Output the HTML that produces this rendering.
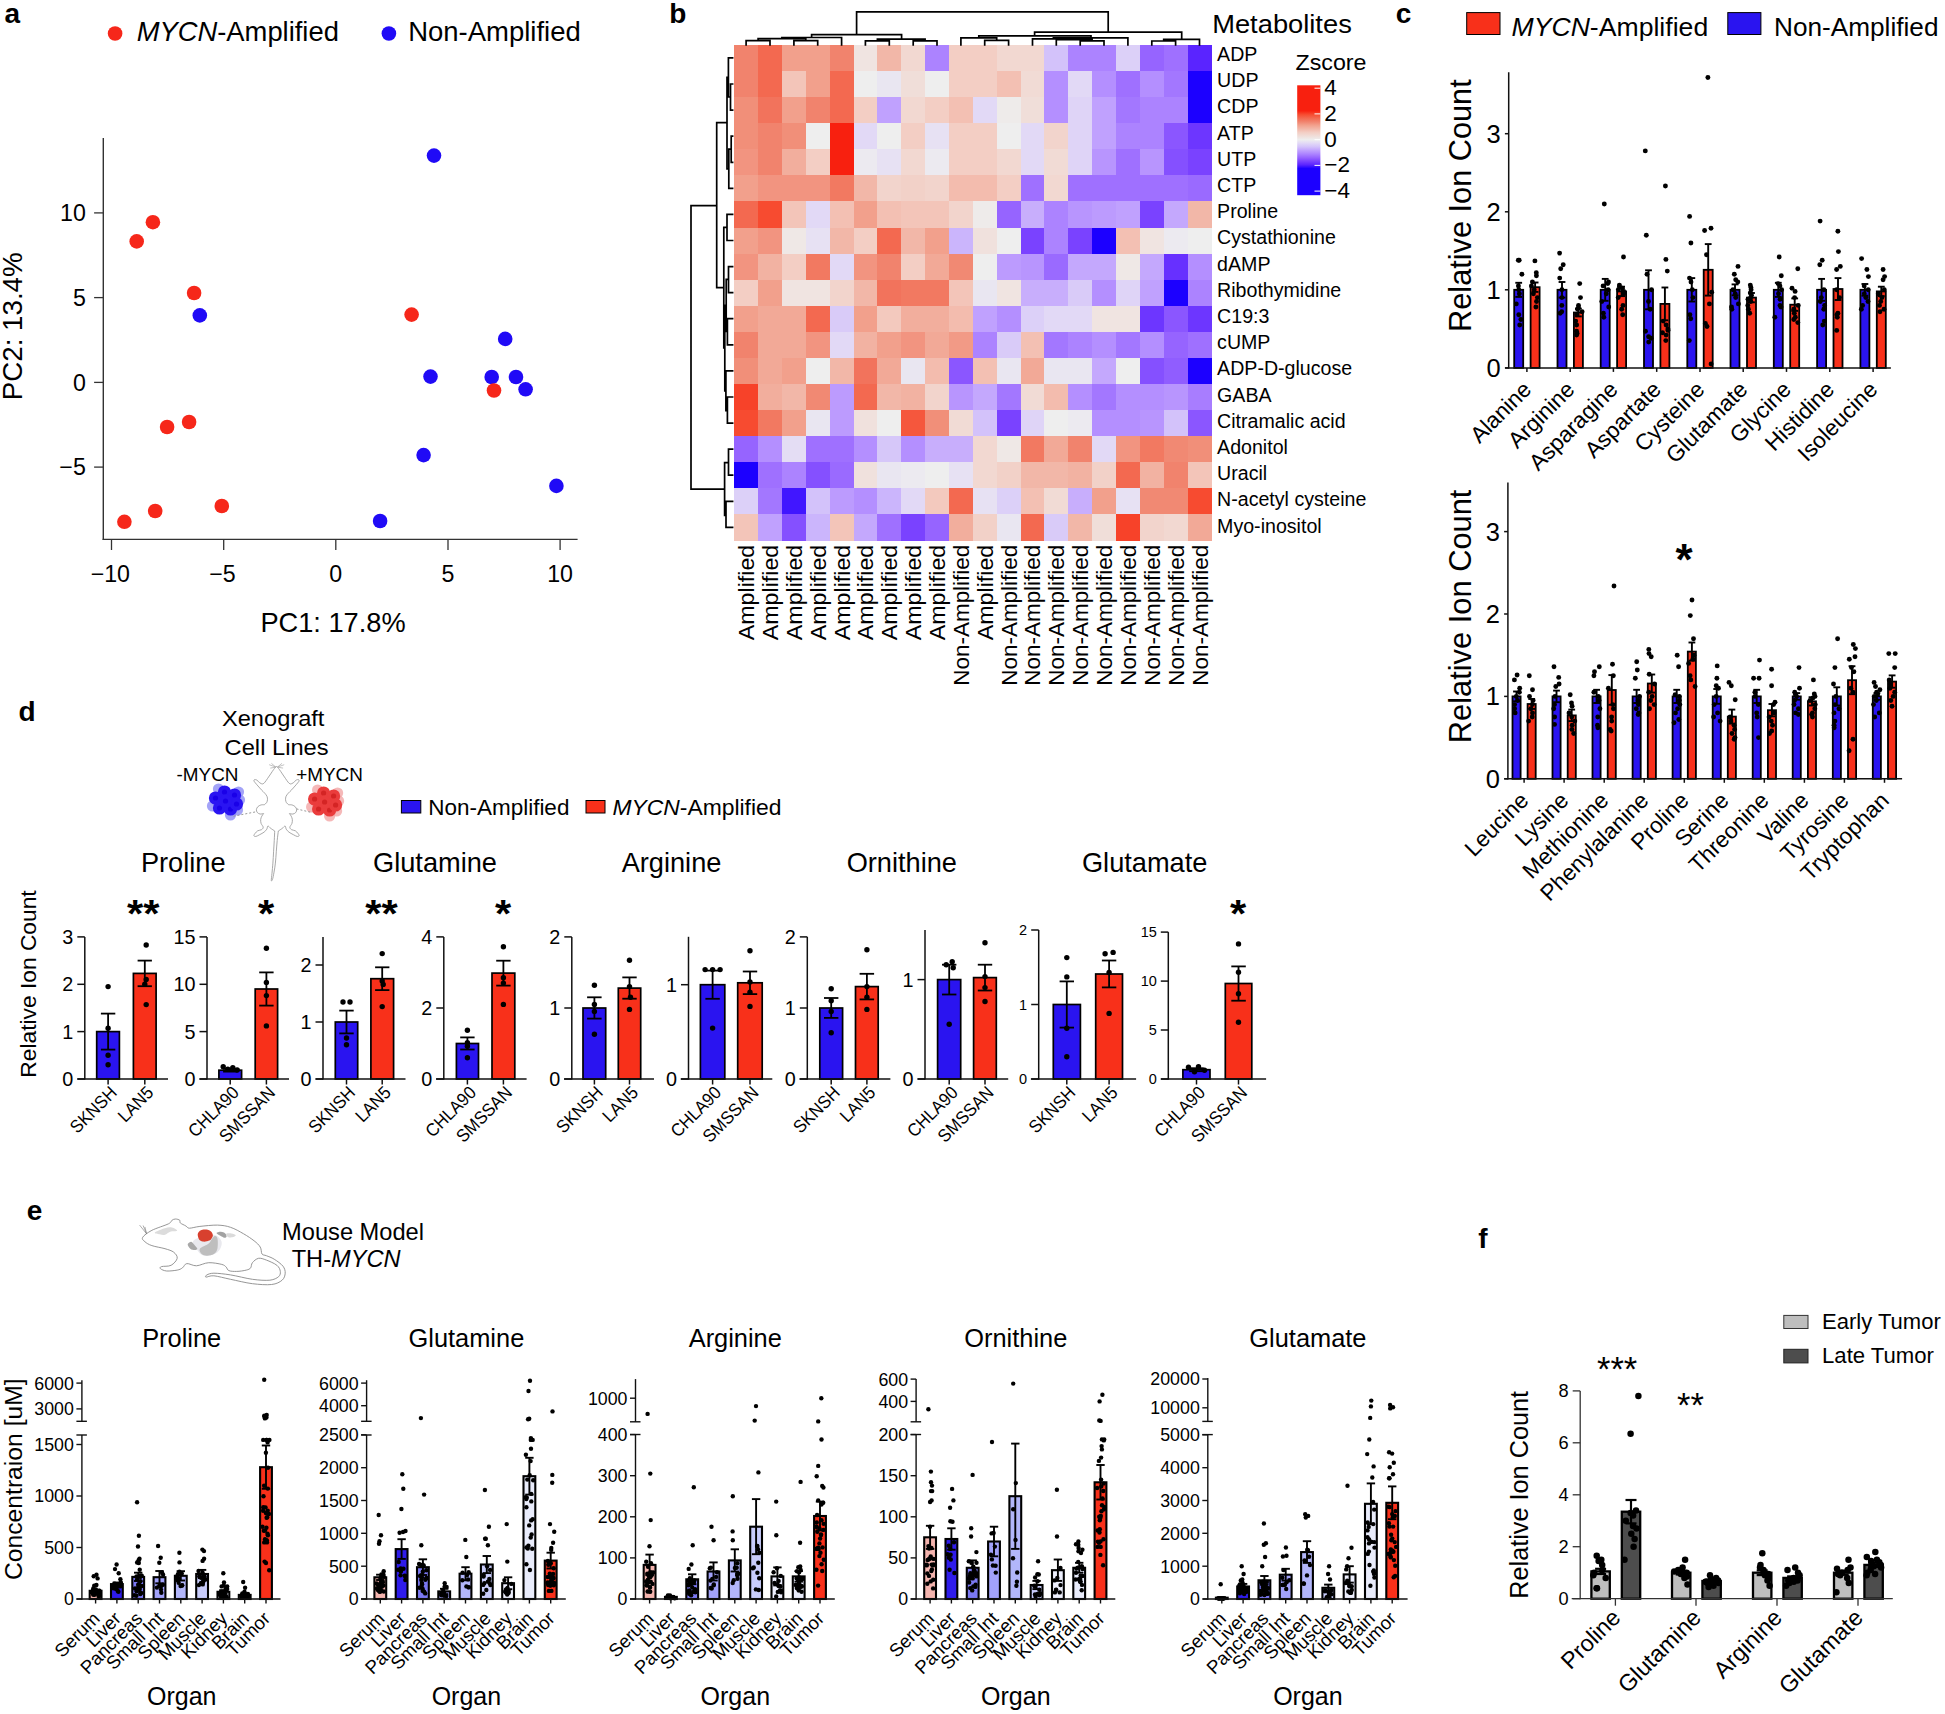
<!DOCTYPE html>
<html><head><meta charset="utf-8"><title>Figure</title>
<style>
html,body{margin:0;padding:0;background:#fff;}
svg{display:block;font-family:"Liberation Sans",Arial,Helvetica,sans-serif;}
</style></head><body>
<svg width="1945" height="1714" viewBox="0 0 1945 1714">
<rect width="1945" height="1714" fill="#fff"/>
<text x="4.5" y="22.8" font-size="28" font-weight="bold">a</text>
<circle cx="115.1" cy="33.5" r="7.3" fill="#F6271A"/>
<text x="136.7" y="41.2" font-size="27.4" textLength="202.2" lengthAdjust="spacingAndGlyphs"><tspan font-style="italic">MYCN</tspan>-Amplified</text>
<circle cx="388.9" cy="33.5" r="7.3" fill="#200AF6"/>
<text x="408.2" y="41.2" font-size="27.4" textLength="172.5" lengthAdjust="spacingAndGlyphs">Non-Amplified</text>
<line x1="103.3" y1="137.9" x2="103.3" y2="540.1" stroke="#333" stroke-width="1.4"/>
<line x1="102.6" y1="539.4" x2="577.6" y2="539.4" stroke="#333" stroke-width="1.4"/>
<line x1="111.5" y1="539.0" x2="111.5" y2="550.0" stroke="#333" stroke-width="1.3"/>
<text x="110.3" y="582.2" font-size="23.2" text-anchor="middle">−10</text>
<line x1="223.7" y1="539.0" x2="223.7" y2="550.0" stroke="#333" stroke-width="1.3"/>
<text x="222.5" y="582.2" font-size="23.2" text-anchor="middle">−5</text>
<line x1="335.8" y1="539.0" x2="335.8" y2="550.0" stroke="#333" stroke-width="1.3"/>
<text x="335.8" y="582.2" font-size="23.2" text-anchor="middle">0</text>
<line x1="448.0" y1="539.0" x2="448.0" y2="550.0" stroke="#333" stroke-width="1.3"/>
<text x="448.0" y="582.2" font-size="23.2" text-anchor="middle">5</text>
<line x1="560.1" y1="539.0" x2="560.1" y2="550.0" stroke="#333" stroke-width="1.3"/>
<text x="560.1" y="582.2" font-size="23.2" text-anchor="middle">10</text>
<line x1="94.1" y1="212.9" x2="103.2" y2="212.9" stroke="#333" stroke-width="1.3"/>
<text x="85.8" y="221.2" font-size="23.2" text-anchor="end">10</text>
<line x1="94.1" y1="297.6" x2="103.2" y2="297.6" stroke="#333" stroke-width="1.3"/>
<text x="85.8" y="305.9" font-size="23.2" text-anchor="end">5</text>
<line x1="94.1" y1="382.4" x2="103.2" y2="382.4" stroke="#333" stroke-width="1.3"/>
<text x="85.8" y="390.7" font-size="23.2" text-anchor="end">0</text>
<line x1="94.1" y1="467.1" x2="103.2" y2="467.1" stroke="#333" stroke-width="1.3"/>
<text x="85.8" y="475.4" font-size="23.2" text-anchor="end">−5</text>
<text x="333.0" y="631.5" font-size="27.2" text-anchor="middle" textLength="145.2" lengthAdjust="spacingAndGlyphs">PC1: 17.8%</text>
<text x="22.3" y="326.3" font-size="27.2" text-anchor="middle" transform="rotate(-90 22.3 326.3)" textLength="148.0" lengthAdjust="spacingAndGlyphs">PC2: 13.4%</text>
<circle cx="434.0" cy="155.6" r="7.3" fill="#200AF6"/>
<circle cx="199.8" cy="315.4" r="7.3" fill="#200AF6"/>
<circle cx="505.2" cy="338.9" r="7.3" fill="#200AF6"/>
<circle cx="430.5" cy="376.6" r="7.3" fill="#200AF6"/>
<circle cx="491.7" cy="377.0" r="7.3" fill="#200AF6"/>
<circle cx="516.0" cy="377.0" r="7.3" fill="#200AF6"/>
<circle cx="525.6" cy="389.3" r="7.3" fill="#200AF6"/>
<circle cx="423.6" cy="455.1" r="7.3" fill="#200AF6"/>
<circle cx="556.4" cy="485.9" r="7.3" fill="#200AF6"/>
<circle cx="380.1" cy="521.0" r="7.3" fill="#200AF6"/>
<circle cx="136.7" cy="241.4" r="7.3" fill="#F6271A"/>
<circle cx="152.9" cy="222.2" r="7.3" fill="#F6271A"/>
<circle cx="194.1" cy="293.0" r="7.3" fill="#F6271A"/>
<circle cx="167.1" cy="427.0" r="7.3" fill="#F6271A"/>
<circle cx="189.1" cy="422.0" r="7.3" fill="#F6271A"/>
<circle cx="124.4" cy="521.8" r="7.3" fill="#F6271A"/>
<circle cx="155.2" cy="511.0" r="7.3" fill="#F6271A"/>
<circle cx="221.8" cy="506.0" r="7.3" fill="#F6271A"/>
<circle cx="411.6" cy="314.6" r="7.3" fill="#F6271A"/>
<circle cx="494.0" cy="390.5" r="7.3" fill="#F6271A"/>
<text x="669.3" y="22.8" font-size="28" font-weight="bold">b</text>
<g shape-rendering="crispEdges">
<rect x="734.2" y="44.9" width="24.4" height="26.6" fill="#f1836d"/>
<rect x="758.1" y="44.9" width="24.4" height="26.6" fill="#f36950"/>
<rect x="781.9" y="44.9" width="24.4" height="26.6" fill="#f2a08c"/>
<rect x="805.8" y="44.9" width="24.4" height="26.6" fill="#f2a08c"/>
<rect x="829.6" y="44.9" width="24.4" height="26.6" fill="#f1836d"/>
<rect x="853.5" y="44.9" width="24.4" height="26.6" fill="#f0e4e1"/>
<rect x="877.4" y="44.9" width="24.4" height="26.6" fill="#f2b7a8"/>
<rect x="901.2" y="44.9" width="24.4" height="26.6" fill="#f2d8d1"/>
<rect x="925.1" y="44.9" width="24.4" height="26.6" fill="#ac83ff"/>
<rect x="948.9" y="44.9" width="24.4" height="26.6" fill="#f3cec4"/>
<rect x="972.8" y="44.9" width="24.4" height="26.6" fill="#f3cec4"/>
<rect x="996.7" y="44.9" width="24.4" height="26.6" fill="#f2d8d1"/>
<rect x="1020.5" y="44.9" width="24.4" height="26.6" fill="#f2d8d1"/>
<rect x="1044.4" y="44.9" width="24.4" height="26.6" fill="#d3c2fa"/>
<rect x="1068.2" y="44.9" width="24.4" height="26.6" fill="#ac83ff"/>
<rect x="1092.1" y="44.9" width="24.4" height="26.6" fill="#ac83ff"/>
<rect x="1116.0" y="44.9" width="24.4" height="26.6" fill="#dcd0f8"/>
<rect x="1139.8" y="44.9" width="24.4" height="26.6" fill="#9664ff"/>
<rect x="1163.7" y="44.9" width="24.4" height="26.6" fill="#9f70ff"/>
<rect x="1187.5" y="44.9" width="24.4" height="26.6" fill="#5a24ff"/>
<rect x="734.2" y="71.0" width="24.4" height="26.6" fill="#f1836d"/>
<rect x="758.1" y="71.0" width="24.4" height="26.6" fill="#f36950"/>
<rect x="781.9" y="71.0" width="24.4" height="26.6" fill="#f3c5b9"/>
<rect x="805.8" y="71.0" width="24.4" height="26.6" fill="#f2a08c"/>
<rect x="829.6" y="71.0" width="24.4" height="26.6" fill="#f36950"/>
<rect x="853.5" y="71.0" width="24.4" height="26.6" fill="#eeeeee"/>
<rect x="877.4" y="71.0" width="24.4" height="26.6" fill="#e9e6f1"/>
<rect x="901.2" y="71.0" width="24.4" height="26.6" fill="#f0ded9"/>
<rect x="925.1" y="71.0" width="24.4" height="26.6" fill="#eeeeee"/>
<rect x="948.9" y="71.0" width="24.4" height="26.6" fill="#f3cec4"/>
<rect x="972.8" y="71.0" width="24.4" height="26.6" fill="#f3cec4"/>
<rect x="996.7" y="71.0" width="24.4" height="26.6" fill="#f3c0b3"/>
<rect x="1020.5" y="71.0" width="24.4" height="26.6" fill="#f1dbd5"/>
<rect x="1044.4" y="71.0" width="24.4" height="26.6" fill="#b48fff"/>
<rect x="1068.2" y="71.0" width="24.4" height="26.6" fill="#e2d9f6"/>
<rect x="1092.1" y="71.0" width="24.4" height="26.6" fill="#b48fff"/>
<rect x="1116.0" y="71.0" width="24.4" height="26.6" fill="#9f70ff"/>
<rect x="1139.8" y="71.0" width="24.4" height="26.6" fill="#b48fff"/>
<rect x="1163.7" y="71.0" width="24.4" height="26.6" fill="#a377ff"/>
<rect x="1187.5" y="71.0" width="24.4" height="26.6" fill="#1c00ff"/>
<rect x="734.2" y="97.1" width="24.4" height="26.6" fill="#f18f79"/>
<rect x="758.1" y="97.1" width="24.4" height="26.6" fill="#f2735c"/>
<rect x="781.9" y="97.1" width="24.4" height="26.6" fill="#f2a08c"/>
<rect x="805.8" y="97.1" width="24.4" height="26.6" fill="#f1836d"/>
<rect x="829.6" y="97.1" width="24.4" height="26.6" fill="#f36950"/>
<rect x="853.5" y="97.1" width="24.4" height="26.6" fill="#f3cec4"/>
<rect x="877.4" y="97.1" width="24.4" height="26.6" fill="#c0a1fe"/>
<rect x="901.2" y="97.1" width="24.4" height="26.6" fill="#f2d8d1"/>
<rect x="925.1" y="97.1" width="24.4" height="26.6" fill="#f3cec4"/>
<rect x="948.9" y="97.1" width="24.4" height="26.6" fill="#f3c0b3"/>
<rect x="972.8" y="97.1" width="24.4" height="26.6" fill="#e2d9f6"/>
<rect x="996.7" y="97.1" width="24.4" height="26.6" fill="#eeebea"/>
<rect x="1020.5" y="97.1" width="24.4" height="26.6" fill="#f0ded9"/>
<rect x="1044.4" y="97.1" width="24.4" height="26.6" fill="#b48fff"/>
<rect x="1068.2" y="97.1" width="24.4" height="26.6" fill="#dfd4f7"/>
<rect x="1092.1" y="97.1" width="24.4" height="26.6" fill="#c0a1fe"/>
<rect x="1116.0" y="97.1" width="24.4" height="26.6" fill="#a377ff"/>
<rect x="1139.8" y="97.1" width="24.4" height="26.6" fill="#ac83ff"/>
<rect x="1163.7" y="97.1" width="24.4" height="26.6" fill="#ac83ff"/>
<rect x="1187.5" y="97.1" width="24.4" height="26.6" fill="#1c00ff"/>
<rect x="734.2" y="123.1" width="24.4" height="26.6" fill="#f18f79"/>
<rect x="758.1" y="123.1" width="24.4" height="26.6" fill="#f1836d"/>
<rect x="781.9" y="123.1" width="24.4" height="26.6" fill="#f18f79"/>
<rect x="805.8" y="123.1" width="24.4" height="26.6" fill="#eeeeee"/>
<rect x="829.6" y="123.1" width="24.4" height="26.6" fill="#f8200f"/>
<rect x="853.5" y="123.1" width="24.4" height="26.6" fill="#e2d9f6"/>
<rect x="877.4" y="123.1" width="24.4" height="26.6" fill="#eeeeee"/>
<rect x="901.2" y="123.1" width="24.4" height="26.6" fill="#f3cec4"/>
<rect x="925.1" y="123.1" width="24.4" height="26.6" fill="#e7e1f3"/>
<rect x="948.9" y="123.1" width="24.4" height="26.6" fill="#f3cec4"/>
<rect x="972.8" y="123.1" width="24.4" height="26.6" fill="#f3cec4"/>
<rect x="996.7" y="123.1" width="24.4" height="26.6" fill="#eeeeee"/>
<rect x="1020.5" y="123.1" width="24.4" height="26.6" fill="#e2d9f6"/>
<rect x="1044.4" y="123.1" width="24.4" height="26.6" fill="#f2d4cc"/>
<rect x="1068.2" y="123.1" width="24.4" height="26.6" fill="#dfd4f7"/>
<rect x="1092.1" y="123.1" width="24.4" height="26.6" fill="#c0a1fe"/>
<rect x="1116.0" y="123.1" width="24.4" height="26.6" fill="#ac83ff"/>
<rect x="1139.8" y="123.1" width="24.4" height="26.6" fill="#ac83ff"/>
<rect x="1163.7" y="123.1" width="24.4" height="26.6" fill="#8b56ff"/>
<rect x="1187.5" y="123.1" width="24.4" height="26.6" fill="#6d36ff"/>
<rect x="734.2" y="149.2" width="24.4" height="26.6" fill="#f29480"/>
<rect x="758.1" y="149.2" width="24.4" height="26.6" fill="#f1836d"/>
<rect x="781.9" y="149.2" width="24.4" height="26.6" fill="#f2ae9d"/>
<rect x="805.8" y="149.2" width="24.4" height="26.6" fill="#f3cec4"/>
<rect x="829.6" y="149.2" width="24.4" height="26.6" fill="#f8200f"/>
<rect x="853.5" y="149.2" width="24.4" height="26.6" fill="#eceaf0"/>
<rect x="877.4" y="149.2" width="24.4" height="26.6" fill="#e7e1f3"/>
<rect x="901.2" y="149.2" width="24.4" height="26.6" fill="#f2d8d1"/>
<rect x="925.1" y="149.2" width="24.4" height="26.6" fill="#eceaf0"/>
<rect x="948.9" y="149.2" width="24.4" height="26.6" fill="#f3cec4"/>
<rect x="972.8" y="149.2" width="24.4" height="26.6" fill="#f3cec4"/>
<rect x="996.7" y="149.2" width="24.4" height="26.6" fill="#f2d8d1"/>
<rect x="1020.5" y="149.2" width="24.4" height="26.6" fill="#e2d9f6"/>
<rect x="1044.4" y="149.2" width="24.4" height="26.6" fill="#f1dbd5"/>
<rect x="1068.2" y="149.2" width="24.4" height="26.6" fill="#dfd4f7"/>
<rect x="1092.1" y="149.2" width="24.4" height="26.6" fill="#b895fe"/>
<rect x="1116.0" y="149.2" width="24.4" height="26.6" fill="#9f70ff"/>
<rect x="1139.8" y="149.2" width="24.4" height="26.6" fill="#b895fe"/>
<rect x="1163.7" y="149.2" width="24.4" height="26.6" fill="#8550ff"/>
<rect x="1187.5" y="149.2" width="24.4" height="26.6" fill="#7a42ff"/>
<rect x="734.2" y="175.3" width="24.4" height="26.6" fill="#f2a08c"/>
<rect x="758.1" y="175.3" width="24.4" height="26.6" fill="#f29480"/>
<rect x="781.9" y="175.3" width="24.4" height="26.6" fill="#f29480"/>
<rect x="805.8" y="175.3" width="24.4" height="26.6" fill="#f29480"/>
<rect x="829.6" y="175.3" width="24.4" height="26.6" fill="#f27961"/>
<rect x="853.5" y="175.3" width="24.4" height="26.6" fill="#f2b7a8"/>
<rect x="877.4" y="175.3" width="24.4" height="26.6" fill="#f2d4cc"/>
<rect x="901.2" y="175.3" width="24.4" height="26.6" fill="#f2d1c8"/>
<rect x="925.1" y="175.3" width="24.4" height="26.6" fill="#f2d4cc"/>
<rect x="948.9" y="175.3" width="24.4" height="26.6" fill="#f3bcae"/>
<rect x="972.8" y="175.3" width="24.4" height="26.6" fill="#f3bcae"/>
<rect x="996.7" y="175.3" width="24.4" height="26.6" fill="#f3cec4"/>
<rect x="1020.5" y="175.3" width="24.4" height="26.6" fill="#9f70ff"/>
<rect x="1044.4" y="175.3" width="24.4" height="26.6" fill="#f2d8d1"/>
<rect x="1068.2" y="175.3" width="24.4" height="26.6" fill="#9f70ff"/>
<rect x="1092.1" y="175.3" width="24.4" height="26.6" fill="#9f70ff"/>
<rect x="1116.0" y="175.3" width="24.4" height="26.6" fill="#9f70ff"/>
<rect x="1139.8" y="175.3" width="24.4" height="26.6" fill="#9f70ff"/>
<rect x="1163.7" y="175.3" width="24.4" height="26.6" fill="#9f70ff"/>
<rect x="1187.5" y="175.3" width="24.4" height="26.6" fill="#9a6aff"/>
<rect x="734.2" y="201.4" width="24.4" height="26.6" fill="#f36950"/>
<rect x="758.1" y="201.4" width="24.4" height="26.6" fill="#f74b30"/>
<rect x="781.9" y="201.4" width="24.4" height="26.6" fill="#f3c5b9"/>
<rect x="805.8" y="201.4" width="24.4" height="26.6" fill="#e2d9f6"/>
<rect x="829.6" y="201.4" width="24.4" height="26.6" fill="#f3c0b3"/>
<rect x="853.5" y="201.4" width="24.4" height="26.6" fill="#f2a08c"/>
<rect x="877.4" y="201.4" width="24.4" height="26.6" fill="#f3c0b3"/>
<rect x="901.2" y="201.4" width="24.4" height="26.6" fill="#f3c5b9"/>
<rect x="925.1" y="201.4" width="24.4" height="26.6" fill="#f3c5b9"/>
<rect x="948.9" y="201.4" width="24.4" height="26.6" fill="#f2d4cc"/>
<rect x="972.8" y="201.4" width="24.4" height="26.6" fill="#eeebea"/>
<rect x="996.7" y="201.4" width="24.4" height="26.6" fill="#9664ff"/>
<rect x="1020.5" y="201.4" width="24.4" height="26.6" fill="#c8aefc"/>
<rect x="1044.4" y="201.4" width="24.4" height="26.6" fill="#ac83ff"/>
<rect x="1068.2" y="201.4" width="24.4" height="26.6" fill="#b895fe"/>
<rect x="1092.1" y="201.4" width="24.4" height="26.6" fill="#bc9bfe"/>
<rect x="1116.0" y="201.4" width="24.4" height="26.6" fill="#c0a1fe"/>
<rect x="1139.8" y="201.4" width="24.4" height="26.6" fill="#7a42ff"/>
<rect x="1163.7" y="201.4" width="24.4" height="26.6" fill="#c4a8fd"/>
<rect x="1187.5" y="201.4" width="24.4" height="26.6" fill="#f2b7a8"/>
<rect x="734.2" y="227.5" width="24.4" height="26.6" fill="#f2a08c"/>
<rect x="758.1" y="227.5" width="24.4" height="26.6" fill="#f29480"/>
<rect x="781.9" y="227.5" width="24.4" height="26.6" fill="#efe8e6"/>
<rect x="805.8" y="227.5" width="24.4" height="26.6" fill="#e7e1f3"/>
<rect x="829.6" y="227.5" width="24.4" height="26.6" fill="#f2b7a8"/>
<rect x="853.5" y="227.5" width="24.4" height="26.6" fill="#f3cec4"/>
<rect x="877.4" y="227.5" width="24.4" height="26.6" fill="#f36950"/>
<rect x="901.2" y="227.5" width="24.4" height="26.6" fill="#f2b7a8"/>
<rect x="925.1" y="227.5" width="24.4" height="26.6" fill="#f2a08c"/>
<rect x="948.9" y="227.5" width="24.4" height="26.6" fill="#cbb5fc"/>
<rect x="972.8" y="227.5" width="24.4" height="26.6" fill="#f0e1dd"/>
<rect x="996.7" y="227.5" width="24.4" height="26.6" fill="#eeeeee"/>
<rect x="1020.5" y="227.5" width="24.4" height="26.6" fill="#7a42ff"/>
<rect x="1044.4" y="227.5" width="24.4" height="26.6" fill="#ac83ff"/>
<rect x="1068.2" y="227.5" width="24.4" height="26.6" fill="#7a42ff"/>
<rect x="1092.1" y="227.5" width="24.4" height="26.6" fill="#1c00ff"/>
<rect x="1116.0" y="227.5" width="24.4" height="26.6" fill="#f3c0b3"/>
<rect x="1139.8" y="227.5" width="24.4" height="26.6" fill="#f0e4e1"/>
<rect x="1163.7" y="227.5" width="24.4" height="26.6" fill="#eceaf0"/>
<rect x="1187.5" y="227.5" width="24.4" height="26.6" fill="#eeeeee"/>
<rect x="734.2" y="253.5" width="24.4" height="26.6" fill="#f29480"/>
<rect x="758.1" y="253.5" width="24.4" height="26.6" fill="#f2b2a2"/>
<rect x="781.9" y="253.5" width="24.4" height="26.6" fill="#f3cec4"/>
<rect x="805.8" y="253.5" width="24.4" height="26.6" fill="#f27961"/>
<rect x="829.6" y="253.5" width="24.4" height="26.6" fill="#e2d9f6"/>
<rect x="853.5" y="253.5" width="24.4" height="26.6" fill="#f29480"/>
<rect x="877.4" y="253.5" width="24.4" height="26.6" fill="#f1836d"/>
<rect x="901.2" y="253.5" width="24.4" height="26.6" fill="#f3cec4"/>
<rect x="925.1" y="253.5" width="24.4" height="26.6" fill="#f2a997"/>
<rect x="948.9" y="253.5" width="24.4" height="26.6" fill="#f18973"/>
<rect x="972.8" y="253.5" width="24.4" height="26.6" fill="#eeeeee"/>
<rect x="996.7" y="253.5" width="24.4" height="26.6" fill="#bc9bfe"/>
<rect x="1020.5" y="253.5" width="24.4" height="26.6" fill="#b895fe"/>
<rect x="1044.4" y="253.5" width="24.4" height="26.6" fill="#9a6aff"/>
<rect x="1068.2" y="253.5" width="24.4" height="26.6" fill="#c4a8fd"/>
<rect x="1092.1" y="253.5" width="24.4" height="26.6" fill="#c4a8fd"/>
<rect x="1116.0" y="253.5" width="24.4" height="26.6" fill="#efe8e6"/>
<rect x="1139.8" y="253.5" width="24.4" height="26.6" fill="#c4a8fd"/>
<rect x="1163.7" y="253.5" width="24.4" height="26.6" fill="#6730ff"/>
<rect x="1187.5" y="253.5" width="24.4" height="26.6" fill="#b48fff"/>
<rect x="734.2" y="279.6" width="24.4" height="26.6" fill="#f3cec4"/>
<rect x="758.1" y="279.6" width="24.4" height="26.6" fill="#f2a08c"/>
<rect x="781.9" y="279.6" width="24.4" height="26.6" fill="#f0e4e1"/>
<rect x="805.8" y="279.6" width="24.4" height="26.6" fill="#f0e4e1"/>
<rect x="829.6" y="279.6" width="24.4" height="26.6" fill="#f2d4cc"/>
<rect x="853.5" y="279.6" width="24.4" height="26.6" fill="#f2b7a8"/>
<rect x="877.4" y="279.6" width="24.4" height="26.6" fill="#f2735c"/>
<rect x="901.2" y="279.6" width="24.4" height="26.6" fill="#f27961"/>
<rect x="925.1" y="279.6" width="24.4" height="26.6" fill="#f27961"/>
<rect x="948.9" y="279.6" width="24.4" height="26.6" fill="#f3c5b9"/>
<rect x="972.8" y="279.6" width="24.4" height="26.6" fill="#e9e6f1"/>
<rect x="996.7" y="279.6" width="24.4" height="26.6" fill="#f0e4e1"/>
<rect x="1020.5" y="279.6" width="24.4" height="26.6" fill="#c8aefc"/>
<rect x="1044.4" y="279.6" width="24.4" height="26.6" fill="#c8aefc"/>
<rect x="1068.2" y="279.6" width="24.4" height="26.6" fill="#d9cbf8"/>
<rect x="1092.1" y="279.6" width="24.4" height="26.6" fill="#b48fff"/>
<rect x="1116.0" y="279.6" width="24.4" height="26.6" fill="#dfd4f7"/>
<rect x="1139.8" y="279.6" width="24.4" height="26.6" fill="#c0a1fe"/>
<rect x="1163.7" y="279.6" width="24.4" height="26.6" fill="#1c00ff"/>
<rect x="1187.5" y="279.6" width="24.4" height="26.6" fill="#ac83ff"/>
<rect x="734.2" y="305.7" width="24.4" height="26.6" fill="#f2a08c"/>
<rect x="758.1" y="305.7" width="24.4" height="26.6" fill="#f2a997"/>
<rect x="781.9" y="305.7" width="24.4" height="26.6" fill="#f2a997"/>
<rect x="805.8" y="305.7" width="24.4" height="26.6" fill="#f36950"/>
<rect x="829.6" y="305.7" width="24.4" height="26.6" fill="#d9cbf8"/>
<rect x="853.5" y="305.7" width="24.4" height="26.6" fill="#f2a08c"/>
<rect x="877.4" y="305.7" width="24.4" height="26.6" fill="#f3c9be"/>
<rect x="901.2" y="305.7" width="24.4" height="26.6" fill="#f2ae9d"/>
<rect x="925.1" y="305.7" width="24.4" height="26.6" fill="#f2ae9d"/>
<rect x="948.9" y="305.7" width="24.4" height="26.6" fill="#f3bcae"/>
<rect x="972.8" y="305.7" width="24.4" height="26.6" fill="#c0a1fe"/>
<rect x="996.7" y="305.7" width="24.4" height="26.6" fill="#b48fff"/>
<rect x="1020.5" y="305.7" width="24.4" height="26.6" fill="#dcd0f8"/>
<rect x="1044.4" y="305.7" width="24.4" height="26.6" fill="#e2d9f6"/>
<rect x="1068.2" y="305.7" width="24.4" height="26.6" fill="#e2d9f6"/>
<rect x="1092.1" y="305.7" width="24.4" height="26.6" fill="#f0e4e1"/>
<rect x="1116.0" y="305.7" width="24.4" height="26.6" fill="#f0e4e1"/>
<rect x="1139.8" y="305.7" width="24.4" height="26.6" fill="#6d36ff"/>
<rect x="1163.7" y="305.7" width="24.4" height="26.6" fill="#8b56ff"/>
<rect x="1187.5" y="305.7" width="24.4" height="26.6" fill="#6d36ff"/>
<rect x="734.2" y="331.8" width="24.4" height="26.6" fill="#f1836d"/>
<rect x="758.1" y="331.8" width="24.4" height="26.6" fill="#f2a997"/>
<rect x="781.9" y="331.8" width="24.4" height="26.6" fill="#f2a997"/>
<rect x="805.8" y="331.8" width="24.4" height="26.6" fill="#f29480"/>
<rect x="829.6" y="331.8" width="24.4" height="26.6" fill="#e2d9f6"/>
<rect x="853.5" y="331.8" width="24.4" height="26.6" fill="#f2b2a2"/>
<rect x="877.4" y="331.8" width="24.4" height="26.6" fill="#f2a08c"/>
<rect x="901.2" y="331.8" width="24.4" height="26.6" fill="#f29480"/>
<rect x="925.1" y="331.8" width="24.4" height="26.6" fill="#f2a997"/>
<rect x="948.9" y="331.8" width="24.4" height="26.6" fill="#f29a86"/>
<rect x="972.8" y="331.8" width="24.4" height="26.6" fill="#ac83ff"/>
<rect x="996.7" y="331.8" width="24.4" height="26.6" fill="#d9cbf8"/>
<rect x="1020.5" y="331.8" width="24.4" height="26.6" fill="#f3c0b3"/>
<rect x="1044.4" y="331.8" width="24.4" height="26.6" fill="#a377ff"/>
<rect x="1068.2" y="331.8" width="24.4" height="26.6" fill="#ac83ff"/>
<rect x="1092.1" y="331.8" width="24.4" height="26.6" fill="#b48fff"/>
<rect x="1116.0" y="331.8" width="24.4" height="26.6" fill="#a377ff"/>
<rect x="1139.8" y="331.8" width="24.4" height="26.6" fill="#b48fff"/>
<rect x="1163.7" y="331.8" width="24.4" height="26.6" fill="#9664ff"/>
<rect x="1187.5" y="331.8" width="24.4" height="26.6" fill="#9f70ff"/>
<rect x="734.2" y="357.9" width="24.4" height="26.6" fill="#f18f79"/>
<rect x="758.1" y="357.9" width="24.4" height="26.6" fill="#f2a997"/>
<rect x="781.9" y="357.9" width="24.4" height="26.6" fill="#f2a08c"/>
<rect x="805.8" y="357.9" width="24.4" height="26.6" fill="#eeeeee"/>
<rect x="829.6" y="357.9" width="24.4" height="26.6" fill="#f2b7a8"/>
<rect x="853.5" y="357.9" width="24.4" height="26.6" fill="#f2735c"/>
<rect x="877.4" y="357.9" width="24.4" height="26.6" fill="#f2a997"/>
<rect x="901.2" y="357.9" width="24.4" height="26.6" fill="#e9e6f1"/>
<rect x="925.1" y="357.9" width="24.4" height="26.6" fill="#f3bcae"/>
<rect x="948.9" y="357.9" width="24.4" height="26.6" fill="#8b56ff"/>
<rect x="972.8" y="357.9" width="24.4" height="26.6" fill="#f3c0b3"/>
<rect x="996.7" y="357.9" width="24.4" height="26.6" fill="#e9e6f1"/>
<rect x="1020.5" y="357.9" width="24.4" height="26.6" fill="#f2a997"/>
<rect x="1044.4" y="357.9" width="24.4" height="26.6" fill="#e9e6f1"/>
<rect x="1068.2" y="357.9" width="24.4" height="26.6" fill="#e9e6f1"/>
<rect x="1092.1" y="357.9" width="24.4" height="26.6" fill="#c4a8fd"/>
<rect x="1116.0" y="357.9" width="24.4" height="26.6" fill="#eeeeee"/>
<rect x="1139.8" y="357.9" width="24.4" height="26.6" fill="#8550ff"/>
<rect x="1163.7" y="357.9" width="24.4" height="26.6" fill="#905dff"/>
<rect x="1187.5" y="357.9" width="24.4" height="26.6" fill="#1c00ff"/>
<rect x="734.2" y="383.9" width="24.4" height="26.6" fill="#f74229"/>
<rect x="758.1" y="383.9" width="24.4" height="26.6" fill="#f2ae9d"/>
<rect x="781.9" y="383.9" width="24.4" height="26.6" fill="#f2b7a8"/>
<rect x="805.8" y="383.9" width="24.4" height="26.6" fill="#f18973"/>
<rect x="829.6" y="383.9" width="24.4" height="26.6" fill="#bc9bfe"/>
<rect x="853.5" y="383.9" width="24.4" height="26.6" fill="#f36950"/>
<rect x="877.4" y="383.9" width="24.4" height="26.6" fill="#f2b7a8"/>
<rect x="901.2" y="383.9" width="24.4" height="26.6" fill="#f2b2a2"/>
<rect x="925.1" y="383.9" width="24.4" height="26.6" fill="#f2d4cc"/>
<rect x="948.9" y="383.9" width="24.4" height="26.6" fill="#b895fe"/>
<rect x="972.8" y="383.9" width="24.4" height="26.6" fill="#c4a8fd"/>
<rect x="996.7" y="383.9" width="24.4" height="26.6" fill="#a377ff"/>
<rect x="1020.5" y="383.9" width="24.4" height="26.6" fill="#f1dbd5"/>
<rect x="1044.4" y="383.9" width="24.4" height="26.6" fill="#f3bcae"/>
<rect x="1068.2" y="383.9" width="24.4" height="26.6" fill="#b48fff"/>
<rect x="1092.1" y="383.9" width="24.4" height="26.6" fill="#a377ff"/>
<rect x="1116.0" y="383.9" width="24.4" height="26.6" fill="#b48fff"/>
<rect x="1139.8" y="383.9" width="24.4" height="26.6" fill="#b48fff"/>
<rect x="1163.7" y="383.9" width="24.4" height="26.6" fill="#b895fe"/>
<rect x="1187.5" y="383.9" width="24.4" height="26.6" fill="#a87dff"/>
<rect x="734.2" y="410.0" width="24.4" height="26.6" fill="#f74b30"/>
<rect x="758.1" y="410.0" width="24.4" height="26.6" fill="#f27961"/>
<rect x="781.9" y="410.0" width="24.4" height="26.6" fill="#f2a08c"/>
<rect x="805.8" y="410.0" width="24.4" height="26.6" fill="#e9e6f1"/>
<rect x="829.6" y="410.0" width="24.4" height="26.6" fill="#bc9bfe"/>
<rect x="853.5" y="410.0" width="24.4" height="26.6" fill="#f0e1dd"/>
<rect x="877.4" y="410.0" width="24.4" height="26.6" fill="#eeeeee"/>
<rect x="901.2" y="410.0" width="24.4" height="26.6" fill="#f5573d"/>
<rect x="925.1" y="410.0" width="24.4" height="26.6" fill="#f18f79"/>
<rect x="948.9" y="410.0" width="24.4" height="26.6" fill="#f1dbd5"/>
<rect x="972.8" y="410.0" width="24.4" height="26.6" fill="#d3c2fa"/>
<rect x="996.7" y="410.0" width="24.4" height="26.6" fill="#7a42ff"/>
<rect x="1020.5" y="410.0" width="24.4" height="26.6" fill="#dfd4f7"/>
<rect x="1044.4" y="410.0" width="24.4" height="26.6" fill="#eeeeee"/>
<rect x="1068.2" y="410.0" width="24.4" height="26.6" fill="#eceaf0"/>
<rect x="1092.1" y="410.0" width="24.4" height="26.6" fill="#b48fff"/>
<rect x="1116.0" y="410.0" width="24.4" height="26.6" fill="#b48fff"/>
<rect x="1139.8" y="410.0" width="24.4" height="26.6" fill="#b895fe"/>
<rect x="1163.7" y="410.0" width="24.4" height="26.6" fill="#d3c2fa"/>
<rect x="1187.5" y="410.0" width="24.4" height="26.6" fill="#8b56ff"/>
<rect x="734.2" y="436.1" width="24.4" height="26.6" fill="#9664ff"/>
<rect x="758.1" y="436.1" width="24.4" height="26.6" fill="#b48fff"/>
<rect x="781.9" y="436.1" width="24.4" height="26.6" fill="#e4ddf4"/>
<rect x="805.8" y="436.1" width="24.4" height="26.6" fill="#9f70ff"/>
<rect x="829.6" y="436.1" width="24.4" height="26.6" fill="#9f70ff"/>
<rect x="853.5" y="436.1" width="24.4" height="26.6" fill="#b48fff"/>
<rect x="877.4" y="436.1" width="24.4" height="26.6" fill="#d6c7f9"/>
<rect x="901.2" y="436.1" width="24.4" height="26.6" fill="#b48fff"/>
<rect x="925.1" y="436.1" width="24.4" height="26.6" fill="#c8aefc"/>
<rect x="948.9" y="436.1" width="24.4" height="26.6" fill="#c8aefc"/>
<rect x="972.8" y="436.1" width="24.4" height="26.6" fill="#f2d8d1"/>
<rect x="996.7" y="436.1" width="24.4" height="26.6" fill="#efe8e6"/>
<rect x="1020.5" y="436.1" width="24.4" height="26.6" fill="#f27961"/>
<rect x="1044.4" y="436.1" width="24.4" height="26.6" fill="#f2a997"/>
<rect x="1068.2" y="436.1" width="24.4" height="26.6" fill="#f1836d"/>
<rect x="1092.1" y="436.1" width="24.4" height="26.6" fill="#e2d9f6"/>
<rect x="1116.0" y="436.1" width="24.4" height="26.6" fill="#f29480"/>
<rect x="1139.8" y="436.1" width="24.4" height="26.6" fill="#f27961"/>
<rect x="1163.7" y="436.1" width="24.4" height="26.6" fill="#f18973"/>
<rect x="1187.5" y="436.1" width="24.4" height="26.6" fill="#f18f79"/>
<rect x="734.2" y="462.2" width="24.4" height="26.6" fill="#1c00ff"/>
<rect x="758.1" y="462.2" width="24.4" height="26.6" fill="#9f70ff"/>
<rect x="781.9" y="462.2" width="24.4" height="26.6" fill="#ac83ff"/>
<rect x="805.8" y="462.2" width="24.4" height="26.6" fill="#8550ff"/>
<rect x="829.6" y="462.2" width="24.4" height="26.6" fill="#9a6aff"/>
<rect x="853.5" y="462.2" width="24.4" height="26.6" fill="#f0e1dd"/>
<rect x="877.4" y="462.2" width="24.4" height="26.6" fill="#e9e6f1"/>
<rect x="901.2" y="462.2" width="24.4" height="26.6" fill="#eceaf0"/>
<rect x="925.1" y="462.2" width="24.4" height="26.6" fill="#eeeeee"/>
<rect x="948.9" y="462.2" width="24.4" height="26.6" fill="#e7e1f3"/>
<rect x="972.8" y="462.2" width="24.4" height="26.6" fill="#f2d8d1"/>
<rect x="996.7" y="462.2" width="24.4" height="26.6" fill="#f2d1c8"/>
<rect x="1020.5" y="462.2" width="24.4" height="26.6" fill="#f2b7a8"/>
<rect x="1044.4" y="462.2" width="24.4" height="26.6" fill="#f2b7a8"/>
<rect x="1068.2" y="462.2" width="24.4" height="26.6" fill="#f2b2a2"/>
<rect x="1092.1" y="462.2" width="24.4" height="26.6" fill="#f2d1c8"/>
<rect x="1116.0" y="462.2" width="24.4" height="26.6" fill="#f36950"/>
<rect x="1139.8" y="462.2" width="24.4" height="26.6" fill="#f2b2a2"/>
<rect x="1163.7" y="462.2" width="24.4" height="26.6" fill="#f1836d"/>
<rect x="1187.5" y="462.2" width="24.4" height="26.6" fill="#f3c5b9"/>
<rect x="734.2" y="488.3" width="24.4" height="26.6" fill="#dcd0f8"/>
<rect x="758.1" y="488.3" width="24.4" height="26.6" fill="#a377ff"/>
<rect x="781.9" y="488.3" width="24.4" height="26.6" fill="#4116ff"/>
<rect x="805.8" y="488.3" width="24.4" height="26.6" fill="#d3c2fa"/>
<rect x="829.6" y="488.3" width="24.4" height="26.6" fill="#bc9bfe"/>
<rect x="853.5" y="488.3" width="24.4" height="26.6" fill="#b48fff"/>
<rect x="877.4" y="488.3" width="24.4" height="26.6" fill="#cbb5fc"/>
<rect x="901.2" y="488.3" width="24.4" height="26.6" fill="#e2d9f6"/>
<rect x="925.1" y="488.3" width="24.4" height="26.6" fill="#f3c9be"/>
<rect x="948.9" y="488.3" width="24.4" height="26.6" fill="#f36950"/>
<rect x="972.8" y="488.3" width="24.4" height="26.6" fill="#e7e1f3"/>
<rect x="996.7" y="488.3" width="24.4" height="26.6" fill="#dcd0f8"/>
<rect x="1020.5" y="488.3" width="24.4" height="26.6" fill="#f3c0b3"/>
<rect x="1044.4" y="488.3" width="24.4" height="26.6" fill="#f1dbd5"/>
<rect x="1068.2" y="488.3" width="24.4" height="26.6" fill="#c8aefc"/>
<rect x="1092.1" y="488.3" width="24.4" height="26.6" fill="#f2a08c"/>
<rect x="1116.0" y="488.3" width="24.4" height="26.6" fill="#e7e1f3"/>
<rect x="1139.8" y="488.3" width="24.4" height="26.6" fill="#f18973"/>
<rect x="1163.7" y="488.3" width="24.4" height="26.6" fill="#f18973"/>
<rect x="1187.5" y="488.3" width="24.4" height="26.6" fill="#f74b30"/>
<rect x="734.2" y="514.3" width="24.4" height="26.6" fill="#f3c5b9"/>
<rect x="758.1" y="514.3" width="24.4" height="26.6" fill="#c0a1fe"/>
<rect x="781.9" y="514.3" width="24.4" height="26.6" fill="#8550ff"/>
<rect x="805.8" y="514.3" width="24.4" height="26.6" fill="#cbb5fc"/>
<rect x="829.6" y="514.3" width="24.4" height="26.6" fill="#f3c5b9"/>
<rect x="853.5" y="514.3" width="24.4" height="26.6" fill="#c4a8fd"/>
<rect x="877.4" y="514.3" width="24.4" height="26.6" fill="#9f70ff"/>
<rect x="901.2" y="514.3" width="24.4" height="26.6" fill="#7a42ff"/>
<rect x="925.1" y="514.3" width="24.4" height="26.6" fill="#9664ff"/>
<rect x="948.9" y="514.3" width="24.4" height="26.6" fill="#f2ae9d"/>
<rect x="972.8" y="514.3" width="24.4" height="26.6" fill="#f2d1c8"/>
<rect x="996.7" y="514.3" width="24.4" height="26.6" fill="#e9e6f1"/>
<rect x="1020.5" y="514.3" width="24.4" height="26.6" fill="#f36950"/>
<rect x="1044.4" y="514.3" width="24.4" height="26.6" fill="#d9cbf8"/>
<rect x="1068.2" y="514.3" width="24.4" height="26.6" fill="#f2b7a8"/>
<rect x="1092.1" y="514.3" width="24.4" height="26.6" fill="#f0ded9"/>
<rect x="1116.0" y="514.3" width="24.4" height="26.6" fill="#f74229"/>
<rect x="1139.8" y="514.3" width="24.4" height="26.6" fill="#f2d4cc"/>
<rect x="1163.7" y="514.3" width="24.4" height="26.6" fill="#f2d8d1"/>
<rect x="1187.5" y="514.3" width="24.4" height="26.6" fill="#f2a997"/>
</g>
<text x="1217.1" y="61.0" font-size="19.6">ADP</text>
<text x="1217.1" y="87.2" font-size="19.6">UDP</text>
<text x="1217.1" y="113.4" font-size="19.6">CDP</text>
<text x="1217.1" y="139.6" font-size="19.6">ATP</text>
<text x="1217.1" y="165.8" font-size="19.6">UTP</text>
<text x="1217.1" y="192.0" font-size="19.6">CTP</text>
<text x="1217.1" y="218.2" font-size="19.6">Proline</text>
<text x="1217.1" y="244.4" font-size="19.6">Cystathionine</text>
<text x="1217.1" y="270.6" font-size="19.6">dAMP</text>
<text x="1217.1" y="296.8" font-size="19.6">Ribothymidine</text>
<text x="1217.1" y="323.0" font-size="19.6">C19:3</text>
<text x="1217.1" y="349.2" font-size="19.6">cUMP</text>
<text x="1217.1" y="375.4" font-size="19.6">ADP-D-glucose</text>
<text x="1217.1" y="401.6" font-size="19.6">GABA</text>
<text x="1217.1" y="427.8" font-size="19.6">Citramalic acid</text>
<text x="1217.1" y="454.0" font-size="19.6">Adonitol</text>
<text x="1217.1" y="480.2" font-size="19.6">Uracil</text>
<text x="1217.1" y="506.4" font-size="19.6">N-acetyl cysteine</text>
<text x="1217.1" y="532.6" font-size="19.6">Myo-inositol</text>
<text x="754.2" y="544.7" font-size="22.6" text-anchor="end" transform="rotate(-90 754.2 544.7)" textLength="95.5" lengthAdjust="spacingAndGlyphs">Amplified</text>
<text x="778.1" y="544.7" font-size="22.6" text-anchor="end" transform="rotate(-90 778.1 544.7)" textLength="95.5" lengthAdjust="spacingAndGlyphs">Amplified</text>
<text x="802.0" y="544.7" font-size="22.6" text-anchor="end" transform="rotate(-90 802.0 544.7)" textLength="95.5" lengthAdjust="spacingAndGlyphs">Amplified</text>
<text x="825.8" y="544.7" font-size="22.6" text-anchor="end" transform="rotate(-90 825.8 544.7)" textLength="95.5" lengthAdjust="spacingAndGlyphs">Amplified</text>
<text x="849.7" y="544.7" font-size="22.6" text-anchor="end" transform="rotate(-90 849.7 544.7)" textLength="95.5" lengthAdjust="spacingAndGlyphs">Amplified</text>
<text x="873.5" y="544.7" font-size="22.6" text-anchor="end" transform="rotate(-90 873.5 544.7)" textLength="95.5" lengthAdjust="spacingAndGlyphs">Amplified</text>
<text x="897.4" y="544.7" font-size="22.6" text-anchor="end" transform="rotate(-90 897.4 544.7)" textLength="95.5" lengthAdjust="spacingAndGlyphs">Amplified</text>
<text x="921.3" y="544.7" font-size="22.6" text-anchor="end" transform="rotate(-90 921.3 544.7)" textLength="95.5" lengthAdjust="spacingAndGlyphs">Amplified</text>
<text x="945.1" y="544.7" font-size="22.6" text-anchor="end" transform="rotate(-90 945.1 544.7)" textLength="95.5" lengthAdjust="spacingAndGlyphs">Amplified</text>
<text x="969.0" y="544.7" font-size="22.6" text-anchor="end" transform="rotate(-90 969.0 544.7)" textLength="141.0" lengthAdjust="spacingAndGlyphs">Non-Amplified</text>
<text x="992.8" y="544.7" font-size="22.6" text-anchor="end" transform="rotate(-90 992.8 544.7)" textLength="95.5" lengthAdjust="spacingAndGlyphs">Amplified</text>
<text x="1016.7" y="544.7" font-size="22.6" text-anchor="end" transform="rotate(-90 1016.7 544.7)" textLength="141.0" lengthAdjust="spacingAndGlyphs">Non-Amplified</text>
<text x="1040.5" y="544.7" font-size="22.6" text-anchor="end" transform="rotate(-90 1040.5 544.7)" textLength="141.0" lengthAdjust="spacingAndGlyphs">Non-Amplified</text>
<text x="1064.4" y="544.7" font-size="22.6" text-anchor="end" transform="rotate(-90 1064.4 544.7)" textLength="141.0" lengthAdjust="spacingAndGlyphs">Non-Amplified</text>
<text x="1088.3" y="544.7" font-size="22.6" text-anchor="end" transform="rotate(-90 1088.3 544.7)" textLength="141.0" lengthAdjust="spacingAndGlyphs">Non-Amplified</text>
<text x="1112.1" y="544.7" font-size="22.6" text-anchor="end" transform="rotate(-90 1112.1 544.7)" textLength="141.0" lengthAdjust="spacingAndGlyphs">Non-Amplified</text>
<text x="1136.0" y="544.7" font-size="22.6" text-anchor="end" transform="rotate(-90 1136.0 544.7)" textLength="141.0" lengthAdjust="spacingAndGlyphs">Non-Amplified</text>
<text x="1159.8" y="544.7" font-size="22.6" text-anchor="end" transform="rotate(-90 1159.8 544.7)" textLength="141.0" lengthAdjust="spacingAndGlyphs">Non-Amplified</text>
<text x="1183.7" y="544.7" font-size="22.6" text-anchor="end" transform="rotate(-90 1183.7 544.7)" textLength="141.0" lengthAdjust="spacingAndGlyphs">Non-Amplified</text>
<text x="1207.6" y="544.7" font-size="22.6" text-anchor="end" transform="rotate(-90 1207.6 544.7)" textLength="141.0" lengthAdjust="spacingAndGlyphs">Non-Amplified</text>
<text x="1212.2" y="32.7" font-size="26.5" textLength="139.6" lengthAdjust="spacingAndGlyphs">Metabolites</text>
<text x="1295.5" y="70.2" font-size="22.5" textLength="71.0" lengthAdjust="spacingAndGlyphs">Zscore</text>
<defs><linearGradient id="zg" x1="0" y1="0" x2="0" y2="1">
<stop offset="0.000" stop-color="#f8200f"/>
<stop offset="0.232" stop-color="#f8200f"/>
<stop offset="0.265" stop-color="#f74b30"/>
<stop offset="0.298" stop-color="#f36950"/>
<stop offset="0.331" stop-color="#f1836d"/>
<stop offset="0.363" stop-color="#f2a08c"/>
<stop offset="0.396" stop-color="#f2b7a8"/>
<stop offset="0.429" stop-color="#f3cec4"/>
<stop offset="0.462" stop-color="#f0ded9"/>
<stop offset="0.495" stop-color="#eeeeee"/>
<stop offset="0.527" stop-color="#e2d9f6"/>
<stop offset="0.560" stop-color="#d3c2fa"/>
<stop offset="0.593" stop-color="#c0a1fe"/>
<stop offset="0.626" stop-color="#ac83ff"/>
<stop offset="0.658" stop-color="#9664ff"/>
<stop offset="0.691" stop-color="#7a42ff"/>
<stop offset="0.724" stop-color="#5a24ff"/>
<stop offset="0.757" stop-color="#1c00ff"/>
<stop offset="1.000" stop-color="#1c00ff"/>
</linearGradient></defs>
<rect x="1297.2" y="85.3" width="23.2" height="109.9" fill="url(#zg)"/>
<line x1="1314.5" y1="88.2" x2="1320.4" y2="88.2" stroke="#fff" stroke-width="1"/>
<text x="1324.3" y="95.2" font-size="22.5">4</text>
<line x1="1314.5" y1="113.9" x2="1320.4" y2="113.9" stroke="#fff" stroke-width="1"/>
<text x="1324.3" y="120.9" font-size="22.5">2</text>
<line x1="1314.5" y1="139.7" x2="1320.4" y2="139.7" stroke="#fff" stroke-width="1"/>
<text x="1324.3" y="146.7" font-size="22.5">0</text>
<line x1="1314.5" y1="165.4" x2="1320.4" y2="165.4" stroke="#fff" stroke-width="1"/>
<text x="1324.3" y="172.4" font-size="22.5">−2</text>
<line x1="1314.5" y1="191.1" x2="1320.4" y2="191.1" stroke="#fff" stroke-width="1"/>
<text x="1324.3" y="198.1" font-size="22.5">−4</text>
<path d="M856.6 11.8H1108.2M856.6 11.8V34.6M1108.2 11.8V32.1M811.6 34.6H901.6M811.6 34.6V37.5M901.6 34.6V39.1M781.9 37.5H841.6M841.6 37.5V44.9M781.9 37.5V38.6M758.1 38.6H805.8M758.1 38.6V40.7M805.8 38.6V40.7M746.1 40.7H770.0M746.1 40.7V44.9M770.0 40.7V44.9M793.9 40.7H817.7M793.9 40.7V44.9M817.7 40.7V44.9M877.4 39.1H925.1M877.4 39.1V40.9M925.1 39.1V40.9M865.4 40.9H889.3M865.4 40.9V44.9M889.3 40.9V44.9M913.2 40.9H937.0M913.2 40.9V44.9M937.0 40.9V44.9M1034.6 32.1H1181.7M1034.6 32.1V35.9M1181.7 32.1V39.4M1163.7 39.4H1199.5M1199.5 39.4V44.9M1163.7 39.4V41.0M1151.8 41.0H1175.6M1151.8 41.0V44.9M1175.6 41.0V44.9M978.8 35.9H1091.0M978.8 35.9V37.9M1091.0 35.9V37.9M960.9 37.9H996.7M960.9 37.9V44.9M996.7 37.9V40.4M984.7 40.4H1008.6M984.7 40.4V44.9M1008.6 40.4V44.9M1053.4 37.9H1127.9M1127.9 37.9V44.9M1053.4 37.9V38.8M1032.5 38.8H1074.2M1032.5 38.8V44.9M1074.2 38.8V39.7M1056.3 39.7H1092.1M1056.3 39.7V44.9M1092.1 39.7V40.8M1080.2 40.8H1104.0M1080.2 40.8V44.9M1104.0 40.8V44.9M691.0 205.6V489.1M691.0 205.6H716.7M691.0 489.1H724.6M716.7 122.6V287.6M716.7 122.6H727.0M727.0 77.4V168.8M727.0 77.4H728.4M728.4 57.9V97.0M728.4 57.9H732.6M728.4 97.0H730.5M730.5 84.0V110.1M730.5 84.0H732.6M730.5 110.1H732.6M727.0 168.8H728.8M728.8 149.1V188.3M728.8 188.3H732.6M728.8 149.1H731.2M731.2 136.2V162.3M731.2 136.2H732.6M731.2 162.3H732.6M716.7 287.6H723.8M723.8 227.3V347.9M723.8 227.3H727.0M727.0 214.4V240.5M727.0 214.4H732.6M727.0 240.5H732.6M723.8 347.9H724.8M724.8 305.4V391.0M724.8 305.4H726.2M726.2 279.4V331.4M726.2 279.4H728.5M728.5 266.6V292.7M728.5 266.6H732.6M728.5 292.7H732.6M726.2 331.4H727.4M727.4 318.7V344.8M727.4 318.7H732.6M727.4 344.8H732.6M724.8 391.0H725.9M725.9 370.9V410.6M725.9 370.9H732.6M725.9 410.6H727.4M727.4 397.0V423.1M727.4 397.0H732.6M727.4 423.1H732.6M724.6 462.7V515.4M724.6 462.7H728.5M728.5 449.1V475.2M728.5 449.1H732.6M728.5 475.2H732.6M724.6 515.4H726.0M726.0 501.3V527.4M726.0 501.3H732.6M726.0 527.4H732.6" fill="none" stroke="#000" stroke-width="1.7" stroke-linecap="square"/>
<text x="1395.8" y="22.9" font-size="28" font-weight="bold">c</text>
<rect x="1466.7" y="12.6" width="33.3" height="21.9" fill="#F8301A" stroke="#000" stroke-width="1"/>
<text x="1511.5" y="35.9" font-size="26.5" textLength="196.7" lengthAdjust="spacingAndGlyphs"><tspan font-style="italic">MYCN</tspan>-Amplified</text>
<rect x="1727.8" y="12.6" width="33.1" height="21.9" fill="#2A14F0" stroke="#000" stroke-width="1"/>
<text x="1774.0" y="35.9" font-size="26.5" textLength="164.5" lengthAdjust="spacingAndGlyphs">Non-Amplified</text>
<rect x="1514.2" y="289.8" width="9.0" height="78.1" fill="#2A14F0" stroke="#000" stroke-width="1.8"/>
<line x1="1518.7" y1="282.8" x2="1518.7" y2="296.9" stroke="#000" stroke-width="1.9"/>
<line x1="1515.3" y1="282.8" x2="1522.1" y2="282.8" stroke="#000" stroke-width="1.9"/>
<line x1="1515.3" y1="296.9" x2="1522.1" y2="296.9" stroke="#000" stroke-width="1.9"/>
<circle cx="1518.3" cy="260.2" r="2.45" fill="#000"/>
<circle cx="1519.2" cy="260.2" r="2.45" fill="#000"/>
<circle cx="1521.9" cy="274.2" r="2.45" fill="#000"/>
<circle cx="1518.4" cy="285.9" r="2.45" fill="#000"/>
<circle cx="1518.8" cy="289.8" r="2.45" fill="#000"/>
<circle cx="1519.4" cy="293.7" r="2.45" fill="#000"/>
<circle cx="1516.3" cy="303.9" r="2.45" fill="#000"/>
<circle cx="1518.8" cy="314.8" r="2.45" fill="#000"/>
<circle cx="1519.7" cy="325.0" r="2.45" fill="#000"/>
<circle cx="1520.9" cy="319.5" r="2.45" fill="#000"/>
<rect x="1530.6" y="287.2" width="9.0" height="80.7" fill="#F8301A" stroke="#000" stroke-width="1.8"/>
<line x1="1535.1" y1="282.5" x2="1535.1" y2="291.9" stroke="#000" stroke-width="1.9"/>
<line x1="1531.7" y1="282.5" x2="1538.5" y2="282.5" stroke="#000" stroke-width="1.9"/>
<line x1="1531.7" y1="291.9" x2="1538.5" y2="291.9" stroke="#000" stroke-width="1.9"/>
<circle cx="1534.9" cy="260.9" r="2.45" fill="#000"/>
<circle cx="1536.3" cy="272.7" r="2.45" fill="#000"/>
<circle cx="1536.4" cy="275.8" r="2.45" fill="#000"/>
<circle cx="1532.4" cy="282.0" r="2.45" fill="#000"/>
<circle cx="1531.4" cy="285.9" r="2.45" fill="#000"/>
<circle cx="1534.2" cy="289.8" r="2.45" fill="#000"/>
<circle cx="1533.4" cy="293.7" r="2.45" fill="#000"/>
<circle cx="1537.4" cy="297.6" r="2.45" fill="#000"/>
<circle cx="1536.5" cy="301.5" r="2.45" fill="#000"/>
<circle cx="1535.9" cy="307.0" r="2.45" fill="#000"/>
<rect x="1557.5" y="289.8" width="9.0" height="78.1" fill="#2A14F0" stroke="#000" stroke-width="1.8"/>
<line x1="1562.0" y1="282.0" x2="1562.0" y2="297.6" stroke="#000" stroke-width="1.9"/>
<line x1="1558.6" y1="282.0" x2="1565.4" y2="282.0" stroke="#000" stroke-width="1.9"/>
<line x1="1558.6" y1="297.6" x2="1565.4" y2="297.6" stroke="#000" stroke-width="1.9"/>
<circle cx="1559.6" cy="253.1" r="2.45" fill="#000"/>
<circle cx="1563.2" cy="264.8" r="2.45" fill="#000"/>
<circle cx="1560.7" cy="268.8" r="2.45" fill="#000"/>
<circle cx="1559.7" cy="278.1" r="2.45" fill="#000"/>
<circle cx="1561.9" cy="289.8" r="2.45" fill="#000"/>
<circle cx="1561.9" cy="297.6" r="2.45" fill="#000"/>
<circle cx="1561.8" cy="305.4" r="2.45" fill="#000"/>
<circle cx="1561.7" cy="311.7" r="2.45" fill="#000"/>
<circle cx="1560.2" cy="313.3" r="2.45" fill="#000"/>
<rect x="1573.9" y="312.5" width="9.0" height="55.4" fill="#F8301A" stroke="#000" stroke-width="1.8"/>
<line x1="1578.4" y1="308.6" x2="1578.4" y2="316.4" stroke="#000" stroke-width="1.9"/>
<line x1="1575.0" y1="308.6" x2="1581.8" y2="308.6" stroke="#000" stroke-width="1.9"/>
<line x1="1575.0" y1="316.4" x2="1581.8" y2="316.4" stroke="#000" stroke-width="1.9"/>
<circle cx="1579.7" cy="283.6" r="2.45" fill="#000"/>
<circle cx="1580.5" cy="297.6" r="2.45" fill="#000"/>
<circle cx="1578.5" cy="305.4" r="2.45" fill="#000"/>
<circle cx="1578.5" cy="307.8" r="2.45" fill="#000"/>
<circle cx="1577.6" cy="309.3" r="2.45" fill="#000"/>
<circle cx="1582.1" cy="311.7" r="2.45" fill="#000"/>
<circle cx="1576.8" cy="314.8" r="2.45" fill="#000"/>
<circle cx="1575.7" cy="321.1" r="2.45" fill="#000"/>
<circle cx="1576.6" cy="325.0" r="2.45" fill="#000"/>
<circle cx="1576.6" cy="331.2" r="2.45" fill="#000"/>
<circle cx="1577.1" cy="333.5" r="2.45" fill="#000"/>
<circle cx="1576.6" cy="335.1" r="2.45" fill="#000"/>
<rect x="1600.7" y="289.8" width="9.0" height="78.1" fill="#2A14F0" stroke="#000" stroke-width="1.8"/>
<line x1="1605.2" y1="278.9" x2="1605.2" y2="300.8" stroke="#000" stroke-width="1.9"/>
<line x1="1601.8" y1="278.9" x2="1608.6" y2="278.9" stroke="#000" stroke-width="1.9"/>
<line x1="1601.8" y1="300.8" x2="1608.6" y2="300.8" stroke="#000" stroke-width="1.9"/>
<circle cx="1604.3" cy="204.0" r="2.45" fill="#000"/>
<circle cx="1608.5" cy="282.0" r="2.45" fill="#000"/>
<circle cx="1607.8" cy="283.6" r="2.45" fill="#000"/>
<circle cx="1603.1" cy="285.9" r="2.45" fill="#000"/>
<circle cx="1608.1" cy="289.8" r="2.45" fill="#000"/>
<circle cx="1606.3" cy="293.7" r="2.45" fill="#000"/>
<circle cx="1601.8" cy="301.5" r="2.45" fill="#000"/>
<circle cx="1608.7" cy="307.0" r="2.45" fill="#000"/>
<circle cx="1603.4" cy="313.3" r="2.45" fill="#000"/>
<circle cx="1603.8" cy="317.2" r="2.45" fill="#000"/>
<rect x="1617.1" y="291.4" width="9.0" height="76.5" fill="#F8301A" stroke="#000" stroke-width="1.8"/>
<line x1="1621.6" y1="286.7" x2="1621.6" y2="296.1" stroke="#000" stroke-width="1.9"/>
<line x1="1618.2" y1="286.7" x2="1625.0" y2="286.7" stroke="#000" stroke-width="1.9"/>
<line x1="1618.2" y1="296.1" x2="1625.0" y2="296.1" stroke="#000" stroke-width="1.9"/>
<circle cx="1623.5" cy="257.0" r="2.45" fill="#000"/>
<circle cx="1619.4" cy="285.1" r="2.45" fill="#000"/>
<circle cx="1619.4" cy="286.7" r="2.45" fill="#000"/>
<circle cx="1622.4" cy="288.3" r="2.45" fill="#000"/>
<circle cx="1618.3" cy="289.8" r="2.45" fill="#000"/>
<circle cx="1623.7" cy="291.4" r="2.45" fill="#000"/>
<circle cx="1623.6" cy="293.7" r="2.45" fill="#000"/>
<circle cx="1618.2" cy="297.6" r="2.45" fill="#000"/>
<circle cx="1623.0" cy="305.4" r="2.45" fill="#000"/>
<circle cx="1621.7" cy="309.3" r="2.45" fill="#000"/>
<circle cx="1622.7" cy="314.8" r="2.45" fill="#000"/>
<rect x="1644.0" y="289.8" width="9.0" height="78.1" fill="#2A14F0" stroke="#000" stroke-width="1.8"/>
<line x1="1648.5" y1="270.3" x2="1648.5" y2="309.3" stroke="#000" stroke-width="1.9"/>
<line x1="1645.1" y1="270.3" x2="1651.9" y2="270.3" stroke="#000" stroke-width="1.9"/>
<line x1="1645.1" y1="309.3" x2="1651.9" y2="309.3" stroke="#000" stroke-width="1.9"/>
<circle cx="1645.3" cy="150.9" r="2.45" fill="#000"/>
<circle cx="1646.3" cy="235.2" r="2.45" fill="#000"/>
<circle cx="1647.0" cy="274.2" r="2.45" fill="#000"/>
<circle cx="1651.5" cy="289.8" r="2.45" fill="#000"/>
<circle cx="1648.5" cy="301.5" r="2.45" fill="#000"/>
<circle cx="1650.2" cy="309.3" r="2.45" fill="#000"/>
<circle cx="1645.5" cy="331.2" r="2.45" fill="#000"/>
<circle cx="1648.6" cy="336.7" r="2.45" fill="#000"/>
<circle cx="1651.1" cy="338.2" r="2.45" fill="#000"/>
<circle cx="1648.7" cy="342.1" r="2.45" fill="#000"/>
<rect x="1660.4" y="303.9" width="9.0" height="64.0" fill="#F8301A" stroke="#000" stroke-width="1.8"/>
<line x1="1664.9" y1="287.5" x2="1664.9" y2="320.3" stroke="#000" stroke-width="1.9"/>
<line x1="1661.5" y1="287.5" x2="1668.3" y2="287.5" stroke="#000" stroke-width="1.9"/>
<line x1="1661.5" y1="320.3" x2="1668.3" y2="320.3" stroke="#000" stroke-width="1.9"/>
<circle cx="1665.4" cy="186.0" r="2.45" fill="#000"/>
<circle cx="1665.9" cy="259.4" r="2.45" fill="#000"/>
<circle cx="1667.3" cy="271.1" r="2.45" fill="#000"/>
<circle cx="1663.2" cy="321.1" r="2.45" fill="#000"/>
<circle cx="1666.1" cy="325.0" r="2.45" fill="#000"/>
<circle cx="1667.9" cy="328.9" r="2.45" fill="#000"/>
<circle cx="1668.0" cy="330.4" r="2.45" fill="#000"/>
<circle cx="1662.5" cy="332.8" r="2.45" fill="#000"/>
<circle cx="1666.1" cy="335.1" r="2.45" fill="#000"/>
<circle cx="1665.8" cy="340.6" r="2.45" fill="#000"/>
<rect x="1687.3" y="289.8" width="9.0" height="78.1" fill="#2A14F0" stroke="#000" stroke-width="1.8"/>
<line x1="1691.8" y1="278.1" x2="1691.8" y2="301.5" stroke="#000" stroke-width="1.9"/>
<line x1="1688.4" y1="278.1" x2="1695.2" y2="278.1" stroke="#000" stroke-width="1.9"/>
<line x1="1688.4" y1="301.5" x2="1695.2" y2="301.5" stroke="#000" stroke-width="1.9"/>
<circle cx="1689.6" cy="216.4" r="2.45" fill="#000"/>
<circle cx="1690.9" cy="243.0" r="2.45" fill="#000"/>
<circle cx="1689.5" cy="278.1" r="2.45" fill="#000"/>
<circle cx="1691.0" cy="282.0" r="2.45" fill="#000"/>
<circle cx="1692.3" cy="289.8" r="2.45" fill="#000"/>
<circle cx="1692.9" cy="297.6" r="2.45" fill="#000"/>
<circle cx="1689.9" cy="314.8" r="2.45" fill="#000"/>
<circle cx="1690.7" cy="318.7" r="2.45" fill="#000"/>
<circle cx="1689.3" cy="340.6" r="2.45" fill="#000"/>
<rect x="1703.7" y="269.8" width="9.0" height="98.1" fill="#F8301A" stroke="#000" stroke-width="1.8"/>
<line x1="1708.2" y1="244.1" x2="1708.2" y2="295.6" stroke="#000" stroke-width="1.9"/>
<line x1="1704.8" y1="244.1" x2="1711.6" y2="244.1" stroke="#000" stroke-width="1.9"/>
<line x1="1704.8" y1="295.6" x2="1711.6" y2="295.6" stroke="#000" stroke-width="1.9"/>
<circle cx="1707.9" cy="77.5" r="2.45" fill="#000"/>
<circle cx="1711.0" cy="228.2" r="2.45" fill="#000"/>
<circle cx="1704.6" cy="230.5" r="2.45" fill="#000"/>
<circle cx="1706.5" cy="254.7" r="2.45" fill="#000"/>
<circle cx="1711.7" cy="292.2" r="2.45" fill="#000"/>
<circle cx="1709.4" cy="303.9" r="2.45" fill="#000"/>
<circle cx="1705.4" cy="323.4" r="2.45" fill="#000"/>
<circle cx="1707.0" cy="326.5" r="2.45" fill="#000"/>
<circle cx="1711.1" cy="364.0" r="2.45" fill="#000"/>
<rect x="1730.5" y="289.8" width="9.0" height="78.1" fill="#2A14F0" stroke="#000" stroke-width="1.8"/>
<line x1="1735.0" y1="284.4" x2="1735.0" y2="295.3" stroke="#000" stroke-width="1.9"/>
<line x1="1731.6" y1="284.4" x2="1738.5" y2="284.4" stroke="#000" stroke-width="1.9"/>
<line x1="1731.6" y1="295.3" x2="1738.5" y2="295.3" stroke="#000" stroke-width="1.9"/>
<circle cx="1738.0" cy="266.4" r="2.45" fill="#000"/>
<circle cx="1734.3" cy="274.2" r="2.45" fill="#000"/>
<circle cx="1735.7" cy="279.7" r="2.45" fill="#000"/>
<circle cx="1737.8" cy="282.0" r="2.45" fill="#000"/>
<circle cx="1733.0" cy="289.8" r="2.45" fill="#000"/>
<circle cx="1735.2" cy="293.7" r="2.45" fill="#000"/>
<circle cx="1735.7" cy="297.6" r="2.45" fill="#000"/>
<circle cx="1738.4" cy="303.9" r="2.45" fill="#000"/>
<circle cx="1731.5" cy="307.0" r="2.45" fill="#000"/>
<circle cx="1731.8" cy="309.3" r="2.45" fill="#000"/>
<rect x="1747.0" y="297.6" width="9.0" height="70.3" fill="#F8301A" stroke="#000" stroke-width="1.8"/>
<line x1="1751.5" y1="293.0" x2="1751.5" y2="302.3" stroke="#000" stroke-width="1.9"/>
<line x1="1748.0" y1="293.0" x2="1754.9" y2="293.0" stroke="#000" stroke-width="1.9"/>
<line x1="1748.0" y1="302.3" x2="1754.9" y2="302.3" stroke="#000" stroke-width="1.9"/>
<circle cx="1750.3" cy="285.1" r="2.45" fill="#000"/>
<circle cx="1750.9" cy="287.5" r="2.45" fill="#000"/>
<circle cx="1751.1" cy="289.8" r="2.45" fill="#000"/>
<circle cx="1750.3" cy="293.0" r="2.45" fill="#000"/>
<circle cx="1751.5" cy="295.3" r="2.45" fill="#000"/>
<circle cx="1750.6" cy="297.6" r="2.45" fill="#000"/>
<circle cx="1748.0" cy="299.2" r="2.45" fill="#000"/>
<circle cx="1750.8" cy="301.5" r="2.45" fill="#000"/>
<circle cx="1747.8" cy="305.4" r="2.45" fill="#000"/>
<circle cx="1748.4" cy="309.3" r="2.45" fill="#000"/>
<circle cx="1749.7" cy="313.3" r="2.45" fill="#000"/>
<rect x="1773.8" y="289.8" width="9.0" height="78.1" fill="#2A14F0" stroke="#000" stroke-width="1.8"/>
<line x1="1778.3" y1="282.8" x2="1778.3" y2="296.9" stroke="#000" stroke-width="1.9"/>
<line x1="1774.9" y1="282.8" x2="1781.7" y2="282.8" stroke="#000" stroke-width="1.9"/>
<line x1="1774.9" y1="296.9" x2="1781.7" y2="296.9" stroke="#000" stroke-width="1.9"/>
<circle cx="1779.2" cy="257.0" r="2.45" fill="#000"/>
<circle cx="1781.3" cy="275.8" r="2.45" fill="#000"/>
<circle cx="1778.0" cy="283.6" r="2.45" fill="#000"/>
<circle cx="1779.9" cy="285.9" r="2.45" fill="#000"/>
<circle cx="1781.6" cy="289.8" r="2.45" fill="#000"/>
<circle cx="1778.5" cy="293.7" r="2.45" fill="#000"/>
<circle cx="1780.1" cy="299.2" r="2.45" fill="#000"/>
<circle cx="1780.0" cy="305.4" r="2.45" fill="#000"/>
<circle cx="1781.0" cy="307.0" r="2.45" fill="#000"/>
<circle cx="1774.8" cy="317.2" r="2.45" fill="#000"/>
<rect x="1790.2" y="304.7" width="9.0" height="63.2" fill="#F8301A" stroke="#000" stroke-width="1.8"/>
<line x1="1794.7" y1="298.4" x2="1794.7" y2="310.9" stroke="#000" stroke-width="1.9"/>
<line x1="1791.3" y1="298.4" x2="1798.1" y2="298.4" stroke="#000" stroke-width="1.9"/>
<line x1="1791.3" y1="310.9" x2="1798.1" y2="310.9" stroke="#000" stroke-width="1.9"/>
<circle cx="1797.8" cy="268.8" r="2.45" fill="#000"/>
<circle cx="1792.0" cy="288.3" r="2.45" fill="#000"/>
<circle cx="1795.1" cy="291.4" r="2.45" fill="#000"/>
<circle cx="1794.6" cy="297.6" r="2.45" fill="#000"/>
<circle cx="1798.2" cy="305.4" r="2.45" fill="#000"/>
<circle cx="1793.8" cy="309.3" r="2.45" fill="#000"/>
<circle cx="1794.3" cy="313.3" r="2.45" fill="#000"/>
<circle cx="1795.3" cy="317.2" r="2.45" fill="#000"/>
<circle cx="1793.8" cy="319.5" r="2.45" fill="#000"/>
<circle cx="1797.8" cy="322.6" r="2.45" fill="#000"/>
<rect x="1817.1" y="289.8" width="9.0" height="78.1" fill="#2A14F0" stroke="#000" stroke-width="1.8"/>
<line x1="1821.6" y1="278.9" x2="1821.6" y2="300.8" stroke="#000" stroke-width="1.9"/>
<line x1="1818.2" y1="278.9" x2="1825.0" y2="278.9" stroke="#000" stroke-width="1.9"/>
<line x1="1818.2" y1="300.8" x2="1825.0" y2="300.8" stroke="#000" stroke-width="1.9"/>
<circle cx="1820.1" cy="221.1" r="2.45" fill="#000"/>
<circle cx="1822.2" cy="260.2" r="2.45" fill="#000"/>
<circle cx="1819.8" cy="264.8" r="2.45" fill="#000"/>
<circle cx="1823.9" cy="289.8" r="2.45" fill="#000"/>
<circle cx="1821.3" cy="297.6" r="2.45" fill="#000"/>
<circle cx="1820.3" cy="301.5" r="2.45" fill="#000"/>
<circle cx="1824.6" cy="305.4" r="2.45" fill="#000"/>
<circle cx="1823.8" cy="309.3" r="2.45" fill="#000"/>
<circle cx="1824.3" cy="321.1" r="2.45" fill="#000"/>
<circle cx="1822.8" cy="325.0" r="2.45" fill="#000"/>
<rect x="1833.5" y="289.0" width="9.0" height="78.9" fill="#F8301A" stroke="#000" stroke-width="1.8"/>
<line x1="1838.0" y1="278.1" x2="1838.0" y2="300.0" stroke="#000" stroke-width="1.9"/>
<line x1="1834.6" y1="278.1" x2="1841.4" y2="278.1" stroke="#000" stroke-width="1.9"/>
<line x1="1834.6" y1="300.0" x2="1841.4" y2="300.0" stroke="#000" stroke-width="1.9"/>
<circle cx="1837.9" cy="231.3" r="2.45" fill="#000"/>
<circle cx="1838.4" cy="251.6" r="2.45" fill="#000"/>
<circle cx="1840.3" cy="266.4" r="2.45" fill="#000"/>
<circle cx="1836.6" cy="269.5" r="2.45" fill="#000"/>
<circle cx="1836.6" cy="289.8" r="2.45" fill="#000"/>
<circle cx="1839.5" cy="297.6" r="2.45" fill="#000"/>
<circle cx="1837.9" cy="313.3" r="2.45" fill="#000"/>
<circle cx="1836.9" cy="314.8" r="2.45" fill="#000"/>
<circle cx="1837.3" cy="317.2" r="2.45" fill="#000"/>
<circle cx="1836.7" cy="330.4" r="2.45" fill="#000"/>
<rect x="1860.4" y="289.8" width="9.0" height="78.1" fill="#2A14F0" stroke="#000" stroke-width="1.8"/>
<line x1="1864.9" y1="284.0" x2="1864.9" y2="295.7" stroke="#000" stroke-width="1.9"/>
<line x1="1861.5" y1="284.0" x2="1868.3" y2="284.0" stroke="#000" stroke-width="1.9"/>
<line x1="1861.5" y1="295.7" x2="1868.3" y2="295.7" stroke="#000" stroke-width="1.9"/>
<circle cx="1861.6" cy="258.6" r="2.45" fill="#000"/>
<circle cx="1866.9" cy="269.5" r="2.45" fill="#000"/>
<circle cx="1868.4" cy="276.6" r="2.45" fill="#000"/>
<circle cx="1864.2" cy="285.9" r="2.45" fill="#000"/>
<circle cx="1868.2" cy="289.8" r="2.45" fill="#000"/>
<circle cx="1864.3" cy="293.7" r="2.45" fill="#000"/>
<circle cx="1865.8" cy="297.6" r="2.45" fill="#000"/>
<circle cx="1868.0" cy="301.5" r="2.45" fill="#000"/>
<circle cx="1862.6" cy="305.4" r="2.45" fill="#000"/>
<circle cx="1861.4" cy="309.3" r="2.45" fill="#000"/>
<rect x="1876.8" y="291.4" width="9.0" height="76.5" fill="#F8301A" stroke="#000" stroke-width="1.8"/>
<line x1="1881.3" y1="286.7" x2="1881.3" y2="296.1" stroke="#000" stroke-width="1.9"/>
<line x1="1877.9" y1="286.7" x2="1884.7" y2="286.7" stroke="#000" stroke-width="1.9"/>
<line x1="1877.9" y1="296.1" x2="1884.7" y2="296.1" stroke="#000" stroke-width="1.9"/>
<circle cx="1883.1" cy="269.5" r="2.45" fill="#000"/>
<circle cx="1884.6" cy="276.6" r="2.45" fill="#000"/>
<circle cx="1883.1" cy="279.7" r="2.45" fill="#000"/>
<circle cx="1884.3" cy="289.8" r="2.45" fill="#000"/>
<circle cx="1878.3" cy="293.7" r="2.45" fill="#000"/>
<circle cx="1881.9" cy="297.6" r="2.45" fill="#000"/>
<circle cx="1880.7" cy="301.5" r="2.45" fill="#000"/>
<circle cx="1879.5" cy="305.4" r="2.45" fill="#000"/>
<circle cx="1884.0" cy="309.3" r="2.45" fill="#000"/>
<circle cx="1880.0" cy="311.7" r="2.45" fill="#000"/>
<line x1="1508.7" y1="72.3" x2="1508.7" y2="368.5" stroke="#111" stroke-width="1.5"/>
<line x1="1505.1" y1="367.9" x2="1890.9" y2="367.9" stroke="#111" stroke-width="1.5"/>
<line x1="1504.9" y1="367.9" x2="1508.7" y2="367.9" stroke="#111" stroke-width="1.5"/>
<text x="1500.7" y="376.9" font-size="25.5" text-anchor="end">0</text>
<line x1="1504.9" y1="289.8" x2="1508.7" y2="289.8" stroke="#111" stroke-width="1.5"/>
<text x="1500.7" y="298.8" font-size="25.5" text-anchor="end">1</text>
<line x1="1504.9" y1="211.8" x2="1508.7" y2="211.8" stroke="#111" stroke-width="1.5"/>
<text x="1500.7" y="220.8" font-size="25.5" text-anchor="end">2</text>
<line x1="1504.9" y1="133.7" x2="1508.7" y2="133.7" stroke="#111" stroke-width="1.5"/>
<text x="1500.7" y="142.7" font-size="25.5" text-anchor="end">3</text>
<line x1="1526.9" y1="367.9" x2="1526.9" y2="371.9" stroke="#111" stroke-width="1.5"/>
<text x="1532.7" y="390.9" font-size="22.6" text-anchor="end" transform="rotate(-45 1532.7 390.9)">Alanine</text>
<line x1="1570.2" y1="367.9" x2="1570.2" y2="371.9" stroke="#111" stroke-width="1.5"/>
<text x="1576.0" y="390.9" font-size="22.6" text-anchor="end" transform="rotate(-45 1576.0 390.9)">Arginine</text>
<line x1="1613.4" y1="367.9" x2="1613.4" y2="371.9" stroke="#111" stroke-width="1.5"/>
<text x="1619.2" y="390.9" font-size="22.6" text-anchor="end" transform="rotate(-45 1619.2 390.9)">Asparagine</text>
<line x1="1656.7" y1="367.9" x2="1656.7" y2="371.9" stroke="#111" stroke-width="1.5"/>
<text x="1662.5" y="390.9" font-size="22.6" text-anchor="end" transform="rotate(-45 1662.5 390.9)">Aspartate</text>
<line x1="1700.0" y1="367.9" x2="1700.0" y2="371.9" stroke="#111" stroke-width="1.5"/>
<text x="1705.8" y="390.9" font-size="22.6" text-anchor="end" transform="rotate(-45 1705.8 390.9)">Cysteine</text>
<line x1="1743.2" y1="367.9" x2="1743.2" y2="371.9" stroke="#111" stroke-width="1.5"/>
<text x="1749.0" y="390.9" font-size="22.6" text-anchor="end" transform="rotate(-45 1749.0 390.9)">Glutamate</text>
<line x1="1786.5" y1="367.9" x2="1786.5" y2="371.9" stroke="#111" stroke-width="1.5"/>
<text x="1792.3" y="390.9" font-size="22.6" text-anchor="end" transform="rotate(-45 1792.3 390.9)">Glycine</text>
<line x1="1829.8" y1="367.9" x2="1829.8" y2="371.9" stroke="#111" stroke-width="1.5"/>
<text x="1835.6" y="390.9" font-size="22.6" text-anchor="end" transform="rotate(-45 1835.6 390.9)">Histidine</text>
<line x1="1873.1" y1="367.9" x2="1873.1" y2="371.9" stroke="#111" stroke-width="1.5"/>
<text x="1878.9" y="390.9" font-size="22.6" text-anchor="end" transform="rotate(-45 1878.9 390.9)">Isoleucine</text>
<text x="1471.4" y="205.6" font-size="30.5" text-anchor="middle" transform="rotate(-90 1471.4 205.6)" textLength="252.7" lengthAdjust="spacingAndGlyphs">Relative Ion Count</text>
<rect x="1512.5" y="696.4" width="8.1" height="82.4" fill="#2A14F0" stroke="#000" stroke-width="1.8"/>
<line x1="1516.5" y1="691.5" x2="1516.5" y2="701.3" stroke="#000" stroke-width="1.9"/>
<line x1="1513.1" y1="691.5" x2="1519.9" y2="691.5" stroke="#000" stroke-width="1.9"/>
<line x1="1513.1" y1="701.3" x2="1519.9" y2="701.3" stroke="#000" stroke-width="1.9"/>
<circle cx="1517.1" cy="675.0" r="2.45" fill="#000"/>
<circle cx="1514.4" cy="679.9" r="2.45" fill="#000"/>
<circle cx="1519.7" cy="688.2" r="2.45" fill="#000"/>
<circle cx="1519.4" cy="692.3" r="2.45" fill="#000"/>
<circle cx="1516.3" cy="696.4" r="2.45" fill="#000"/>
<circle cx="1517.6" cy="700.5" r="2.45" fill="#000"/>
<circle cx="1514.6" cy="704.6" r="2.45" fill="#000"/>
<circle cx="1514.6" cy="708.8" r="2.45" fill="#000"/>
<circle cx="1515.1" cy="712.9" r="2.45" fill="#000"/>
<rect x="1527.6" y="704.0" width="8.1" height="74.8" fill="#F8301A" stroke="#000" stroke-width="1.8"/>
<line x1="1531.7" y1="699.0" x2="1531.7" y2="708.9" stroke="#000" stroke-width="1.9"/>
<line x1="1528.3" y1="699.0" x2="1535.1" y2="699.0" stroke="#000" stroke-width="1.9"/>
<line x1="1528.3" y1="708.9" x2="1535.1" y2="708.9" stroke="#000" stroke-width="1.9"/>
<circle cx="1529.3" cy="675.8" r="2.45" fill="#000"/>
<circle cx="1532.5" cy="689.8" r="2.45" fill="#000"/>
<circle cx="1529.5" cy="696.4" r="2.45" fill="#000"/>
<circle cx="1533.1" cy="700.5" r="2.45" fill="#000"/>
<circle cx="1532.4" cy="704.6" r="2.45" fill="#000"/>
<circle cx="1530.9" cy="708.8" r="2.45" fill="#000"/>
<circle cx="1532.5" cy="712.9" r="2.45" fill="#000"/>
<circle cx="1532.2" cy="717.0" r="2.45" fill="#000"/>
<circle cx="1528.6" cy="721.1" r="2.45" fill="#000"/>
<rect x="1552.5" y="696.4" width="8.1" height="82.4" fill="#2A14F0" stroke="#000" stroke-width="1.8"/>
<line x1="1556.5" y1="690.6" x2="1556.5" y2="702.2" stroke="#000" stroke-width="1.9"/>
<line x1="1553.1" y1="690.6" x2="1559.9" y2="690.6" stroke="#000" stroke-width="1.9"/>
<line x1="1553.1" y1="702.2" x2="1559.9" y2="702.2" stroke="#000" stroke-width="1.9"/>
<circle cx="1554.0" cy="666.7" r="2.45" fill="#000"/>
<circle cx="1558.7" cy="677.4" r="2.45" fill="#000"/>
<circle cx="1559.1" cy="684.0" r="2.45" fill="#000"/>
<circle cx="1555.8" cy="686.5" r="2.45" fill="#000"/>
<circle cx="1555.0" cy="696.4" r="2.45" fill="#000"/>
<circle cx="1554.5" cy="704.6" r="2.45" fill="#000"/>
<circle cx="1553.7" cy="708.8" r="2.45" fill="#000"/>
<circle cx="1554.6" cy="717.0" r="2.45" fill="#000"/>
<circle cx="1554.5" cy="724.4" r="2.45" fill="#000"/>
<rect x="1567.7" y="715.4" width="8.1" height="63.4" fill="#F8301A" stroke="#000" stroke-width="1.8"/>
<line x1="1571.7" y1="709.6" x2="1571.7" y2="721.1" stroke="#000" stroke-width="1.9"/>
<line x1="1568.3" y1="709.6" x2="1575.1" y2="709.6" stroke="#000" stroke-width="1.9"/>
<line x1="1568.3" y1="721.1" x2="1575.1" y2="721.1" stroke="#000" stroke-width="1.9"/>
<circle cx="1570.2" cy="694.8" r="2.45" fill="#000"/>
<circle cx="1571.5" cy="703.0" r="2.45" fill="#000"/>
<circle cx="1572.1" cy="706.3" r="2.45" fill="#000"/>
<circle cx="1569.0" cy="712.9" r="2.45" fill="#000"/>
<circle cx="1571.8" cy="717.0" r="2.45" fill="#000"/>
<circle cx="1574.8" cy="721.1" r="2.45" fill="#000"/>
<circle cx="1572.2" cy="725.2" r="2.45" fill="#000"/>
<circle cx="1571.9" cy="729.4" r="2.45" fill="#000"/>
<circle cx="1573.7" cy="733.5" r="2.45" fill="#000"/>
<rect x="1592.5" y="696.4" width="8.1" height="82.4" fill="#2A14F0" stroke="#000" stroke-width="1.8"/>
<line x1="1596.6" y1="689.8" x2="1596.6" y2="703.0" stroke="#000" stroke-width="1.9"/>
<line x1="1593.2" y1="689.8" x2="1600.0" y2="689.8" stroke="#000" stroke-width="1.9"/>
<line x1="1593.2" y1="703.0" x2="1600.0" y2="703.0" stroke="#000" stroke-width="1.9"/>
<circle cx="1599.3" cy="666.7" r="2.45" fill="#000"/>
<circle cx="1594.5" cy="671.7" r="2.45" fill="#000"/>
<circle cx="1593.9" cy="675.8" r="2.45" fill="#000"/>
<circle cx="1593.9" cy="692.3" r="2.45" fill="#000"/>
<circle cx="1598.3" cy="696.4" r="2.45" fill="#000"/>
<circle cx="1599.0" cy="700.5" r="2.45" fill="#000"/>
<circle cx="1599.9" cy="708.8" r="2.45" fill="#000"/>
<circle cx="1597.8" cy="717.0" r="2.45" fill="#000"/>
<circle cx="1597.5" cy="725.2" r="2.45" fill="#000"/>
<circle cx="1597.9" cy="727.7" r="2.45" fill="#000"/>
<rect x="1607.7" y="690.0" width="8.1" height="88.8" fill="#F8301A" stroke="#000" stroke-width="1.8"/>
<line x1="1611.8" y1="675.1" x2="1611.8" y2="704.8" stroke="#000" stroke-width="1.9"/>
<line x1="1608.4" y1="675.1" x2="1615.2" y2="675.1" stroke="#000" stroke-width="1.9"/>
<line x1="1608.4" y1="704.8" x2="1615.2" y2="704.8" stroke="#000" stroke-width="1.9"/>
<circle cx="1614.0" cy="586.0" r="2.45" fill="#000"/>
<circle cx="1612.5" cy="664.3" r="2.45" fill="#000"/>
<circle cx="1613.3" cy="675.8" r="2.45" fill="#000"/>
<circle cx="1608.4" cy="688.2" r="2.45" fill="#000"/>
<circle cx="1612.8" cy="704.6" r="2.45" fill="#000"/>
<circle cx="1613.4" cy="708.8" r="2.45" fill="#000"/>
<circle cx="1611.6" cy="717.0" r="2.45" fill="#000"/>
<circle cx="1611.7" cy="721.1" r="2.45" fill="#000"/>
<circle cx="1610.1" cy="729.4" r="2.45" fill="#000"/>
<circle cx="1611.2" cy="731.0" r="2.45" fill="#000"/>
<rect x="1632.6" y="696.4" width="8.1" height="82.4" fill="#2A14F0" stroke="#000" stroke-width="1.8"/>
<line x1="1636.6" y1="689.8" x2="1636.6" y2="703.0" stroke="#000" stroke-width="1.9"/>
<line x1="1633.2" y1="689.8" x2="1640.0" y2="689.8" stroke="#000" stroke-width="1.9"/>
<line x1="1633.2" y1="703.0" x2="1640.0" y2="703.0" stroke="#000" stroke-width="1.9"/>
<circle cx="1636.7" cy="661.8" r="2.45" fill="#000"/>
<circle cx="1637.3" cy="670.0" r="2.45" fill="#000"/>
<circle cx="1635.3" cy="678.3" r="2.45" fill="#000"/>
<circle cx="1639.5" cy="696.4" r="2.45" fill="#000"/>
<circle cx="1638.2" cy="700.5" r="2.45" fill="#000"/>
<circle cx="1638.4" cy="704.6" r="2.45" fill="#000"/>
<circle cx="1636.3" cy="708.8" r="2.45" fill="#000"/>
<circle cx="1638.9" cy="712.9" r="2.45" fill="#000"/>
<circle cx="1638.2" cy="714.5" r="2.45" fill="#000"/>
<rect x="1647.8" y="683.5" width="8.1" height="95.3" fill="#F8301A" stroke="#000" stroke-width="1.8"/>
<line x1="1651.8" y1="674.5" x2="1651.8" y2="692.6" stroke="#000" stroke-width="1.9"/>
<line x1="1648.4" y1="674.5" x2="1655.2" y2="674.5" stroke="#000" stroke-width="1.9"/>
<line x1="1648.4" y1="692.6" x2="1655.2" y2="692.6" stroke="#000" stroke-width="1.9"/>
<circle cx="1648.8" cy="649.4" r="2.45" fill="#000"/>
<circle cx="1649.0" cy="653.6" r="2.45" fill="#000"/>
<circle cx="1651.2" cy="656.8" r="2.45" fill="#000"/>
<circle cx="1649.2" cy="674.2" r="2.45" fill="#000"/>
<circle cx="1654.5" cy="684.0" r="2.45" fill="#000"/>
<circle cx="1648.7" cy="692.3" r="2.45" fill="#000"/>
<circle cx="1652.1" cy="696.4" r="2.45" fill="#000"/>
<circle cx="1650.7" cy="700.5" r="2.45" fill="#000"/>
<circle cx="1654.2" cy="704.6" r="2.45" fill="#000"/>
<circle cx="1649.5" cy="708.8" r="2.45" fill="#000"/>
<rect x="1672.6" y="696.4" width="8.1" height="82.4" fill="#2A14F0" stroke="#000" stroke-width="1.8"/>
<line x1="1676.7" y1="689.8" x2="1676.7" y2="703.0" stroke="#000" stroke-width="1.9"/>
<line x1="1673.3" y1="689.8" x2="1680.1" y2="689.8" stroke="#000" stroke-width="1.9"/>
<line x1="1673.3" y1="703.0" x2="1680.1" y2="703.0" stroke="#000" stroke-width="1.9"/>
<circle cx="1677.2" cy="655.2" r="2.45" fill="#000"/>
<circle cx="1678.6" cy="666.7" r="2.45" fill="#000"/>
<circle cx="1675.1" cy="694.8" r="2.45" fill="#000"/>
<circle cx="1679.3" cy="696.4" r="2.45" fill="#000"/>
<circle cx="1679.3" cy="700.5" r="2.45" fill="#000"/>
<circle cx="1679.8" cy="704.6" r="2.45" fill="#000"/>
<circle cx="1677.6" cy="708.8" r="2.45" fill="#000"/>
<circle cx="1675.5" cy="712.9" r="2.45" fill="#000"/>
<circle cx="1678.8" cy="719.5" r="2.45" fill="#000"/>
<circle cx="1674.0" cy="722.8" r="2.45" fill="#000"/>
<rect x="1687.8" y="651.6" width="8.1" height="127.2" fill="#F8301A" stroke="#000" stroke-width="1.8"/>
<line x1="1691.9" y1="642.5" x2="1691.9" y2="660.6" stroke="#000" stroke-width="1.9"/>
<line x1="1688.5" y1="642.5" x2="1695.3" y2="642.5" stroke="#000" stroke-width="1.9"/>
<line x1="1688.5" y1="660.6" x2="1695.3" y2="660.6" stroke="#000" stroke-width="1.9"/>
<circle cx="1692.0" cy="600.0" r="2.45" fill="#000"/>
<circle cx="1690.3" cy="615.6" r="2.45" fill="#000"/>
<circle cx="1693.5" cy="638.7" r="2.45" fill="#000"/>
<circle cx="1693.9" cy="655.2" r="2.45" fill="#000"/>
<circle cx="1692.9" cy="659.3" r="2.45" fill="#000"/>
<circle cx="1688.6" cy="663.4" r="2.45" fill="#000"/>
<circle cx="1690.1" cy="675.8" r="2.45" fill="#000"/>
<circle cx="1690.8" cy="679.9" r="2.45" fill="#000"/>
<circle cx="1695.1" cy="686.5" r="2.45" fill="#000"/>
<rect x="1712.7" y="696.4" width="8.1" height="82.4" fill="#2A14F0" stroke="#000" stroke-width="1.8"/>
<line x1="1716.7" y1="689.0" x2="1716.7" y2="703.8" stroke="#000" stroke-width="1.9"/>
<line x1="1713.3" y1="689.0" x2="1720.1" y2="689.0" stroke="#000" stroke-width="1.9"/>
<line x1="1713.3" y1="703.8" x2="1720.1" y2="703.8" stroke="#000" stroke-width="1.9"/>
<circle cx="1717.2" cy="665.9" r="2.45" fill="#000"/>
<circle cx="1716.9" cy="678.3" r="2.45" fill="#000"/>
<circle cx="1716.2" cy="685.7" r="2.45" fill="#000"/>
<circle cx="1718.5" cy="688.2" r="2.45" fill="#000"/>
<circle cx="1716.2" cy="696.4" r="2.45" fill="#000"/>
<circle cx="1714.2" cy="704.6" r="2.45" fill="#000"/>
<circle cx="1717.6" cy="712.9" r="2.45" fill="#000"/>
<circle cx="1713.6" cy="717.0" r="2.45" fill="#000"/>
<circle cx="1720.1" cy="721.1" r="2.45" fill="#000"/>
<rect x="1727.8" y="716.6" width="8.1" height="62.2" fill="#F8301A" stroke="#000" stroke-width="1.8"/>
<line x1="1731.9" y1="709.6" x2="1731.9" y2="723.6" stroke="#000" stroke-width="1.9"/>
<line x1="1728.5" y1="709.6" x2="1735.3" y2="709.6" stroke="#000" stroke-width="1.9"/>
<line x1="1728.5" y1="723.6" x2="1735.3" y2="723.6" stroke="#000" stroke-width="1.9"/>
<circle cx="1729.0" cy="682.4" r="2.45" fill="#000"/>
<circle cx="1731.3" cy="685.7" r="2.45" fill="#000"/>
<circle cx="1735.2" cy="699.7" r="2.45" fill="#000"/>
<circle cx="1730.1" cy="717.0" r="2.45" fill="#000"/>
<circle cx="1730.9" cy="721.1" r="2.45" fill="#000"/>
<circle cx="1734.1" cy="725.2" r="2.45" fill="#000"/>
<circle cx="1734.6" cy="729.4" r="2.45" fill="#000"/>
<circle cx="1732.0" cy="733.5" r="2.45" fill="#000"/>
<circle cx="1735.0" cy="737.6" r="2.45" fill="#000"/>
<circle cx="1734.2" cy="739.2" r="2.45" fill="#000"/>
<rect x="1752.7" y="696.4" width="8.1" height="82.4" fill="#2A14F0" stroke="#000" stroke-width="1.8"/>
<line x1="1756.7" y1="689.8" x2="1756.7" y2="703.0" stroke="#000" stroke-width="1.9"/>
<line x1="1753.3" y1="689.8" x2="1760.1" y2="689.8" stroke="#000" stroke-width="1.9"/>
<line x1="1753.3" y1="703.0" x2="1760.1" y2="703.0" stroke="#000" stroke-width="1.9"/>
<circle cx="1759.5" cy="660.1" r="2.45" fill="#000"/>
<circle cx="1759.1" cy="678.3" r="2.45" fill="#000"/>
<circle cx="1753.6" cy="678.3" r="2.45" fill="#000"/>
<circle cx="1754.9" cy="692.3" r="2.45" fill="#000"/>
<circle cx="1755.0" cy="696.4" r="2.45" fill="#000"/>
<circle cx="1758.3" cy="704.6" r="2.45" fill="#000"/>
<circle cx="1756.7" cy="712.9" r="2.45" fill="#000"/>
<circle cx="1757.2" cy="717.0" r="2.45" fill="#000"/>
<circle cx="1758.5" cy="737.6" r="2.45" fill="#000"/>
<rect x="1767.9" y="710.2" width="8.1" height="68.6" fill="#F8301A" stroke="#000" stroke-width="1.8"/>
<line x1="1771.9" y1="704.0" x2="1771.9" y2="716.3" stroke="#000" stroke-width="1.9"/>
<line x1="1768.5" y1="704.0" x2="1775.3" y2="704.0" stroke="#000" stroke-width="1.9"/>
<line x1="1768.5" y1="716.3" x2="1775.3" y2="716.3" stroke="#000" stroke-width="1.9"/>
<circle cx="1771.6" cy="669.2" r="2.45" fill="#000"/>
<circle cx="1771.6" cy="685.7" r="2.45" fill="#000"/>
<circle cx="1775.0" cy="702.2" r="2.45" fill="#000"/>
<circle cx="1773.5" cy="704.6" r="2.45" fill="#000"/>
<circle cx="1774.0" cy="712.9" r="2.45" fill="#000"/>
<circle cx="1769.1" cy="717.0" r="2.45" fill="#000"/>
<circle cx="1771.3" cy="721.1" r="2.45" fill="#000"/>
<circle cx="1772.5" cy="725.2" r="2.45" fill="#000"/>
<circle cx="1771.7" cy="731.0" r="2.45" fill="#000"/>
<circle cx="1769.5" cy="733.5" r="2.45" fill="#000"/>
<rect x="1792.7" y="696.4" width="8.1" height="82.4" fill="#2A14F0" stroke="#000" stroke-width="1.8"/>
<line x1="1796.8" y1="693.1" x2="1796.8" y2="699.7" stroke="#000" stroke-width="1.9"/>
<line x1="1793.4" y1="693.1" x2="1800.2" y2="693.1" stroke="#000" stroke-width="1.9"/>
<line x1="1793.4" y1="699.7" x2="1800.2" y2="699.7" stroke="#000" stroke-width="1.9"/>
<circle cx="1799.0" cy="667.6" r="2.45" fill="#000"/>
<circle cx="1799.5" cy="688.2" r="2.45" fill="#000"/>
<circle cx="1794.7" cy="692.3" r="2.45" fill="#000"/>
<circle cx="1795.4" cy="694.8" r="2.45" fill="#000"/>
<circle cx="1796.6" cy="696.4" r="2.45" fill="#000"/>
<circle cx="1794.5" cy="700.5" r="2.45" fill="#000"/>
<circle cx="1794.0" cy="704.6" r="2.45" fill="#000"/>
<circle cx="1798.4" cy="708.8" r="2.45" fill="#000"/>
<circle cx="1795.6" cy="712.9" r="2.45" fill="#000"/>
<circle cx="1798.4" cy="714.5" r="2.45" fill="#000"/>
<rect x="1807.9" y="701.3" width="8.1" height="77.5" fill="#F8301A" stroke="#000" stroke-width="1.8"/>
<line x1="1812.0" y1="697.2" x2="1812.0" y2="705.5" stroke="#000" stroke-width="1.9"/>
<line x1="1808.6" y1="697.2" x2="1815.4" y2="697.2" stroke="#000" stroke-width="1.9"/>
<line x1="1808.6" y1="705.5" x2="1815.4" y2="705.5" stroke="#000" stroke-width="1.9"/>
<circle cx="1813.4" cy="679.9" r="2.45" fill="#000"/>
<circle cx="1814.3" cy="693.9" r="2.45" fill="#000"/>
<circle cx="1815.0" cy="696.4" r="2.45" fill="#000"/>
<circle cx="1812.9" cy="698.0" r="2.45" fill="#000"/>
<circle cx="1810.0" cy="700.5" r="2.45" fill="#000"/>
<circle cx="1815.2" cy="704.6" r="2.45" fill="#000"/>
<circle cx="1814.8" cy="708.8" r="2.45" fill="#000"/>
<circle cx="1812.5" cy="712.9" r="2.45" fill="#000"/>
<circle cx="1811.7" cy="714.5" r="2.45" fill="#000"/>
<circle cx="1812.5" cy="717.0" r="2.45" fill="#000"/>
<rect x="1832.8" y="696.4" width="8.1" height="82.4" fill="#2A14F0" stroke="#000" stroke-width="1.8"/>
<line x1="1836.8" y1="687.3" x2="1836.8" y2="705.5" stroke="#000" stroke-width="1.9"/>
<line x1="1833.4" y1="687.3" x2="1840.2" y2="687.3" stroke="#000" stroke-width="1.9"/>
<line x1="1833.4" y1="705.5" x2="1840.2" y2="705.5" stroke="#000" stroke-width="1.9"/>
<circle cx="1837.6" cy="638.7" r="2.45" fill="#000"/>
<circle cx="1834.9" cy="667.6" r="2.45" fill="#000"/>
<circle cx="1833.5" cy="684.0" r="2.45" fill="#000"/>
<circle cx="1835.8" cy="696.4" r="2.45" fill="#000"/>
<circle cx="1835.0" cy="704.6" r="2.45" fill="#000"/>
<circle cx="1839.0" cy="708.8" r="2.45" fill="#000"/>
<circle cx="1834.0" cy="712.9" r="2.45" fill="#000"/>
<circle cx="1834.9" cy="721.1" r="2.45" fill="#000"/>
<circle cx="1834.1" cy="725.2" r="2.45" fill="#000"/>
<circle cx="1834.2" cy="727.7" r="2.45" fill="#000"/>
<rect x="1848.0" y="680.2" width="8.1" height="98.6" fill="#F8301A" stroke="#000" stroke-width="1.8"/>
<line x1="1852.0" y1="666.2" x2="1852.0" y2="694.2" stroke="#000" stroke-width="1.9"/>
<line x1="1848.6" y1="666.2" x2="1855.4" y2="666.2" stroke="#000" stroke-width="1.9"/>
<line x1="1848.6" y1="694.2" x2="1855.4" y2="694.2" stroke="#000" stroke-width="1.9"/>
<circle cx="1853.3" cy="644.5" r="2.45" fill="#000"/>
<circle cx="1855.4" cy="648.6" r="2.45" fill="#000"/>
<circle cx="1855.0" cy="656.8" r="2.45" fill="#000"/>
<circle cx="1849.3" cy="659.3" r="2.45" fill="#000"/>
<circle cx="1851.5" cy="667.6" r="2.45" fill="#000"/>
<circle cx="1853.9" cy="671.7" r="2.45" fill="#000"/>
<circle cx="1850.9" cy="688.2" r="2.45" fill="#000"/>
<circle cx="1852.9" cy="692.3" r="2.45" fill="#000"/>
<circle cx="1853.0" cy="739.2" r="2.45" fill="#000"/>
<circle cx="1849.1" cy="750.8" r="2.45" fill="#000"/>
<rect x="1872.8" y="696.4" width="8.1" height="82.4" fill="#2A14F0" stroke="#000" stroke-width="1.8"/>
<line x1="1876.9" y1="693.1" x2="1876.9" y2="699.7" stroke="#000" stroke-width="1.9"/>
<line x1="1873.5" y1="693.1" x2="1880.3" y2="693.1" stroke="#000" stroke-width="1.9"/>
<line x1="1873.5" y1="699.7" x2="1880.3" y2="699.7" stroke="#000" stroke-width="1.9"/>
<circle cx="1874.1" cy="682.4" r="2.45" fill="#000"/>
<circle cx="1875.5" cy="686.5" r="2.45" fill="#000"/>
<circle cx="1879.9" cy="689.8" r="2.45" fill="#000"/>
<circle cx="1876.6" cy="692.3" r="2.45" fill="#000"/>
<circle cx="1877.6" cy="694.8" r="2.45" fill="#000"/>
<circle cx="1874.3" cy="696.4" r="2.45" fill="#000"/>
<circle cx="1876.3" cy="700.5" r="2.45" fill="#000"/>
<circle cx="1873.5" cy="704.6" r="2.45" fill="#000"/>
<circle cx="1879.3" cy="712.9" r="2.45" fill="#000"/>
<circle cx="1874.7" cy="717.0" r="2.45" fill="#000"/>
<rect x="1888.0" y="681.6" width="8.1" height="97.2" fill="#F8301A" stroke="#000" stroke-width="1.8"/>
<line x1="1892.1" y1="675.4" x2="1892.1" y2="687.7" stroke="#000" stroke-width="1.9"/>
<line x1="1888.7" y1="675.4" x2="1895.5" y2="675.4" stroke="#000" stroke-width="1.9"/>
<line x1="1888.7" y1="687.7" x2="1895.5" y2="687.7" stroke="#000" stroke-width="1.9"/>
<circle cx="1888.8" cy="653.6" r="2.45" fill="#000"/>
<circle cx="1895.2" cy="653.6" r="2.45" fill="#000"/>
<circle cx="1894.7" cy="667.6" r="2.45" fill="#000"/>
<circle cx="1889.2" cy="679.9" r="2.45" fill="#000"/>
<circle cx="1890.3" cy="684.0" r="2.45" fill="#000"/>
<circle cx="1889.9" cy="688.2" r="2.45" fill="#000"/>
<circle cx="1894.7" cy="692.3" r="2.45" fill="#000"/>
<circle cx="1893.2" cy="696.4" r="2.45" fill="#000"/>
<circle cx="1890.8" cy="700.5" r="2.45" fill="#000"/>
<circle cx="1892.0" cy="706.3" r="2.45" fill="#000"/>
<line x1="1507.9" y1="482.6" x2="1507.9" y2="779.4" stroke="#111" stroke-width="1.5"/>
<line x1="1504.3" y1="778.8" x2="1902.1" y2="778.8" stroke="#111" stroke-width="1.5"/>
<line x1="1504.1" y1="778.8" x2="1507.9" y2="778.8" stroke="#111" stroke-width="1.5"/>
<text x="1499.9" y="787.8" font-size="25.5" text-anchor="end">0</text>
<line x1="1504.1" y1="696.4" x2="1507.9" y2="696.4" stroke="#111" stroke-width="1.5"/>
<text x="1499.9" y="705.4" font-size="25.5" text-anchor="end">1</text>
<line x1="1504.1" y1="614.0" x2="1507.9" y2="614.0" stroke="#111" stroke-width="1.5"/>
<text x="1499.9" y="623.0" font-size="25.5" text-anchor="end">2</text>
<line x1="1504.1" y1="531.6" x2="1507.9" y2="531.6" stroke="#111" stroke-width="1.5"/>
<text x="1499.9" y="540.6" font-size="25.5" text-anchor="end">3</text>
<line x1="1524.1" y1="778.8" x2="1524.1" y2="782.8" stroke="#111" stroke-width="1.5"/>
<text x="1529.9" y="801.8" font-size="22.6" text-anchor="end" transform="rotate(-45 1529.9 801.8)">Leucine</text>
<line x1="1564.1" y1="778.8" x2="1564.1" y2="782.8" stroke="#111" stroke-width="1.5"/>
<text x="1569.9" y="801.8" font-size="22.6" text-anchor="end" transform="rotate(-45 1569.9 801.8)">Lysine</text>
<line x1="1604.2" y1="778.8" x2="1604.2" y2="782.8" stroke="#111" stroke-width="1.5"/>
<text x="1610.0" y="801.8" font-size="22.6" text-anchor="end" transform="rotate(-45 1610.0 801.8)">Methionine</text>
<line x1="1644.2" y1="778.8" x2="1644.2" y2="782.8" stroke="#111" stroke-width="1.5"/>
<text x="1650.0" y="801.8" font-size="22.6" text-anchor="end" transform="rotate(-45 1650.0 801.8)">Phenylalanine</text>
<line x1="1684.3" y1="778.8" x2="1684.3" y2="782.8" stroke="#111" stroke-width="1.5"/>
<text x="1690.1" y="801.8" font-size="22.6" text-anchor="end" transform="rotate(-45 1690.1 801.8)">Proline</text>
<line x1="1724.3" y1="778.8" x2="1724.3" y2="782.8" stroke="#111" stroke-width="1.5"/>
<text x="1730.1" y="801.8" font-size="22.6" text-anchor="end" transform="rotate(-45 1730.1 801.8)">Serine</text>
<line x1="1764.3" y1="778.8" x2="1764.3" y2="782.8" stroke="#111" stroke-width="1.5"/>
<text x="1770.1" y="801.8" font-size="22.6" text-anchor="end" transform="rotate(-45 1770.1 801.8)">Threonine</text>
<line x1="1804.4" y1="778.8" x2="1804.4" y2="782.8" stroke="#111" stroke-width="1.5"/>
<text x="1810.2" y="801.8" font-size="22.6" text-anchor="end" transform="rotate(-45 1810.2 801.8)">Valine</text>
<line x1="1844.4" y1="778.8" x2="1844.4" y2="782.8" stroke="#111" stroke-width="1.5"/>
<text x="1850.2" y="801.8" font-size="22.6" text-anchor="end" transform="rotate(-45 1850.2 801.8)">Tyrosine</text>
<line x1="1884.5" y1="778.8" x2="1884.5" y2="782.8" stroke="#111" stroke-width="1.5"/>
<text x="1890.3" y="801.8" font-size="22.6" text-anchor="end" transform="rotate(-45 1890.3 801.8)">Tryptophan</text>
<text x="1471.4" y="616.4" font-size="30.5" text-anchor="middle" transform="rotate(-90 1471.4 616.4)" textLength="253.6" lengthAdjust="spacingAndGlyphs">Relative Ion Count</text>
<text x="1684.0" y="574.6" font-size="44" text-anchor="middle" font-weight="bold">*</text>
<text x="18.5" y="720.7" font-size="28" font-weight="bold">d</text>
<text x="273.2" y="725.8" font-size="22.6" text-anchor="middle" textLength="102.5" lengthAdjust="spacingAndGlyphs">Xenograft</text>
<text x="276.6" y="754.7" font-size="22.6" text-anchor="middle" textLength="104.0" lengthAdjust="spacingAndGlyphs">Cell Lines</text>
<text x="176.5" y="780.8" font-size="18.9">-MYCN</text>
<text x="296.2" y="780.8" font-size="18.9">+MYCN</text>
<circle cx="218.5" cy="789.0" r="5.6" fill="#8C8CF5" fill-opacity="0.8"/>
<circle cx="239.5" cy="800.0" r="5.6" fill="#8C8CF5" fill-opacity="0.8"/>
<circle cx="212.5" cy="806.0" r="5.6" fill="#8C8CF5" fill-opacity="0.8"/>
<circle cx="230.5" cy="815.0" r="5.6" fill="#8C8CF5" fill-opacity="0.8"/>
<circle cx="237.5" cy="810.0" r="5.6" fill="#8C8CF5" fill-opacity="0.8"/>
<circle cx="238.5" cy="792.0" r="5.6" fill="#8C8CF5" fill-opacity="0.8"/>
<circle cx="215.5" cy="798.0" r="6.6" fill="#2A14F2"/>
<circle cx="215.5" cy="798.0" r="2.6" fill="#1A00E8"/>
<circle cx="224.5" cy="792.0" r="6.6" fill="#2A14F2"/>
<circle cx="224.5" cy="792.0" r="2.6" fill="#1A00E8"/>
<circle cx="234.5" cy="795.0" r="6.6" fill="#2A14F2"/>
<circle cx="234.5" cy="795.0" r="2.6" fill="#1A00E8"/>
<circle cx="219.5" cy="808.0" r="6.6" fill="#2A14F2"/>
<circle cx="219.5" cy="808.0" r="2.6" fill="#1A00E8"/>
<circle cx="230.5" cy="809.0" r="6.6" fill="#2A14F2"/>
<circle cx="230.5" cy="809.0" r="2.6" fill="#1A00E8"/>
<circle cx="236.5" cy="804.0" r="6.6" fill="#2A14F2"/>
<circle cx="236.5" cy="804.0" r="2.6" fill="#1A00E8"/>
<circle cx="225.5" cy="801.0" r="6.6" fill="#2A14F2"/>
<circle cx="225.5" cy="801.0" r="2.6" fill="#1A00E8"/>
<circle cx="317.6" cy="790.0" r="5.6" fill="#F2A6A6" fill-opacity="0.8"/>
<circle cx="338.6" cy="801.0" r="5.6" fill="#F2A6A6" fill-opacity="0.8"/>
<circle cx="311.6" cy="807.0" r="5.6" fill="#F2A6A6" fill-opacity="0.8"/>
<circle cx="329.6" cy="816.0" r="5.6" fill="#F2A6A6" fill-opacity="0.8"/>
<circle cx="336.6" cy="811.0" r="5.6" fill="#F2A6A6" fill-opacity="0.8"/>
<circle cx="337.6" cy="793.0" r="5.6" fill="#F2A6A6" fill-opacity="0.8"/>
<circle cx="314.6" cy="799.0" r="6.6" fill="#EA3C3C"/>
<circle cx="314.6" cy="799.0" r="2.6" fill="#D42424"/>
<circle cx="323.6" cy="793.0" r="6.6" fill="#EA3C3C"/>
<circle cx="323.6" cy="793.0" r="2.6" fill="#D42424"/>
<circle cx="333.6" cy="796.0" r="6.6" fill="#EA3C3C"/>
<circle cx="333.6" cy="796.0" r="2.6" fill="#D42424"/>
<circle cx="318.6" cy="809.0" r="6.6" fill="#EA3C3C"/>
<circle cx="318.6" cy="809.0" r="2.6" fill="#D42424"/>
<circle cx="329.6" cy="810.0" r="6.6" fill="#EA3C3C"/>
<circle cx="329.6" cy="810.0" r="2.6" fill="#D42424"/>
<circle cx="335.6" cy="805.0" r="6.6" fill="#EA3C3C"/>
<circle cx="335.6" cy="805.0" r="2.6" fill="#D42424"/>
<circle cx="324.6" cy="802.0" r="6.6" fill="#EA3C3C"/>
<circle cx="324.6" cy="802.0" r="2.6" fill="#D42424"/>
<g fill="none" stroke="#9a9a9a" stroke-width="0.85">
<path d="M276.52 766.06 C276.04 766.63 274.67 768.14 273.69 769.46 C272.71 770.78 271.63 772.51 270.63 773.98 C269.63 775.45 268.63 776.92 267.69 778.28 C266.75 779.64 265.81 781.18 264.98 782.13 C264.15 783.07 263.58 783.82 262.71 783.94 C261.85 784.05 260.75 783.45 259.77 782.81 C258.79 782.16 257.70 780.62 256.83 780.09 C255.97 779.56 255.06 779.52 254.57 779.64 C254.08 779.75 253.78 780.24 253.89 780.77 C254.00 781.30 254.57 781.94 255.25 782.81 C255.93 783.67 256.95 784.80 257.96 785.97 C258.98 787.14 260.23 788.61 261.36 789.82 C262.49 791.03 263.81 792.12 264.75 793.21 C265.69 794.31 266.56 795.29 267.01 796.38 C267.47 797.47 267.54 798.72 267.47 799.77 C267.39 800.83 267.09 801.89 266.56 802.71 C266.03 803.54 264.68 804.41 264.30 804.75"/>
<path d="M264.30 804.75 C263.73 804.79 262.00 804.64 260.90 804.98 C259.81 805.32 258.49 806.00 257.74 806.79 C256.98 807.58 256.46 808.79 256.38 809.73 C256.30 810.67 256.68 811.73 257.29 812.44 C257.89 813.16 258.94 813.84 260.00 814.03 C261.06 814.22 263.02 813.65 263.62 813.57"/>
<path d="M263.62 813.57 C263.32 814.01 262.30 815.18 261.81 816.18 C261.32 817.18 260.79 818.34 260.68 819.57 C260.57 820.80 260.72 822.27 261.13 823.53 C261.55 824.79 263.09 826.13 263.17 827.15 C263.24 828.17 262.49 829.03 261.58 829.64 C260.68 830.24 258.83 830.13 257.74 830.77 C256.64 831.41 255.66 832.65 255.02 833.48 C254.38 834.31 253.74 835.26 253.89 835.75 C254.04 836.24 254.95 836.61 255.93 836.43 C256.91 836.24 258.42 835.33 259.77 834.62 C261.13 833.90 262.90 833.03 264.07 832.13 C265.24 831.22 266.15 830.20 266.79 829.19 C267.43 828.17 267.28 826.17 267.92 826.02 C268.56 825.87 269.50 827.45 270.63 828.28 C271.76 829.11 274.03 830.54 274.71 831.00"/>
<path d="M276.52 766.06 C276.99 766.63 278.36 768.14 279.34 769.46 C280.32 770.78 281.40 772.51 282.40 773.98 C283.40 775.45 284.40 776.92 285.34 778.28 C286.28 779.64 287.22 781.18 288.05 782.13 C288.88 783.07 289.45 783.82 290.32 783.94 C291.18 784.05 292.28 783.45 293.26 782.81 C294.24 782.16 295.33 780.62 296.20 780.09 C297.07 779.56 297.97 779.52 298.46 779.64 C298.95 779.75 299.25 780.24 299.14 780.77 C299.03 781.30 298.46 781.94 297.78 782.81 C297.10 783.67 296.09 784.80 295.07 785.97 C294.05 787.14 292.81 788.61 291.67 789.82 C290.54 791.03 289.22 792.12 288.28 793.21 C287.34 794.31 286.47 795.29 286.02 796.38 C285.57 797.47 285.49 798.72 285.57 799.77 C285.64 800.83 285.94 801.89 286.47 802.71 C287.00 803.54 288.36 804.41 288.73 804.75"/>
<path d="M288.73 804.75 C289.30 804.79 291.03 804.64 292.13 804.98 C293.22 805.32 294.54 806.00 295.29 806.79 C296.05 807.58 296.58 808.79 296.65 809.73 C296.73 810.67 296.35 811.73 295.75 812.44 C295.14 813.16 294.09 813.84 293.03 814.03 C291.98 814.22 290.02 813.65 289.41 813.57"/>
<path d="M289.41 813.57 C289.71 814.01 290.73 815.18 291.22 816.18 C291.71 817.18 292.24 818.34 292.35 819.57 C292.47 820.80 292.32 822.27 291.90 823.53 C291.49 824.79 289.94 826.13 289.86 827.15 C289.79 828.17 290.54 829.03 291.45 829.64 C292.35 830.24 294.20 830.13 295.29 830.77 C296.39 831.41 297.37 832.65 298.01 833.48 C298.65 834.31 299.29 835.26 299.14 835.75 C298.99 836.24 298.08 836.61 297.10 836.43 C296.12 836.24 294.62 835.33 293.26 834.62 C291.90 833.90 290.13 833.03 288.96 832.13 C287.79 831.22 286.89 830.20 286.24 829.19 C285.60 828.17 285.75 826.17 285.11 826.02 C284.47 825.87 283.53 827.45 282.40 828.28 C281.27 829.11 279.00 830.54 278.33 831.00"/>
<path d="M274.71 831.00 C274.63 832.58 274.44 837.03 274.25 840.50 C274.06 843.97 273.80 848.04 273.57 851.81 C273.35 855.58 273.16 859.54 272.90 863.12 C272.63 866.70 272.25 870.44 271.99 873.30 C271.73 876.17 271.24 879.26 271.31 880.32 C271.39 881.37 271.99 881.00 272.44 879.64 C272.90 878.28 273.54 874.92 274.03 872.17 C274.52 869.42 275.01 866.52 275.38 863.12 C275.76 859.73 275.99 855.58 276.29 851.81 C276.59 848.04 276.86 843.97 277.19 840.50 C277.53 837.03 278.14 832.58 278.33 831.00"/>
<path d="M275.61 766.97 L269.16 764.71 M275.61 767.19 L270.29 768.10 M275.61 766.97 L271.43 763.35 M277.65 766.97 L284.21 764.71 M277.65 767.19 L283.08 768.10 M277.65 766.97 L281.95 763.35" stroke-width="0.6"/>
</g>
<line x1="233.5" y1="816.2" x2="256.0" y2="811.8" stroke="#999" stroke-width="1" stroke-dasharray="2 2"/>
<line x1="296.5" y1="808.9" x2="310.5" y2="812.2" stroke="#999" stroke-width="1" stroke-dasharray="2 2"/>
<rect x="401.4" y="800.5" width="19.4" height="12.5" fill="#2A14F0" stroke="#000" stroke-width="1"/>
<text x="428.2" y="814.7" font-size="22.4" textLength="141.2" lengthAdjust="spacingAndGlyphs">Non-Amplified</text>
<rect x="586.0" y="800.5" width="19.0" height="12.5" fill="#F8301A" stroke="#000" stroke-width="1"/>
<text x="612.5" y="814.7" font-size="22.4" textLength="169.0" lengthAdjust="spacingAndGlyphs"><tspan font-style="italic">MYCN</tspan>-Amplified</text>
<text x="183.2" y="871.8" font-size="27.2" text-anchor="middle">Proline</text>
<text x="435.0" y="871.8" font-size="27.2" text-anchor="middle">Glutamine</text>
<text x="671.5" y="871.8" font-size="27.2" text-anchor="middle">Arginine</text>
<text x="901.8" y="871.8" font-size="27.2" text-anchor="middle">Ornithine</text>
<text x="1144.7" y="871.8" font-size="27.2" text-anchor="middle">Glutamate</text>
<text x="35.6" y="984.0" font-size="22.8" text-anchor="middle" transform="rotate(-90 35.6 984.0)" textLength="187.3" lengthAdjust="spacingAndGlyphs">Relative Ion Count</text>
<text x="143.2" y="927.4" font-size="38" text-anchor="middle" font-weight="bold" textLength="32.4" lengthAdjust="spacingAndGlyphs">**</text>
<text x="266.0" y="927.4" font-size="38" text-anchor="middle" font-weight="bold" textLength="16.2" lengthAdjust="spacingAndGlyphs">*</text>
<text x="381.5" y="927.4" font-size="38" text-anchor="middle" font-weight="bold" textLength="32.4" lengthAdjust="spacingAndGlyphs">**</text>
<text x="503.0" y="927.4" font-size="38" text-anchor="middle" font-weight="bold" textLength="16.2" lengthAdjust="spacingAndGlyphs">*</text>
<text x="1238.2" y="927.4" font-size="38" text-anchor="middle" font-weight="bold" textLength="16.2" lengthAdjust="spacingAndGlyphs">*</text>
<rect x="96.7" y="1031.6" width="22.7" height="47.4" fill="#2A14F0" stroke="#000" stroke-width="1.7"/>
<line x1="108.1" y1="1013.6" x2="108.1" y2="1049.6" stroke="#000" stroke-width="1.8"/>
<line x1="100.9" y1="1013.6" x2="115.3" y2="1013.6" stroke="#000" stroke-width="1.8"/>
<line x1="100.9" y1="1049.6" x2="115.3" y2="1049.6" stroke="#000" stroke-width="1.8"/>
<circle cx="108.1" cy="986.6" r="2.7" fill="#000"/>
<circle cx="108.1" cy="1028.3" r="2.7" fill="#000"/>
<circle cx="108.1" cy="1055.3" r="2.7" fill="#000"/>
<circle cx="108.1" cy="1064.8" r="2.7" fill="#000"/>
<rect x="133.4" y="973.4" width="22.7" height="105.6" fill="#F8301A" stroke="#000" stroke-width="1.7"/>
<line x1="144.8" y1="960.6" x2="144.8" y2="986.2" stroke="#000" stroke-width="1.8"/>
<line x1="137.6" y1="960.6" x2="151.9" y2="960.6" stroke="#000" stroke-width="1.8"/>
<line x1="137.6" y1="986.2" x2="151.9" y2="986.2" stroke="#000" stroke-width="1.8"/>
<circle cx="146.2" cy="945.0" r="2.7" fill="#000"/>
<circle cx="146.2" cy="979.5" r="2.7" fill="#000"/>
<circle cx="144.8" cy="984.3" r="2.7" fill="#000"/>
<circle cx="146.2" cy="1004.6" r="2.7" fill="#000"/>
<line x1="84.8" y1="936.9" x2="84.8" y2="1079.6" stroke="#111" stroke-width="1.5"/>
<line x1="77.4" y1="1079.0" x2="168.0" y2="1079.0" stroke="#111" stroke-width="1.5"/>
<line x1="77.3" y1="1079.0" x2="84.8" y2="1079.0" stroke="#111" stroke-width="1.5"/>
<text x="73.3" y="1086.1" font-size="19.8" text-anchor="end">0</text>
<line x1="77.3" y1="1031.6" x2="84.8" y2="1031.6" stroke="#111" stroke-width="1.5"/>
<text x="73.3" y="1038.8" font-size="19.8" text-anchor="end">1</text>
<line x1="77.3" y1="984.3" x2="84.8" y2="984.3" stroke="#111" stroke-width="1.5"/>
<text x="73.3" y="991.4" font-size="19.8" text-anchor="end">2</text>
<line x1="77.3" y1="936.9" x2="84.8" y2="936.9" stroke="#111" stroke-width="1.5"/>
<text x="73.3" y="944.0" font-size="19.8" text-anchor="end">3</text>
<line x1="108.1" y1="1079.0" x2="108.1" y2="1084.5" stroke="#111" stroke-width="1.5"/>
<text x="0" y="0" font-size="18" text-anchor="end" transform="translate(117.9 1093.8) rotate(-45) scale(0.925 1)">SKNSH</text>
<line x1="144.8" y1="1079.0" x2="144.8" y2="1084.5" stroke="#111" stroke-width="1.5"/>
<text x="0" y="0" font-size="18" text-anchor="end" transform="translate(154.6 1093.8) rotate(-45) scale(0.925 1)">LAN5</text>
<rect x="218.9" y="1070.2" width="22.7" height="8.8" fill="#2A14F0" stroke="#000" stroke-width="1.7"/>
<line x1="230.2" y1="1068.8" x2="230.2" y2="1071.6" stroke="#000" stroke-width="1.8"/>
<line x1="223.1" y1="1068.8" x2="237.4" y2="1068.8" stroke="#000" stroke-width="1.8"/>
<line x1="223.1" y1="1071.6" x2="237.4" y2="1071.6" stroke="#000" stroke-width="1.8"/>
<circle cx="223.2" cy="1066.7" r="2.7" fill="#000"/>
<circle cx="227.8" cy="1069.1" r="2.7" fill="#000"/>
<circle cx="232.8" cy="1067.6" r="2.7" fill="#000"/>
<circle cx="237.2" cy="1070.0" r="2.7" fill="#000"/>
<rect x="255.2" y="989.0" width="22.4" height="90.0" fill="#F8301A" stroke="#000" stroke-width="1.7"/>
<line x1="266.4" y1="972.4" x2="266.4" y2="1005.6" stroke="#000" stroke-width="1.8"/>
<line x1="259.2" y1="972.4" x2="273.6" y2="972.4" stroke="#000" stroke-width="1.8"/>
<line x1="259.2" y1="1005.6" x2="273.6" y2="1005.6" stroke="#000" stroke-width="1.8"/>
<circle cx="266.4" cy="948.3" r="2.7" fill="#000"/>
<circle cx="266.4" cy="982.4" r="2.7" fill="#000"/>
<circle cx="266.4" cy="995.6" r="2.7" fill="#000"/>
<circle cx="266.4" cy="1025.9" r="2.7" fill="#000"/>
<line x1="207.0" y1="936.9" x2="207.0" y2="1079.6" stroke="#111" stroke-width="1.5"/>
<line x1="199.5" y1="1079.0" x2="289.0" y2="1079.0" stroke="#111" stroke-width="1.5"/>
<line x1="199.5" y1="1079.0" x2="207.0" y2="1079.0" stroke="#111" stroke-width="1.5"/>
<text x="195.5" y="1086.1" font-size="19.8" text-anchor="end">0</text>
<line x1="199.5" y1="1031.6" x2="207.0" y2="1031.6" stroke="#111" stroke-width="1.5"/>
<text x="195.5" y="1038.8" font-size="19.8" text-anchor="end">5</text>
<line x1="199.5" y1="984.3" x2="207.0" y2="984.3" stroke="#111" stroke-width="1.5"/>
<text x="195.5" y="991.4" font-size="19.8" text-anchor="end">10</text>
<line x1="199.5" y1="936.9" x2="207.0" y2="936.9" stroke="#111" stroke-width="1.5"/>
<text x="195.5" y="944.0" font-size="19.8" text-anchor="end">15</text>
<line x1="230.2" y1="1079.0" x2="230.2" y2="1084.5" stroke="#111" stroke-width="1.5"/>
<text x="0" y="0" font-size="18" text-anchor="end" transform="translate(240.1 1093.8) rotate(-45) scale(0.925 1)">CHLA90</text>
<line x1="266.4" y1="1079.0" x2="266.4" y2="1084.5" stroke="#111" stroke-width="1.5"/>
<text x="0" y="0" font-size="18" text-anchor="end" transform="translate(276.2 1093.8) rotate(-45) scale(0.925 1)">SMSSAN</text>
<rect x="335.3" y="1022.0" width="22.4" height="57.0" fill="#2A14F0" stroke="#000" stroke-width="1.7"/>
<line x1="346.5" y1="1010.6" x2="346.5" y2="1033.4" stroke="#000" stroke-width="1.8"/>
<line x1="339.3" y1="1010.6" x2="353.7" y2="1010.6" stroke="#000" stroke-width="1.8"/>
<line x1="339.3" y1="1033.4" x2="353.7" y2="1033.4" stroke="#000" stroke-width="1.8"/>
<circle cx="343.0" cy="1002.0" r="2.7" fill="#000"/>
<circle cx="350.0" cy="1002.0" r="2.7" fill="#000"/>
<circle cx="346.5" cy="1038.0" r="2.7" fill="#000"/>
<circle cx="346.5" cy="1044.8" r="2.7" fill="#000"/>
<rect x="370.9" y="978.7" width="22.7" height="100.3" fill="#F8301A" stroke="#000" stroke-width="1.7"/>
<line x1="382.2" y1="967.3" x2="382.2" y2="990.1" stroke="#000" stroke-width="1.8"/>
<line x1="375.1" y1="967.3" x2="389.4" y2="967.3" stroke="#000" stroke-width="1.8"/>
<line x1="375.1" y1="990.1" x2="389.4" y2="990.1" stroke="#000" stroke-width="1.8"/>
<circle cx="382.2" cy="953.6" r="2.7" fill="#000"/>
<circle cx="382.2" cy="981.0" r="2.7" fill="#000"/>
<circle cx="383.2" cy="984.4" r="2.7" fill="#000"/>
<circle cx="382.2" cy="1006.6" r="2.7" fill="#000"/>
<line x1="323.0" y1="936.9" x2="323.0" y2="1079.6" stroke="#111" stroke-width="1.5"/>
<line x1="315.6" y1="1079.0" x2="405.5" y2="1079.0" stroke="#111" stroke-width="1.5"/>
<line x1="315.5" y1="1079.0" x2="323.0" y2="1079.0" stroke="#111" stroke-width="1.5"/>
<text x="311.5" y="1086.1" font-size="19.8" text-anchor="end">0</text>
<line x1="315.5" y1="1022.0" x2="323.0" y2="1022.0" stroke="#111" stroke-width="1.5"/>
<text x="311.5" y="1029.1" font-size="19.8" text-anchor="end">1</text>
<line x1="315.5" y1="965.0" x2="323.0" y2="965.0" stroke="#111" stroke-width="1.5"/>
<text x="311.5" y="972.1" font-size="19.8" text-anchor="end">2</text>
<line x1="346.5" y1="1079.0" x2="346.5" y2="1084.5" stroke="#111" stroke-width="1.5"/>
<text x="0" y="0" font-size="18" text-anchor="end" transform="translate(356.3 1093.8) rotate(-45) scale(0.925 1)">SKNSH</text>
<line x1="382.2" y1="1079.0" x2="382.2" y2="1084.5" stroke="#111" stroke-width="1.5"/>
<text x="0" y="0" font-size="18" text-anchor="end" transform="translate(392.1 1093.8) rotate(-45) scale(0.925 1)">LAN5</text>
<rect x="456.4" y="1043.5" width="22.1" height="35.5" fill="#2A14F0" stroke="#000" stroke-width="1.7"/>
<line x1="467.4" y1="1037.4" x2="467.4" y2="1049.5" stroke="#000" stroke-width="1.8"/>
<line x1="460.2" y1="1037.4" x2="474.6" y2="1037.4" stroke="#000" stroke-width="1.8"/>
<line x1="460.2" y1="1049.5" x2="474.6" y2="1049.5" stroke="#000" stroke-width="1.8"/>
<circle cx="467.4" cy="1030.3" r="2.7" fill="#000"/>
<circle cx="467.4" cy="1042.8" r="2.7" fill="#000"/>
<circle cx="467.4" cy="1046.3" r="2.7" fill="#000"/>
<circle cx="467.4" cy="1057.7" r="2.7" fill="#000"/>
<rect x="492.0" y="973.1" width="22.8" height="105.9" fill="#F8301A" stroke="#000" stroke-width="1.7"/>
<line x1="503.4" y1="960.7" x2="503.4" y2="985.6" stroke="#000" stroke-width="1.8"/>
<line x1="496.2" y1="960.7" x2="510.6" y2="960.7" stroke="#000" stroke-width="1.8"/>
<line x1="496.2" y1="985.6" x2="510.6" y2="985.6" stroke="#000" stroke-width="1.8"/>
<circle cx="503.4" cy="946.8" r="2.7" fill="#000"/>
<circle cx="503.4" cy="977.8" r="2.7" fill="#000"/>
<circle cx="503.4" cy="983.1" r="2.7" fill="#000"/>
<circle cx="503.4" cy="1004.4" r="2.7" fill="#000"/>
<line x1="443.8" y1="936.9" x2="443.8" y2="1079.6" stroke="#111" stroke-width="1.5"/>
<line x1="436.0" y1="1079.0" x2="526.6" y2="1079.0" stroke="#111" stroke-width="1.5"/>
<line x1="436.3" y1="1079.0" x2="443.8" y2="1079.0" stroke="#111" stroke-width="1.5"/>
<text x="432.3" y="1086.1" font-size="19.8" text-anchor="end">0</text>
<line x1="436.3" y1="1008.0" x2="443.8" y2="1008.0" stroke="#111" stroke-width="1.5"/>
<text x="432.3" y="1015.1" font-size="19.8" text-anchor="end">2</text>
<line x1="436.3" y1="936.9" x2="443.8" y2="936.9" stroke="#111" stroke-width="1.5"/>
<text x="432.3" y="944.0" font-size="19.8" text-anchor="end">4</text>
<line x1="467.4" y1="1079.0" x2="467.4" y2="1084.5" stroke="#111" stroke-width="1.5"/>
<text x="0" y="0" font-size="18" text-anchor="end" transform="translate(477.2 1093.8) rotate(-45) scale(0.925 1)">CHLA90</text>
<line x1="503.4" y1="1079.0" x2="503.4" y2="1084.5" stroke="#111" stroke-width="1.5"/>
<text x="0" y="0" font-size="18" text-anchor="end" transform="translate(513.2 1093.8) rotate(-45) scale(0.925 1)">SMSSAN</text>
<rect x="583.0" y="1008.0" width="22.7" height="71.1" fill="#2A14F0" stroke="#000" stroke-width="1.7"/>
<line x1="594.4" y1="997.3" x2="594.4" y2="1018.6" stroke="#000" stroke-width="1.8"/>
<line x1="587.1" y1="997.3" x2="601.6" y2="997.3" stroke="#000" stroke-width="1.8"/>
<line x1="587.1" y1="1018.6" x2="601.6" y2="1018.6" stroke="#000" stroke-width="1.8"/>
<circle cx="594.4" cy="985.2" r="2.7" fill="#000"/>
<circle cx="594.4" cy="1004.4" r="2.7" fill="#000"/>
<circle cx="594.4" cy="1011.5" r="2.7" fill="#000"/>
<circle cx="594.4" cy="1034.2" r="2.7" fill="#000"/>
<rect x="618.3" y="988.1" width="22.4" height="90.9" fill="#F8301A" stroke="#000" stroke-width="1.7"/>
<line x1="629.5" y1="977.4" x2="629.5" y2="998.7" stroke="#000" stroke-width="1.8"/>
<line x1="622.3" y1="977.4" x2="636.7" y2="977.4" stroke="#000" stroke-width="1.8"/>
<line x1="622.3" y1="998.7" x2="636.7" y2="998.7" stroke="#000" stroke-width="1.8"/>
<circle cx="629.5" cy="960.3" r="2.7" fill="#000"/>
<circle cx="629.5" cy="986.6" r="2.7" fill="#000"/>
<circle cx="630.5" cy="997.3" r="2.7" fill="#000"/>
<circle cx="629.5" cy="1009.4" r="2.7" fill="#000"/>
<line x1="571.8" y1="936.9" x2="571.8" y2="1079.6" stroke="#111" stroke-width="1.5"/>
<line x1="564.0" y1="1079.0" x2="654.0" y2="1079.0" stroke="#111" stroke-width="1.5"/>
<line x1="564.3" y1="1079.0" x2="571.8" y2="1079.0" stroke="#111" stroke-width="1.5"/>
<text x="560.3" y="1086.1" font-size="19.8" text-anchor="end">0</text>
<line x1="564.3" y1="1008.0" x2="571.8" y2="1008.0" stroke="#111" stroke-width="1.5"/>
<text x="560.3" y="1015.1" font-size="19.8" text-anchor="end">1</text>
<line x1="564.3" y1="936.9" x2="571.8" y2="936.9" stroke="#111" stroke-width="1.5"/>
<text x="560.3" y="944.0" font-size="19.8" text-anchor="end">2</text>
<line x1="594.4" y1="1079.0" x2="594.4" y2="1084.5" stroke="#111" stroke-width="1.5"/>
<text x="0" y="0" font-size="18" text-anchor="end" transform="translate(604.1 1093.8) rotate(-45) scale(0.925 1)">SKNSH</text>
<line x1="629.5" y1="1079.0" x2="629.5" y2="1084.5" stroke="#111" stroke-width="1.5"/>
<text x="0" y="0" font-size="18" text-anchor="end" transform="translate(639.3 1093.8) rotate(-45) scale(0.925 1)">LAN5</text>
<rect x="700.4" y="984.7" width="24.4" height="94.3" fill="#2A14F0" stroke="#000" stroke-width="1.7"/>
<line x1="712.6" y1="970.6" x2="712.6" y2="998.8" stroke="#000" stroke-width="1.8"/>
<line x1="705.4" y1="970.6" x2="719.8" y2="970.6" stroke="#000" stroke-width="1.8"/>
<line x1="705.4" y1="998.8" x2="719.8" y2="998.8" stroke="#000" stroke-width="1.8"/>
<circle cx="705.1" cy="969.6" r="2.7" fill="#000"/>
<circle cx="712.6" cy="969.6" r="2.7" fill="#000"/>
<circle cx="720.1" cy="969.6" r="2.7" fill="#000"/>
<circle cx="712.6" cy="1028.1" r="2.7" fill="#000"/>
<rect x="737.7" y="982.8" width="24.5" height="96.2" fill="#F8301A" stroke="#000" stroke-width="1.7"/>
<line x1="750.0" y1="971.5" x2="750.0" y2="994.1" stroke="#000" stroke-width="1.8"/>
<line x1="742.8" y1="971.5" x2="757.2" y2="971.5" stroke="#000" stroke-width="1.8"/>
<line x1="742.8" y1="994.1" x2="757.2" y2="994.1" stroke="#000" stroke-width="1.8"/>
<circle cx="750.0" cy="950.8" r="2.7" fill="#000"/>
<circle cx="750.0" cy="981.9" r="2.7" fill="#000"/>
<circle cx="750.0" cy="992.2" r="2.7" fill="#000"/>
<circle cx="750.0" cy="1006.4" r="2.7" fill="#000"/>
<line x1="688.5" y1="936.8" x2="688.5" y2="1079.6" stroke="#111" stroke-width="1.5"/>
<line x1="680.7" y1="1079.0" x2="772.3" y2="1079.0" stroke="#111" stroke-width="1.5"/>
<line x1="681.0" y1="1079.0" x2="688.5" y2="1079.0" stroke="#111" stroke-width="1.5"/>
<text x="677.0" y="1086.1" font-size="19.8" text-anchor="end">0</text>
<line x1="681.0" y1="984.7" x2="688.5" y2="984.7" stroke="#111" stroke-width="1.5"/>
<text x="677.0" y="991.8" font-size="19.8" text-anchor="end">1</text>
<line x1="712.6" y1="1079.0" x2="712.6" y2="1084.5" stroke="#111" stroke-width="1.5"/>
<text x="0" y="0" font-size="18" text-anchor="end" transform="translate(722.4 1093.8) rotate(-45) scale(0.925 1)">CHLA90</text>
<line x1="750.0" y1="1079.0" x2="750.0" y2="1084.5" stroke="#111" stroke-width="1.5"/>
<text x="0" y="0" font-size="18" text-anchor="end" transform="translate(759.8 1093.8) rotate(-45) scale(0.925 1)">SMSSAN</text>
<rect x="819.8" y="1008.0" width="22.8" height="71.1" fill="#2A14F0" stroke="#000" stroke-width="1.7"/>
<line x1="831.2" y1="998.0" x2="831.2" y2="1017.9" stroke="#000" stroke-width="1.8"/>
<line x1="824.0" y1="998.0" x2="838.4" y2="998.0" stroke="#000" stroke-width="1.8"/>
<line x1="824.0" y1="1017.9" x2="838.4" y2="1017.9" stroke="#000" stroke-width="1.8"/>
<circle cx="831.2" cy="988.8" r="2.7" fill="#000"/>
<circle cx="831.2" cy="1000.8" r="2.7" fill="#000"/>
<circle cx="831.2" cy="1011.5" r="2.7" fill="#000"/>
<circle cx="831.2" cy="1032.8" r="2.7" fill="#000"/>
<rect x="855.5" y="986.6" width="22.7" height="92.4" fill="#F8301A" stroke="#000" stroke-width="1.7"/>
<line x1="866.9" y1="973.8" x2="866.9" y2="999.4" stroke="#000" stroke-width="1.8"/>
<line x1="859.6" y1="973.8" x2="874.1" y2="973.8" stroke="#000" stroke-width="1.8"/>
<line x1="859.6" y1="999.4" x2="874.1" y2="999.4" stroke="#000" stroke-width="1.8"/>
<circle cx="866.9" cy="949.7" r="2.7" fill="#000"/>
<circle cx="866.9" cy="986.6" r="2.7" fill="#000"/>
<circle cx="866.9" cy="997.3" r="2.7" fill="#000"/>
<circle cx="866.9" cy="1009.4" r="2.7" fill="#000"/>
<line x1="807.3" y1="936.9" x2="807.3" y2="1079.6" stroke="#111" stroke-width="1.5"/>
<line x1="799.5" y1="1079.0" x2="890.4" y2="1079.0" stroke="#111" stroke-width="1.5"/>
<line x1="799.8" y1="1079.0" x2="807.3" y2="1079.0" stroke="#111" stroke-width="1.5"/>
<text x="795.8" y="1086.1" font-size="19.8" text-anchor="end">0</text>
<line x1="799.8" y1="1008.0" x2="807.3" y2="1008.0" stroke="#111" stroke-width="1.5"/>
<text x="795.8" y="1015.1" font-size="19.8" text-anchor="end">1</text>
<line x1="799.8" y1="936.9" x2="807.3" y2="936.9" stroke="#111" stroke-width="1.5"/>
<text x="795.8" y="944.0" font-size="19.8" text-anchor="end">2</text>
<line x1="831.2" y1="1079.0" x2="831.2" y2="1084.5" stroke="#111" stroke-width="1.5"/>
<text x="0" y="0" font-size="18" text-anchor="end" transform="translate(841.0 1093.8) rotate(-45) scale(0.925 1)">SKNSH</text>
<line x1="866.9" y1="1079.0" x2="866.9" y2="1084.5" stroke="#111" stroke-width="1.5"/>
<text x="0" y="0" font-size="18" text-anchor="end" transform="translate(876.6 1093.8) rotate(-45) scale(0.925 1)">LAN5</text>
<rect x="937.6" y="979.6" width="23.1" height="99.4" fill="#2A14F0" stroke="#000" stroke-width="1.7"/>
<line x1="949.2" y1="964.7" x2="949.2" y2="994.5" stroke="#000" stroke-width="1.8"/>
<line x1="942.0" y1="964.7" x2="956.4" y2="964.7" stroke="#000" stroke-width="1.8"/>
<line x1="942.0" y1="994.5" x2="956.4" y2="994.5" stroke="#000" stroke-width="1.8"/>
<circle cx="946.2" cy="964.7" r="2.7" fill="#000"/>
<circle cx="952.2" cy="961.7" r="2.7" fill="#000"/>
<circle cx="953.2" cy="967.7" r="2.7" fill="#000"/>
<circle cx="949.2" cy="1024.3" r="2.7" fill="#000"/>
<rect x="973.6" y="977.6" width="22.7" height="101.4" fill="#F8301A" stroke="#000" stroke-width="1.7"/>
<line x1="985.0" y1="964.7" x2="985.0" y2="990.5" stroke="#000" stroke-width="1.8"/>
<line x1="977.8" y1="964.7" x2="992.2" y2="964.7" stroke="#000" stroke-width="1.8"/>
<line x1="977.8" y1="990.5" x2="992.2" y2="990.5" stroke="#000" stroke-width="1.8"/>
<circle cx="985.0" cy="942.8" r="2.7" fill="#000"/>
<circle cx="985.0" cy="976.6" r="2.7" fill="#000"/>
<circle cx="985.0" cy="987.6" r="2.7" fill="#000"/>
<circle cx="985.0" cy="1001.5" r="2.7" fill="#000"/>
<line x1="925.0" y1="930.0" x2="925.0" y2="1079.6" stroke="#111" stroke-width="1.5"/>
<line x1="917.6" y1="1079.0" x2="1008.2" y2="1079.0" stroke="#111" stroke-width="1.5"/>
<line x1="917.5" y1="1079.0" x2="925.0" y2="1079.0" stroke="#111" stroke-width="1.5"/>
<text x="913.5" y="1086.1" font-size="19.8" text-anchor="end">0</text>
<line x1="917.5" y1="979.6" x2="925.0" y2="979.6" stroke="#111" stroke-width="1.5"/>
<text x="913.5" y="986.7" font-size="19.8" text-anchor="end">1</text>
<line x1="949.2" y1="1079.0" x2="949.2" y2="1084.5" stroke="#111" stroke-width="1.5"/>
<text x="0" y="0" font-size="18" text-anchor="end" transform="translate(959.0 1093.8) rotate(-45) scale(0.925 1)">CHLA90</text>
<line x1="985.0" y1="1079.0" x2="985.0" y2="1084.5" stroke="#111" stroke-width="1.5"/>
<text x="0" y="0" font-size="18" text-anchor="end" transform="translate(994.8 1093.8) rotate(-45) scale(0.925 1)">SMSSAN</text>
<rect x="1053.3" y="1004.5" width="27.1" height="74.5" fill="#2A14F0" stroke="#000" stroke-width="1.7"/>
<line x1="1066.8" y1="981.4" x2="1066.8" y2="1027.6" stroke="#000" stroke-width="1.8"/>
<line x1="1059.6" y1="981.4" x2="1074.0" y2="981.4" stroke="#000" stroke-width="1.8"/>
<line x1="1059.6" y1="1027.6" x2="1074.0" y2="1027.6" stroke="#000" stroke-width="1.8"/>
<circle cx="1066.8" cy="957.6" r="2.7" fill="#000"/>
<circle cx="1066.8" cy="976.9" r="2.7" fill="#000"/>
<circle cx="1066.8" cy="1028.3" r="2.7" fill="#000"/>
<circle cx="1066.8" cy="1056.7" r="2.7" fill="#000"/>
<rect x="1095.7" y="974.0" width="26.8" height="105.0" fill="#F8301A" stroke="#000" stroke-width="1.7"/>
<line x1="1109.1" y1="960.5" x2="1109.1" y2="987.4" stroke="#000" stroke-width="1.8"/>
<line x1="1101.9" y1="960.5" x2="1116.3" y2="960.5" stroke="#000" stroke-width="1.8"/>
<line x1="1101.9" y1="987.4" x2="1116.3" y2="987.4" stroke="#000" stroke-width="1.8"/>
<circle cx="1105.1" cy="953.8" r="2.7" fill="#000"/>
<circle cx="1113.1" cy="952.4" r="2.7" fill="#000"/>
<circle cx="1109.1" cy="972.5" r="2.7" fill="#000"/>
<circle cx="1109.1" cy="1013.4" r="2.7" fill="#000"/>
<line x1="1038.7" y1="930.0" x2="1038.7" y2="1079.6" stroke="#111" stroke-width="1.5"/>
<line x1="1030.9" y1="1079.0" x2="1136.1" y2="1079.0" stroke="#111" stroke-width="1.5"/>
<line x1="1031.2" y1="1079.0" x2="1038.7" y2="1079.0" stroke="#111" stroke-width="1.5"/>
<text x="1027.2" y="1084.2" font-size="14.5" text-anchor="end">0</text>
<line x1="1031.2" y1="1004.5" x2="1038.7" y2="1004.5" stroke="#111" stroke-width="1.5"/>
<text x="1027.2" y="1009.7" font-size="14.5" text-anchor="end">1</text>
<line x1="1031.2" y1="930.0" x2="1038.7" y2="930.0" stroke="#111" stroke-width="1.5"/>
<text x="1027.2" y="935.2" font-size="14.5" text-anchor="end">2</text>
<line x1="1066.8" y1="1079.0" x2="1066.8" y2="1084.5" stroke="#111" stroke-width="1.5"/>
<text x="0" y="0" font-size="18" text-anchor="end" transform="translate(1076.6 1093.8) rotate(-45) scale(0.925 1)">SKNSH</text>
<line x1="1109.1" y1="1079.0" x2="1109.1" y2="1084.5" stroke="#111" stroke-width="1.5"/>
<text x="0" y="0" font-size="18" text-anchor="end" transform="translate(1118.9 1093.8) rotate(-45) scale(0.925 1)">LAN5</text>
<rect x="1182.9" y="1069.7" width="27.1" height="9.3" fill="#2A14F0" stroke="#000" stroke-width="1.7"/>
<line x1="1196.5" y1="1068.2" x2="1196.5" y2="1071.2" stroke="#000" stroke-width="1.8"/>
<line x1="1189.2" y1="1068.2" x2="1203.7" y2="1068.2" stroke="#000" stroke-width="1.8"/>
<line x1="1189.2" y1="1071.2" x2="1203.7" y2="1071.2" stroke="#000" stroke-width="1.8"/>
<circle cx="1188.5" cy="1067.2" r="2.7" fill="#000"/>
<circle cx="1194.5" cy="1071.7" r="2.7" fill="#000"/>
<circle cx="1198.5" cy="1066.8" r="2.7" fill="#000"/>
<circle cx="1204.5" cy="1070.2" r="2.7" fill="#000"/>
<rect x="1225.3" y="983.5" width="26.5" height="95.5" fill="#F8301A" stroke="#000" stroke-width="1.7"/>
<line x1="1238.5" y1="966.4" x2="1238.5" y2="1000.7" stroke="#000" stroke-width="1.8"/>
<line x1="1231.3" y1="966.4" x2="1245.8" y2="966.4" stroke="#000" stroke-width="1.8"/>
<line x1="1231.3" y1="1000.7" x2="1245.8" y2="1000.7" stroke="#000" stroke-width="1.8"/>
<circle cx="1238.5" cy="943.9" r="2.7" fill="#000"/>
<circle cx="1238.5" cy="972.3" r="2.7" fill="#000"/>
<circle cx="1238.5" cy="993.8" r="2.7" fill="#000"/>
<circle cx="1238.5" cy="1022.2" r="2.7" fill="#000"/>
<line x1="1168.3" y1="932.1" x2="1168.3" y2="1079.6" stroke="#111" stroke-width="1.5"/>
<line x1="1160.9" y1="1079.0" x2="1266.1" y2="1079.0" stroke="#111" stroke-width="1.5"/>
<line x1="1160.8" y1="1079.0" x2="1168.3" y2="1079.0" stroke="#111" stroke-width="1.5"/>
<text x="1156.8" y="1084.2" font-size="14.5" text-anchor="end">0</text>
<line x1="1160.8" y1="1030.0" x2="1168.3" y2="1030.0" stroke="#111" stroke-width="1.5"/>
<text x="1156.8" y="1035.3" font-size="14.5" text-anchor="end">5</text>
<line x1="1160.8" y1="981.1" x2="1168.3" y2="981.1" stroke="#111" stroke-width="1.5"/>
<text x="1156.8" y="986.3" font-size="14.5" text-anchor="end">10</text>
<line x1="1160.8" y1="932.1" x2="1168.3" y2="932.1" stroke="#111" stroke-width="1.5"/>
<text x="1156.8" y="937.3" font-size="14.5" text-anchor="end">15</text>
<line x1="1196.5" y1="1079.0" x2="1196.5" y2="1084.5" stroke="#111" stroke-width="1.5"/>
<text x="0" y="0" font-size="18" text-anchor="end" transform="translate(1206.2 1093.8) rotate(-45) scale(0.925 1)">CHLA90</text>
<line x1="1238.5" y1="1079.0" x2="1238.5" y2="1084.5" stroke="#111" stroke-width="1.5"/>
<text x="0" y="0" font-size="18" text-anchor="end" transform="translate(1248.3 1093.8) rotate(-45) scale(0.925 1)">SMSSAN</text>
<text x="26.8" y="1219.8" font-size="28" font-weight="bold">e</text>
<path d="M142.7 1237.3 C143.8 1235.4 147.6 1232.6 151.9 1230.3 C156.2 1228.1 165.1 1225.5 168.5 1223.8 C171.8 1222.1 170.8 1221.1 172.0 1220.3 C173.1 1219.5 174.1 1219.0 175.5 1219.0 C176.8 1219.0 179.0 1219.6 179.8 1220.3 C180.6 1221.0 179.2 1222.0 180.3 1222.9 C181.3 1223.9 184.4 1225.1 185.9 1226.0 C187.5 1226.9 187.1 1228.1 189.4 1228.2 C191.8 1228.2 195.3 1226.9 199.9 1226.4 C204.6 1225.9 212.3 1225.0 217.4 1225.1 C222.5 1225.3 226.2 1225.8 230.5 1227.3 C234.9 1228.7 239.7 1231.6 243.6 1233.8 C247.6 1236.1 251.4 1238.7 254.1 1240.8 C256.9 1243.0 258.9 1244.8 260.2 1247.0 C261.6 1249.1 261.0 1252.5 262.0 1254.0 C263.0 1255.4 264.3 1254.8 266.4 1255.7 C268.4 1256.6 271.5 1257.4 274.2 1259.2 C277.0 1260.9 281.2 1263.9 283.0 1266.2 C284.8 1268.5 285.3 1270.9 285.2 1273.2 C285.0 1275.5 284.4 1278.3 282.1 1280.2 C279.8 1282.1 276.6 1284.0 271.6 1284.5 C266.7 1285.1 259.2 1284.5 252.4 1283.7 C245.5 1282.8 236.9 1280.6 230.5 1279.3 C224.1 1278.0 218.0 1276.2 213.9 1275.8 C209.8 1275.4 207.2 1277.3 206.0 1277.1 C204.9 1277.0 205.6 1275.6 206.9 1274.9 C208.2 1274.3 210.0 1273.2 213.9 1273.2 C217.8 1273.2 224.1 1273.9 230.5 1274.9 C236.9 1275.9 245.8 1278.4 252.4 1279.3 C258.9 1280.2 265.5 1280.6 269.9 1280.2 C274.2 1279.7 276.9 1278.1 278.6 1276.7 C280.3 1275.2 280.6 1273.3 280.3 1271.4 C280.1 1269.5 279.2 1267.2 276.9 1265.3 C274.5 1263.4 269.4 1261.2 266.4 1260.1 C263.3 1258.9 260.8 1257.9 258.5 1258.3 C256.2 1258.8 253.7 1261.1 252.4 1262.7 C251.1 1264.3 251.6 1266.7 250.6 1267.9 C249.6 1269.2 248.6 1269.5 246.3 1270.1 C243.9 1270.7 239.6 1271.4 236.6 1271.4 C233.7 1271.5 230.5 1271.3 228.8 1270.6 C227.0 1269.8 227.3 1268.1 226.2 1267.1 C225.0 1266.0 224.7 1265.2 221.8 1264.4 C218.9 1263.7 212.9 1262.5 208.7 1262.7 C204.4 1262.9 200.1 1265.6 196.4 1265.8 C192.8 1265.9 189.1 1263.2 186.8 1263.6 C184.5 1263.9 184.1 1266.8 182.4 1267.9 C180.8 1269.0 179.8 1269.6 177.2 1270.1 C174.6 1270.6 169.5 1271.2 166.7 1271.0 C163.9 1270.8 161.5 1269.5 160.6 1268.8 C159.7 1268.1 159.7 1267.2 161.5 1266.6 C163.2 1266.0 168.5 1266.7 171.1 1265.3 C173.7 1263.9 176.8 1260.5 177.2 1258.3 C177.6 1256.1 175.7 1253.8 173.7 1252.2 C171.7 1250.6 168.6 1249.8 165.0 1248.7 C161.3 1247.6 155.2 1246.8 151.9 1245.6 C148.5 1244.5 146.4 1243.1 144.9 1241.7 C143.3 1240.3 141.5 1239.2 142.7 1237.3Z" fill="#fff" stroke="#8a8a8a" stroke-width="0.9"/>
<path d="M154.9 1232.5 C155.8 1231.5 162.1 1229.0 165.0 1228.2 C167.8 1227.3 169.9 1227.1 172.0 1227.6 C174.0 1228.0 177.5 1230.1 177.2 1230.8 C176.9 1231.5 172.2 1231.0 170.2 1231.7 C168.2 1232.3 166.7 1234.3 165.0 1234.7 C163.2 1235.2 161.4 1234.6 159.7 1234.3 C158.0 1233.9 154.0 1233.6 154.9 1232.5Z" fill="#DCDCDC" fill-opacity="1"/>
<path d="M192.9 1241.7 C193.5 1239.8 196.4 1238.5 199.9 1237.3 C203.4 1236.2 210.4 1234.3 213.9 1234.7 C217.4 1235.2 219.7 1238.1 220.9 1240.0 C222.1 1241.9 221.9 1244.0 221.3 1246.1 C220.8 1248.1 219.5 1250.6 217.4 1252.2 C215.3 1253.8 211.3 1255.3 208.7 1255.7 C206.0 1256.1 203.7 1256.0 201.7 1254.8 C199.6 1253.7 197.9 1250.9 196.4 1248.7 C195.0 1246.5 192.4 1243.6 192.9 1241.7Z" fill="#E9E9EE" fill-opacity="1"/>
<path d="M199.9 1248.7 C201.1 1247.0 206.3 1245.5 208.7 1243.5 C211.0 1241.4 212.5 1237.3 213.9 1236.5 C215.4 1235.6 216.8 1236.2 217.4 1238.2 C218.0 1240.3 218.0 1246.1 217.4 1248.7 C216.8 1251.3 215.7 1252.8 213.9 1254.0 C212.2 1255.1 209.0 1255.7 206.9 1255.7 C204.9 1255.7 202.8 1255.1 201.7 1254.0 C200.5 1252.8 198.8 1250.5 199.9 1248.7Z" fill="#BEBEBE" fill-opacity="1"/>
<path d="M187.7 1244.3 C187.8 1243.2 190.0 1241.6 191.2 1241.7 C192.4 1241.9 193.7 1244.0 194.7 1245.2 C195.7 1246.4 197.3 1247.9 197.3 1248.7 C197.3 1249.5 195.9 1250.0 194.7 1250.0 C193.5 1250.0 191.5 1249.7 190.3 1248.7 C189.1 1247.8 187.5 1245.5 187.7 1244.3Z" fill="#A8A8A8" fill-opacity="1"/>
<path d="M216.5 1233.0 C216.7 1232.3 219.5 1231.6 220.9 1231.7 C222.4 1231.7 224.3 1232.6 225.3 1233.4 C226.2 1234.2 226.7 1235.7 226.6 1236.5 C226.4 1237.2 225.5 1237.9 224.4 1237.8 C223.3 1237.6 221.3 1236.4 220.0 1235.6 C218.7 1234.8 216.4 1233.6 216.5 1233.0Z" fill="#A2A2A2" fill-opacity="1"/>
<path d="M226.2 1233.8 C226.7 1233.3 229.8 1233.2 231.4 1233.4 C233.0 1233.6 235.6 1234.5 235.8 1235.2 C235.9 1235.8 233.6 1237.1 232.3 1237.3 C231.0 1237.6 228.9 1237.5 227.9 1236.9 C226.9 1236.3 225.6 1234.4 226.2 1233.8Z" fill="#DADADA" fill-opacity="1"/>
<path d="M197.7 1234.3 C197.9 1232.8 199.0 1231.6 199.9 1230.8 C200.9 1230.0 202.1 1229.7 203.4 1229.5 C204.7 1229.3 206.5 1229.4 207.8 1229.7 C209.1 1230.1 210.4 1230.7 211.3 1231.7 C212.1 1232.6 212.9 1234.3 212.9 1235.6 C212.8 1236.9 211.8 1238.6 210.9 1239.5 C209.9 1240.5 208.3 1240.9 206.9 1241.3 C205.5 1241.6 203.9 1241.8 202.6 1241.5 C201.2 1241.2 199.9 1240.7 199.1 1239.5 C198.3 1238.3 197.6 1235.7 197.7 1234.3Z" fill="#D8402E" fill-opacity="1"/>
<path d="M146.6 1233.8 L139.6 1225.1 M146.6 1233.8 L143.1 1225.5 M146.6 1233.8 L144.9 1226.9" stroke="#777" stroke-width="0.6" fill="none"/>
<text x="282.1" y="1239.9" font-size="23.6" textLength="141.9" lengthAdjust="spacingAndGlyphs">Mouse Model</text>
<text x="291.7" y="1266.7" font-size="23.6">TH-<tspan font-style="italic">MYCN</tspan></text>
<text x="21.7" y="1479.2" font-size="24.7" text-anchor="middle" transform="rotate(-90 21.7 1479.2)" textLength="201.7" lengthAdjust="spacingAndGlyphs">Concentraion [uM]</text>
<rect x="89.7" y="1590.8" width="11.8" height="8.2" fill="#F4B4AE" stroke="#000" stroke-width="2.1"/>
<line x1="95.6" y1="1589.7" x2="95.6" y2="1591.8" stroke="#000" stroke-width="1.9"/>
<line x1="91.4" y1="1589.7" x2="99.8" y2="1589.7" stroke="#000" stroke-width="1.9"/>
<line x1="91.4" y1="1591.8" x2="99.8" y2="1591.8" stroke="#000" stroke-width="1.9"/>
<circle cx="93.3" cy="1594.6" r="2.2" fill="#000"/>
<circle cx="93.4" cy="1594.6" r="2.2" fill="#000"/>
<circle cx="99.4" cy="1590.7" r="2.2" fill="#000"/>
<circle cx="98.5" cy="1596.0" r="2.2" fill="#000"/>
<circle cx="94.0" cy="1592.8" r="2.2" fill="#000"/>
<circle cx="99.2" cy="1596.0" r="2.2" fill="#000"/>
<circle cx="95.9" cy="1589.4" r="2.2" fill="#000"/>
<circle cx="97.0" cy="1592.0" r="2.2" fill="#000"/>
<circle cx="93.3" cy="1588.5" r="2.2" fill="#000"/>
<circle cx="99.0" cy="1593.5" r="2.2" fill="#000"/>
<circle cx="97.1" cy="1591.5" r="2.2" fill="#000"/>
<circle cx="99.2" cy="1593.1" r="2.2" fill="#000"/>
<circle cx="98.7" cy="1593.9" r="2.2" fill="#000"/>
<circle cx="94.0" cy="1592.1" r="2.2" fill="#000"/>
<circle cx="94.5" cy="1594.8" r="2.2" fill="#000"/>
<circle cx="93.0" cy="1593.2" r="2.2" fill="#000"/>
<circle cx="92.8" cy="1590.6" r="2.2" fill="#000"/>
<circle cx="92.2" cy="1592.3" r="2.2" fill="#000"/>
<circle cx="94.1" cy="1593.3" r="2.2" fill="#000"/>
<circle cx="96.4" cy="1585.0" r="2.2" fill="#000"/>
<circle cx="91.7" cy="1592.3" r="2.2" fill="#000"/>
<circle cx="97.0" cy="1593.6" r="2.2" fill="#000"/>
<circle cx="94.3" cy="1592.1" r="2.2" fill="#000"/>
<circle cx="94.1" cy="1593.5" r="2.2" fill="#000"/>
<circle cx="98.1" cy="1593.3" r="2.2" fill="#000"/>
<circle cx="95.5" cy="1593.2" r="2.2" fill="#000"/>
<circle cx="94.2" cy="1585.8" r="2.2" fill="#000"/>
<circle cx="95.5" cy="1592.4" r="2.2" fill="#000"/>
<circle cx="96.5" cy="1574.8" r="2.2" fill="#000"/>
<circle cx="93.7" cy="1576.3" r="2.2" fill="#000"/>
<circle cx="97.6" cy="1578.4" r="2.2" fill="#000"/>
<rect x="111.0" y="1584.1" width="11.8" height="14.9" fill="#2F1CEB" stroke="#000" stroke-width="2.1"/>
<line x1="116.9" y1="1582.5" x2="116.9" y2="1585.6" stroke="#000" stroke-width="1.9"/>
<line x1="112.7" y1="1582.5" x2="121.1" y2="1582.5" stroke="#000" stroke-width="1.9"/>
<line x1="112.7" y1="1585.6" x2="121.1" y2="1585.6" stroke="#000" stroke-width="1.9"/>
<circle cx="120.4" cy="1579.3" r="2.2" fill="#000"/>
<circle cx="113.7" cy="1585.2" r="2.2" fill="#000"/>
<circle cx="115.7" cy="1585.6" r="2.2" fill="#000"/>
<circle cx="117.8" cy="1586.5" r="2.2" fill="#000"/>
<circle cx="120.2" cy="1585.2" r="2.2" fill="#000"/>
<circle cx="115.7" cy="1588.7" r="2.2" fill="#000"/>
<circle cx="120.2" cy="1586.4" r="2.2" fill="#000"/>
<circle cx="117.3" cy="1586.2" r="2.2" fill="#000"/>
<circle cx="115.4" cy="1583.9" r="2.2" fill="#000"/>
<circle cx="115.5" cy="1585.4" r="2.2" fill="#000"/>
<circle cx="114.4" cy="1583.8" r="2.2" fill="#000"/>
<circle cx="113.6" cy="1586.6" r="2.2" fill="#000"/>
<circle cx="114.2" cy="1585.7" r="2.2" fill="#000"/>
<circle cx="118.4" cy="1591.7" r="2.2" fill="#000"/>
<circle cx="120.8" cy="1582.9" r="2.2" fill="#000"/>
<circle cx="114.3" cy="1587.0" r="2.2" fill="#000"/>
<circle cx="113.4" cy="1588.2" r="2.2" fill="#000"/>
<circle cx="120.7" cy="1582.4" r="2.2" fill="#000"/>
<circle cx="117.2" cy="1585.7" r="2.2" fill="#000"/>
<circle cx="116.2" cy="1587.5" r="2.2" fill="#000"/>
<circle cx="114.9" cy="1586.1" r="2.2" fill="#000"/>
<circle cx="117.6" cy="1590.7" r="2.2" fill="#000"/>
<circle cx="119.4" cy="1585.4" r="2.2" fill="#000"/>
<circle cx="116.6" cy="1586.7" r="2.2" fill="#000"/>
<circle cx="116.6" cy="1564.5" r="2.2" fill="#000"/>
<circle cx="115.0" cy="1569.1" r="2.2" fill="#000"/>
<circle cx="118.7" cy="1573.2" r="2.2" fill="#000"/>
<rect x="132.3" y="1576.9" width="11.8" height="22.1" fill="#7B78F2" stroke="#000" stroke-width="2.1"/>
<line x1="138.2" y1="1572.7" x2="138.2" y2="1581.0" stroke="#000" stroke-width="1.9"/>
<line x1="134.0" y1="1572.7" x2="142.4" y2="1572.7" stroke="#000" stroke-width="1.9"/>
<line x1="134.0" y1="1581.0" x2="142.4" y2="1581.0" stroke="#000" stroke-width="1.9"/>
<circle cx="141.8" cy="1575.8" r="2.2" fill="#000"/>
<circle cx="139.2" cy="1585.0" r="2.2" fill="#000"/>
<circle cx="138.2" cy="1584.7" r="2.2" fill="#000"/>
<circle cx="136.9" cy="1589.5" r="2.2" fill="#000"/>
<circle cx="135.0" cy="1588.5" r="2.2" fill="#000"/>
<circle cx="136.4" cy="1595.8" r="2.2" fill="#000"/>
<circle cx="140.4" cy="1592.7" r="2.2" fill="#000"/>
<circle cx="141.1" cy="1593.0" r="2.2" fill="#000"/>
<circle cx="137.1" cy="1579.4" r="2.2" fill="#000"/>
<circle cx="140.4" cy="1581.2" r="2.2" fill="#000"/>
<circle cx="140.3" cy="1575.8" r="2.2" fill="#000"/>
<circle cx="139.7" cy="1569.8" r="2.2" fill="#000"/>
<circle cx="139.5" cy="1588.7" r="2.2" fill="#000"/>
<circle cx="140.2" cy="1576.9" r="2.2" fill="#000"/>
<circle cx="137.1" cy="1562.5" r="2.2" fill="#000"/>
<circle cx="139.8" cy="1586.8" r="2.2" fill="#000"/>
<circle cx="136.5" cy="1576.5" r="2.2" fill="#000"/>
<circle cx="138.1" cy="1587.8" r="2.2" fill="#000"/>
<circle cx="140.3" cy="1594.0" r="2.2" fill="#000"/>
<circle cx="139.7" cy="1585.9" r="2.2" fill="#000"/>
<circle cx="136.6" cy="1591.2" r="2.2" fill="#000"/>
<circle cx="141.7" cy="1586.0" r="2.2" fill="#000"/>
<circle cx="139.4" cy="1589.5" r="2.2" fill="#000"/>
<circle cx="138.8" cy="1584.3" r="2.2" fill="#000"/>
<circle cx="134.4" cy="1595.3" r="2.2" fill="#000"/>
<circle cx="138.6" cy="1560.2" r="2.2" fill="#000"/>
<circle cx="137.1" cy="1502.2" r="2.2" fill="#000"/>
<circle cx="138.9" cy="1535.7" r="2.2" fill="#000"/>
<circle cx="138.0" cy="1546.5" r="2.2" fill="#000"/>
<circle cx="139.5" cy="1558.8" r="2.2" fill="#000"/>
<circle cx="138.8" cy="1563.0" r="2.2" fill="#000"/>
<rect x="153.6" y="1577.2" width="11.8" height="21.8" fill="#A2A2FA" stroke="#000" stroke-width="2.1"/>
<line x1="159.5" y1="1571.0" x2="159.5" y2="1583.3" stroke="#000" stroke-width="1.9"/>
<line x1="155.3" y1="1571.0" x2="163.7" y2="1571.0" stroke="#000" stroke-width="1.9"/>
<line x1="155.3" y1="1583.3" x2="163.7" y2="1583.3" stroke="#000" stroke-width="1.9"/>
<circle cx="163.1" cy="1574.8" r="2.2" fill="#000"/>
<circle cx="159.6" cy="1585.2" r="2.2" fill="#000"/>
<circle cx="159.7" cy="1586.0" r="2.2" fill="#000"/>
<circle cx="156.9" cy="1587.6" r="2.2" fill="#000"/>
<circle cx="162.1" cy="1572.8" r="2.2" fill="#000"/>
<circle cx="162.9" cy="1584.7" r="2.2" fill="#000"/>
<circle cx="159.3" cy="1562.7" r="2.2" fill="#000"/>
<circle cx="161.0" cy="1589.6" r="2.2" fill="#000"/>
<circle cx="161.2" cy="1586.1" r="2.2" fill="#000"/>
<circle cx="161.3" cy="1592.8" r="2.2" fill="#000"/>
<circle cx="158.1" cy="1546.0" r="2.2" fill="#000"/>
<circle cx="160.7" cy="1557.8" r="2.2" fill="#000"/>
<rect x="174.9" y="1575.8" width="11.8" height="23.2" fill="#B2B6FA" stroke="#000" stroke-width="2.1"/>
<line x1="180.8" y1="1571.2" x2="180.8" y2="1580.5" stroke="#000" stroke-width="1.9"/>
<line x1="176.6" y1="1571.2" x2="185.0" y2="1571.2" stroke="#000" stroke-width="1.9"/>
<line x1="176.6" y1="1580.5" x2="185.0" y2="1580.5" stroke="#000" stroke-width="1.9"/>
<circle cx="182.0" cy="1585.5" r="2.2" fill="#000"/>
<circle cx="178.6" cy="1582.8" r="2.2" fill="#000"/>
<circle cx="182.2" cy="1585.2" r="2.2" fill="#000"/>
<circle cx="181.8" cy="1573.6" r="2.2" fill="#000"/>
<circle cx="177.2" cy="1577.0" r="2.2" fill="#000"/>
<circle cx="180.6" cy="1586.0" r="2.2" fill="#000"/>
<circle cx="178.7" cy="1578.8" r="2.2" fill="#000"/>
<circle cx="177.3" cy="1580.0" r="2.2" fill="#000"/>
<circle cx="177.9" cy="1574.3" r="2.2" fill="#000"/>
<circle cx="179.4" cy="1571.6" r="2.2" fill="#000"/>
<circle cx="179.4" cy="1552.7" r="2.2" fill="#000"/>
<circle cx="179.5" cy="1562.4" r="2.2" fill="#000"/>
<rect x="196.2" y="1574.0" width="11.8" height="25.0" fill="#C8CCFB" stroke="#000" stroke-width="2.1"/>
<line x1="202.1" y1="1569.9" x2="202.1" y2="1578.1" stroke="#000" stroke-width="1.9"/>
<line x1="197.9" y1="1569.9" x2="206.3" y2="1569.9" stroke="#000" stroke-width="1.9"/>
<line x1="197.9" y1="1578.1" x2="206.3" y2="1578.1" stroke="#000" stroke-width="1.9"/>
<circle cx="198.5" cy="1571.0" r="2.2" fill="#000"/>
<circle cx="203.0" cy="1577.9" r="2.2" fill="#000"/>
<circle cx="198.9" cy="1585.1" r="2.2" fill="#000"/>
<circle cx="202.5" cy="1572.4" r="2.2" fill="#000"/>
<circle cx="200.8" cy="1583.2" r="2.2" fill="#000"/>
<circle cx="202.7" cy="1582.0" r="2.2" fill="#000"/>
<circle cx="205.7" cy="1579.4" r="2.2" fill="#000"/>
<circle cx="204.6" cy="1579.7" r="2.2" fill="#000"/>
<circle cx="201.5" cy="1583.5" r="2.2" fill="#000"/>
<circle cx="204.5" cy="1576.4" r="2.2" fill="#000"/>
<circle cx="203.2" cy="1582.1" r="2.2" fill="#000"/>
<circle cx="201.1" cy="1577.8" r="2.2" fill="#000"/>
<circle cx="199.3" cy="1576.2" r="2.2" fill="#000"/>
<circle cx="202.8" cy="1584.4" r="2.2" fill="#000"/>
<circle cx="202.4" cy="1549.6" r="2.2" fill="#000"/>
<circle cx="204.0" cy="1551.1" r="2.2" fill="#000"/>
<circle cx="204.1" cy="1558.8" r="2.2" fill="#000"/>
<circle cx="202.6" cy="1560.9" r="2.2" fill="#000"/>
<rect x="217.5" y="1591.8" width="11.8" height="7.2" fill="#EDEFFD" stroke="#000" stroke-width="2.1"/>
<line x1="223.4" y1="1590.2" x2="223.4" y2="1593.3" stroke="#000" stroke-width="1.9"/>
<line x1="219.2" y1="1590.2" x2="227.6" y2="1590.2" stroke="#000" stroke-width="1.9"/>
<line x1="219.2" y1="1593.3" x2="227.6" y2="1593.3" stroke="#000" stroke-width="1.9"/>
<circle cx="222.0" cy="1596.9" r="2.2" fill="#000"/>
<circle cx="227.2" cy="1589.1" r="2.2" fill="#000"/>
<circle cx="223.3" cy="1593.8" r="2.2" fill="#000"/>
<circle cx="221.7" cy="1595.0" r="2.2" fill="#000"/>
<circle cx="223.2" cy="1596.9" r="2.2" fill="#000"/>
<circle cx="220.5" cy="1596.0" r="2.2" fill="#000"/>
<circle cx="224.3" cy="1592.5" r="2.2" fill="#000"/>
<circle cx="223.0" cy="1591.8" r="2.2" fill="#000"/>
<circle cx="221.8" cy="1593.0" r="2.2" fill="#000"/>
<circle cx="225.6" cy="1596.1" r="2.2" fill="#000"/>
<circle cx="225.9" cy="1596.1" r="2.2" fill="#000"/>
<circle cx="219.6" cy="1594.3" r="2.2" fill="#000"/>
<circle cx="223.7" cy="1596.2" r="2.2" fill="#000"/>
<circle cx="221.6" cy="1586.4" r="2.2" fill="#000"/>
<circle cx="226.8" cy="1597.5" r="2.2" fill="#000"/>
<circle cx="225.6" cy="1588.9" r="2.2" fill="#000"/>
<circle cx="221.4" cy="1591.6" r="2.2" fill="#000"/>
<circle cx="221.6" cy="1596.2" r="2.2" fill="#000"/>
<circle cx="220.7" cy="1595.3" r="2.2" fill="#000"/>
<circle cx="227.2" cy="1586.4" r="2.2" fill="#000"/>
<circle cx="221.8" cy="1596.7" r="2.2" fill="#000"/>
<circle cx="224.2" cy="1594.9" r="2.2" fill="#000"/>
<circle cx="223.3" cy="1573.2" r="2.2" fill="#000"/>
<circle cx="224.0" cy="1582.5" r="2.2" fill="#000"/>
<circle cx="223.8" cy="1585.6" r="2.2" fill="#000"/>
<rect x="238.8" y="1594.9" width="11.8" height="4.1" fill="#E9ECFB" stroke="#000" stroke-width="2.1"/>
<line x1="244.7" y1="1594.1" x2="244.7" y2="1595.7" stroke="#000" stroke-width="1.9"/>
<line x1="240.5" y1="1594.1" x2="248.9" y2="1594.1" stroke="#000" stroke-width="1.9"/>
<line x1="240.5" y1="1595.7" x2="248.9" y2="1595.7" stroke="#000" stroke-width="1.9"/>
<circle cx="246.3" cy="1595.9" r="2.2" fill="#000"/>
<circle cx="245.7" cy="1596.6" r="2.2" fill="#000"/>
<circle cx="244.6" cy="1595.8" r="2.2" fill="#000"/>
<circle cx="247.9" cy="1597.0" r="2.2" fill="#000"/>
<circle cx="243.8" cy="1597.0" r="2.2" fill="#000"/>
<circle cx="243.9" cy="1596.2" r="2.2" fill="#000"/>
<circle cx="247.4" cy="1596.4" r="2.2" fill="#000"/>
<circle cx="242.3" cy="1593.4" r="2.2" fill="#000"/>
<circle cx="243.1" cy="1597.0" r="2.2" fill="#000"/>
<circle cx="247.3" cy="1595.6" r="2.2" fill="#000"/>
<circle cx="241.3" cy="1596.0" r="2.2" fill="#000"/>
<circle cx="247.3" cy="1597.4" r="2.2" fill="#000"/>
<circle cx="246.2" cy="1594.5" r="2.2" fill="#000"/>
<circle cx="244.2" cy="1595.6" r="2.2" fill="#000"/>
<circle cx="243.0" cy="1597.9" r="2.2" fill="#000"/>
<circle cx="246.9" cy="1594.8" r="2.2" fill="#000"/>
<circle cx="247.9" cy="1594.0" r="2.2" fill="#000"/>
<circle cx="241.9" cy="1596.9" r="2.2" fill="#000"/>
<circle cx="244.5" cy="1591.8" r="2.2" fill="#000"/>
<circle cx="245.1" cy="1595.6" r="2.2" fill="#000"/>
<circle cx="244.7" cy="1597.3" r="2.2" fill="#000"/>
<circle cx="243.4" cy="1594.9" r="2.2" fill="#000"/>
<circle cx="243.2" cy="1582.0" r="2.2" fill="#000"/>
<circle cx="245.1" cy="1587.7" r="2.2" fill="#000"/>
<rect x="260.1" y="1467.2" width="11.8" height="131.8" fill="#F8301A" stroke="#000" stroke-width="2.1"/>
<line x1="266.0" y1="1445.5" x2="266.0" y2="1488.8" stroke="#000" stroke-width="1.9"/>
<line x1="261.8" y1="1445.5" x2="270.2" y2="1445.5" stroke="#000" stroke-width="1.9"/>
<line x1="261.8" y1="1488.8" x2="270.2" y2="1488.8" stroke="#000" stroke-width="1.9"/>
<circle cx="266.6" cy="1517.7" r="2.2" fill="#000"/>
<circle cx="267.9" cy="1535.2" r="2.2" fill="#000"/>
<circle cx="268.9" cy="1514.0" r="2.2" fill="#000"/>
<circle cx="263.2" cy="1439.9" r="2.2" fill="#000"/>
<circle cx="265.5" cy="1507.4" r="2.2" fill="#000"/>
<circle cx="264.6" cy="1561.6" r="2.2" fill="#000"/>
<circle cx="266.8" cy="1439.9" r="2.2" fill="#000"/>
<circle cx="265.9" cy="1513.0" r="2.2" fill="#000"/>
<circle cx="269.4" cy="1439.9" r="2.2" fill="#000"/>
<circle cx="265.0" cy="1539.2" r="2.2" fill="#000"/>
<circle cx="262.5" cy="1526.7" r="2.2" fill="#000"/>
<circle cx="267.5" cy="1533.7" r="2.2" fill="#000"/>
<circle cx="263.3" cy="1507.3" r="2.2" fill="#000"/>
<circle cx="267.0" cy="1542.4" r="2.2" fill="#000"/>
<circle cx="266.0" cy="1563.0" r="2.2" fill="#000"/>
<circle cx="269.2" cy="1570.2" r="2.2" fill="#000"/>
<circle cx="266.4" cy="1527.8" r="2.2" fill="#000"/>
<circle cx="266.9" cy="1540.5" r="2.2" fill="#000"/>
<circle cx="264.2" cy="1542.4" r="2.2" fill="#000"/>
<circle cx="266.4" cy="1439.9" r="2.2" fill="#000"/>
<circle cx="264.1" cy="1485.8" r="2.2" fill="#000"/>
<circle cx="268.0" cy="1467.7" r="2.2" fill="#000"/>
<circle cx="266.1" cy="1540.1" r="2.2" fill="#000"/>
<circle cx="263.1" cy="1510.8" r="2.2" fill="#000"/>
<circle cx="263.9" cy="1530.8" r="2.2" fill="#000"/>
<circle cx="265.0" cy="1530.6" r="2.2" fill="#000"/>
<circle cx="267.8" cy="1488.6" r="2.2" fill="#000"/>
<circle cx="263.5" cy="1496.3" r="2.2" fill="#000"/>
<circle cx="267.7" cy="1510.6" r="2.2" fill="#000"/>
<circle cx="267.2" cy="1517.3" r="2.2" fill="#000"/>
<circle cx="264.2" cy="1379.7" r="2.2" fill="#000"/>
<circle cx="266.7" cy="1414.9" r="2.2" fill="#000"/>
<circle cx="264.3" cy="1415.8" r="2.2" fill="#000"/>
<circle cx="264.4" cy="1416.6" r="2.2" fill="#000"/>
<circle cx="266.4" cy="1417.5" r="2.2" fill="#000"/>
<circle cx="264.9" cy="1418.4" r="2.2" fill="#000"/>
<circle cx="267.6" cy="1442.4" r="2.2" fill="#000"/>
<circle cx="265.9" cy="1452.7" r="2.2" fill="#000"/>
<line x1="81.9" y1="1380.2" x2="81.9" y2="1421.3" stroke="#111" stroke-width="1.4"/>
<line x1="76.4" y1="1421.3" x2="86.9" y2="1421.3" stroke="#111" stroke-width="1.4"/>
<line x1="81.9" y1="1435.0" x2="81.9" y2="1599.7" stroke="#111" stroke-width="1.4"/>
<line x1="76.4" y1="1435.0" x2="86.9" y2="1435.0" stroke="#111" stroke-width="1.4"/>
<line x1="76.5" y1="1599.0" x2="280.5" y2="1599.0" stroke="#111" stroke-width="1.4"/>
<line x1="76.4" y1="1599.0" x2="81.9" y2="1599.0" stroke="#111" stroke-width="1.4"/>
<text x="73.9" y="1605.4" font-size="17.8" text-anchor="end">0</text>
<line x1="76.4" y1="1547.5" x2="81.9" y2="1547.5" stroke="#111" stroke-width="1.4"/>
<text x="73.9" y="1553.9" font-size="17.8" text-anchor="end">500</text>
<line x1="76.4" y1="1496.0" x2="81.9" y2="1496.0" stroke="#111" stroke-width="1.4"/>
<text x="73.9" y="1502.4" font-size="17.8" text-anchor="end">1000</text>
<line x1="76.4" y1="1444.5" x2="81.9" y2="1444.5" stroke="#111" stroke-width="1.4"/>
<text x="73.9" y="1450.9" font-size="17.8" text-anchor="end">1500</text>
<line x1="76.4" y1="1408.9" x2="81.9" y2="1408.9" stroke="#111" stroke-width="1.4"/>
<text x="73.9" y="1415.3" font-size="17.8" text-anchor="end">3000</text>
<line x1="76.4" y1="1383.1" x2="81.9" y2="1383.1" stroke="#111" stroke-width="1.4"/>
<text x="73.9" y="1389.5" font-size="17.8" text-anchor="end">6000</text>
<line x1="95.6" y1="1599.0" x2="95.6" y2="1603.5" stroke="#111" stroke-width="1.4"/>
<text x="100.9" y="1619.7" font-size="18.6" text-anchor="end" transform="rotate(-45 100.9 1619.7)">Serum</text>
<line x1="116.9" y1="1599.0" x2="116.9" y2="1603.5" stroke="#111" stroke-width="1.4"/>
<text x="122.2" y="1619.7" font-size="18.6" text-anchor="end" transform="rotate(-45 122.2 1619.7)">Liver</text>
<line x1="138.2" y1="1599.0" x2="138.2" y2="1603.5" stroke="#111" stroke-width="1.4"/>
<text x="143.5" y="1619.7" font-size="18.6" text-anchor="end" transform="rotate(-45 143.5 1619.7)">Pancreas</text>
<line x1="159.5" y1="1599.0" x2="159.5" y2="1603.5" stroke="#111" stroke-width="1.4"/>
<text x="164.8" y="1619.7" font-size="18.6" text-anchor="end" transform="rotate(-45 164.8 1619.7)">Small Int</text>
<line x1="180.8" y1="1599.0" x2="180.8" y2="1603.5" stroke="#111" stroke-width="1.4"/>
<text x="186.1" y="1619.7" font-size="18.6" text-anchor="end" transform="rotate(-45 186.1 1619.7)">Spleen</text>
<line x1="202.1" y1="1599.0" x2="202.1" y2="1603.5" stroke="#111" stroke-width="1.4"/>
<text x="207.4" y="1619.7" font-size="18.6" text-anchor="end" transform="rotate(-45 207.4 1619.7)">Muscle</text>
<line x1="223.4" y1="1599.0" x2="223.4" y2="1603.5" stroke="#111" stroke-width="1.4"/>
<text x="228.7" y="1619.7" font-size="18.6" text-anchor="end" transform="rotate(-45 228.7 1619.7)">Kidney</text>
<line x1="244.7" y1="1599.0" x2="244.7" y2="1603.5" stroke="#111" stroke-width="1.4"/>
<text x="250.0" y="1619.7" font-size="18.6" text-anchor="end" transform="rotate(-45 250.0 1619.7)">Brain</text>
<line x1="266.0" y1="1599.0" x2="266.0" y2="1603.5" stroke="#111" stroke-width="1.4"/>
<text x="271.3" y="1619.7" font-size="18.6" text-anchor="end" transform="rotate(-45 271.3 1619.7)">Tumor</text>
<text x="181.7" y="1346.8" font-size="25.4" text-anchor="middle">Proline</text>
<text x="181.7" y="1705.0" font-size="25" text-anchor="middle">Organ</text>
<rect x="374.4" y="1577.3" width="11.8" height="21.7" fill="#F4B4AE" stroke="#000" stroke-width="2.1"/>
<line x1="380.3" y1="1574.7" x2="380.3" y2="1580.0" stroke="#000" stroke-width="1.9"/>
<line x1="376.1" y1="1574.7" x2="384.5" y2="1574.7" stroke="#000" stroke-width="1.9"/>
<line x1="376.1" y1="1580.0" x2="384.5" y2="1580.0" stroke="#000" stroke-width="1.9"/>
<circle cx="382.7" cy="1582.0" r="2.2" fill="#000"/>
<circle cx="379.9" cy="1591.9" r="2.2" fill="#000"/>
<circle cx="377.1" cy="1588.5" r="2.2" fill="#000"/>
<circle cx="377.9" cy="1584.5" r="2.2" fill="#000"/>
<circle cx="381.4" cy="1574.4" r="2.2" fill="#000"/>
<circle cx="378.7" cy="1584.9" r="2.2" fill="#000"/>
<circle cx="383.8" cy="1591.5" r="2.2" fill="#000"/>
<circle cx="381.0" cy="1583.1" r="2.2" fill="#000"/>
<circle cx="378.0" cy="1590.1" r="2.2" fill="#000"/>
<circle cx="381.5" cy="1576.6" r="2.2" fill="#000"/>
<circle cx="379.2" cy="1586.2" r="2.2" fill="#000"/>
<circle cx="383.7" cy="1571.3" r="2.2" fill="#000"/>
<circle cx="383.5" cy="1585.6" r="2.2" fill="#000"/>
<circle cx="380.4" cy="1589.5" r="2.2" fill="#000"/>
<circle cx="381.4" cy="1590.9" r="2.2" fill="#000"/>
<circle cx="381.8" cy="1586.7" r="2.2" fill="#000"/>
<circle cx="382.7" cy="1582.3" r="2.2" fill="#000"/>
<circle cx="384.0" cy="1576.9" r="2.2" fill="#000"/>
<circle cx="376.6" cy="1583.4" r="2.2" fill="#000"/>
<circle cx="379.2" cy="1588.4" r="2.2" fill="#000"/>
<circle cx="381.1" cy="1582.0" r="2.2" fill="#000"/>
<circle cx="378.8" cy="1590.8" r="2.2" fill="#000"/>
<circle cx="381.0" cy="1582.0" r="2.2" fill="#000"/>
<circle cx="377.1" cy="1588.4" r="2.2" fill="#000"/>
<circle cx="383.3" cy="1574.2" r="2.2" fill="#000"/>
<circle cx="380.5" cy="1578.5" r="2.2" fill="#000"/>
<circle cx="378.7" cy="1515.0" r="2.2" fill="#000"/>
<circle cx="381.0" cy="1535.3" r="2.2" fill="#000"/>
<circle cx="379.5" cy="1541.2" r="2.2" fill="#000"/>
<circle cx="379.0" cy="1543.8" r="2.2" fill="#000"/>
<rect x="395.7" y="1549.1" width="11.8" height="49.9" fill="#2F1CEB" stroke="#000" stroke-width="2.1"/>
<line x1="401.6" y1="1539.2" x2="401.6" y2="1558.9" stroke="#000" stroke-width="1.9"/>
<line x1="397.4" y1="1539.2" x2="405.8" y2="1539.2" stroke="#000" stroke-width="1.9"/>
<line x1="397.4" y1="1558.9" x2="405.8" y2="1558.9" stroke="#000" stroke-width="1.9"/>
<circle cx="400.6" cy="1575.2" r="2.2" fill="#000"/>
<circle cx="400.7" cy="1568.4" r="2.2" fill="#000"/>
<circle cx="398.7" cy="1562.0" r="2.2" fill="#000"/>
<circle cx="405.5" cy="1531.0" r="2.2" fill="#000"/>
<circle cx="398.1" cy="1569.7" r="2.2" fill="#000"/>
<circle cx="401.0" cy="1570.9" r="2.2" fill="#000"/>
<circle cx="403.5" cy="1568.7" r="2.2" fill="#000"/>
<circle cx="400.8" cy="1571.3" r="2.2" fill="#000"/>
<circle cx="405.3" cy="1580.0" r="2.2" fill="#000"/>
<circle cx="399.6" cy="1532.7" r="2.2" fill="#000"/>
<circle cx="405.3" cy="1576.0" r="2.2" fill="#000"/>
<circle cx="404.7" cy="1575.7" r="2.2" fill="#000"/>
<circle cx="402.3" cy="1474.2" r="2.2" fill="#000"/>
<circle cx="403.3" cy="1488.7" r="2.2" fill="#000"/>
<circle cx="401.4" cy="1509.0" r="2.2" fill="#000"/>
<circle cx="403.0" cy="1532.0" r="2.2" fill="#000"/>
<rect x="417.0" y="1567.2" width="11.8" height="31.8" fill="#7B78F2" stroke="#000" stroke-width="2.1"/>
<line x1="422.9" y1="1559.3" x2="422.9" y2="1575.0" stroke="#000" stroke-width="1.9"/>
<line x1="418.7" y1="1559.3" x2="427.1" y2="1559.3" stroke="#000" stroke-width="1.9"/>
<line x1="418.7" y1="1575.0" x2="427.1" y2="1575.0" stroke="#000" stroke-width="1.9"/>
<circle cx="421.1" cy="1575.3" r="2.2" fill="#000"/>
<circle cx="422.7" cy="1588.9" r="2.2" fill="#000"/>
<circle cx="422.7" cy="1590.9" r="2.2" fill="#000"/>
<circle cx="420.1" cy="1576.1" r="2.2" fill="#000"/>
<circle cx="421.9" cy="1583.1" r="2.2" fill="#000"/>
<circle cx="421.4" cy="1576.8" r="2.2" fill="#000"/>
<circle cx="425.3" cy="1579.7" r="2.2" fill="#000"/>
<circle cx="421.5" cy="1586.6" r="2.2" fill="#000"/>
<circle cx="424.1" cy="1591.8" r="2.2" fill="#000"/>
<circle cx="426.6" cy="1578.0" r="2.2" fill="#000"/>
<circle cx="426.2" cy="1578.4" r="2.2" fill="#000"/>
<circle cx="421.9" cy="1577.4" r="2.2" fill="#000"/>
<circle cx="423.7" cy="1565.5" r="2.2" fill="#000"/>
<circle cx="421.5" cy="1565.9" r="2.2" fill="#000"/>
<circle cx="422.1" cy="1584.3" r="2.2" fill="#000"/>
<circle cx="422.8" cy="1571.8" r="2.2" fill="#000"/>
<circle cx="425.2" cy="1593.4" r="2.2" fill="#000"/>
<circle cx="426.3" cy="1570.2" r="2.2" fill="#000"/>
<circle cx="421.3" cy="1579.9" r="2.2" fill="#000"/>
<circle cx="419.1" cy="1564.0" r="2.2" fill="#000"/>
<circle cx="422.5" cy="1564.6" r="2.2" fill="#000"/>
<circle cx="419.5" cy="1587.7" r="2.2" fill="#000"/>
<circle cx="420.9" cy="1418.1" r="2.2" fill="#000"/>
<circle cx="424.1" cy="1494.6" r="2.2" fill="#000"/>
<circle cx="421.3" cy="1545.2" r="2.2" fill="#000"/>
<rect x="438.3" y="1591.4" width="11.8" height="7.6" fill="#A2A2FA" stroke="#000" stroke-width="2.1"/>
<line x1="444.2" y1="1588.8" x2="444.2" y2="1594.1" stroke="#000" stroke-width="1.9"/>
<line x1="440.0" y1="1588.8" x2="448.4" y2="1588.8" stroke="#000" stroke-width="1.9"/>
<line x1="440.0" y1="1594.1" x2="448.4" y2="1594.1" stroke="#000" stroke-width="1.9"/>
<circle cx="443.6" cy="1594.7" r="2.2" fill="#000"/>
<circle cx="446.4" cy="1596.1" r="2.2" fill="#000"/>
<circle cx="446.6" cy="1587.0" r="2.2" fill="#000"/>
<circle cx="444.1" cy="1595.8" r="2.2" fill="#000"/>
<circle cx="444.0" cy="1592.6" r="2.2" fill="#000"/>
<circle cx="441.1" cy="1593.6" r="2.2" fill="#000"/>
<circle cx="443.1" cy="1589.7" r="2.2" fill="#000"/>
<circle cx="441.4" cy="1595.3" r="2.2" fill="#000"/>
<circle cx="444.7" cy="1583.2" r="2.2" fill="#000"/>
<circle cx="444.7" cy="1586.5" r="2.2" fill="#000"/>
<rect x="459.6" y="1573.7" width="11.8" height="25.3" fill="#B2B6FA" stroke="#000" stroke-width="2.1"/>
<line x1="465.5" y1="1567.2" x2="465.5" y2="1580.3" stroke="#000" stroke-width="1.9"/>
<line x1="461.3" y1="1567.2" x2="469.7" y2="1567.2" stroke="#000" stroke-width="1.9"/>
<line x1="461.3" y1="1580.3" x2="469.7" y2="1580.3" stroke="#000" stroke-width="1.9"/>
<circle cx="467.1" cy="1575.1" r="2.2" fill="#000"/>
<circle cx="462.6" cy="1572.6" r="2.2" fill="#000"/>
<circle cx="468.1" cy="1579.4" r="2.2" fill="#000"/>
<circle cx="462.3" cy="1580.3" r="2.2" fill="#000"/>
<circle cx="466.4" cy="1586.4" r="2.2" fill="#000"/>
<circle cx="468.7" cy="1587.4" r="2.2" fill="#000"/>
<circle cx="468.7" cy="1572.2" r="2.2" fill="#000"/>
<circle cx="468.6" cy="1587.1" r="2.2" fill="#000"/>
<circle cx="465.3" cy="1539.9" r="2.2" fill="#000"/>
<circle cx="466.3" cy="1557.0" r="2.2" fill="#000"/>
<rect x="480.9" y="1564.5" width="11.8" height="34.5" fill="#C8CCFB" stroke="#000" stroke-width="2.1"/>
<line x1="486.8" y1="1556.0" x2="486.8" y2="1573.1" stroke="#000" stroke-width="1.9"/>
<line x1="482.6" y1="1556.0" x2="491.0" y2="1556.0" stroke="#000" stroke-width="1.9"/>
<line x1="482.6" y1="1573.1" x2="491.0" y2="1573.1" stroke="#000" stroke-width="1.9"/>
<circle cx="483.6" cy="1576.5" r="2.2" fill="#000"/>
<circle cx="489.6" cy="1583.1" r="2.2" fill="#000"/>
<circle cx="485.1" cy="1538.7" r="2.2" fill="#000"/>
<circle cx="490.4" cy="1585.0" r="2.2" fill="#000"/>
<circle cx="486.3" cy="1590.0" r="2.2" fill="#000"/>
<circle cx="490.1" cy="1569.9" r="2.2" fill="#000"/>
<circle cx="483.2" cy="1584.9" r="2.2" fill="#000"/>
<circle cx="483.6" cy="1575.0" r="2.2" fill="#000"/>
<circle cx="489.3" cy="1579.0" r="2.2" fill="#000"/>
<circle cx="487.9" cy="1581.6" r="2.2" fill="#000"/>
<circle cx="487.1" cy="1566.2" r="2.2" fill="#000"/>
<circle cx="483.2" cy="1593.7" r="2.2" fill="#000"/>
<circle cx="484.3" cy="1583.2" r="2.2" fill="#000"/>
<circle cx="485.8" cy="1538.7" r="2.2" fill="#000"/>
<circle cx="484.9" cy="1490.0" r="2.2" fill="#000"/>
<circle cx="488.9" cy="1526.8" r="2.2" fill="#000"/>
<circle cx="487.9" cy="1545.2" r="2.2" fill="#000"/>
<rect x="502.2" y="1583.2" width="11.8" height="15.8" fill="#EDEFFD" stroke="#000" stroke-width="2.1"/>
<line x1="508.1" y1="1577.3" x2="508.1" y2="1589.2" stroke="#000" stroke-width="1.9"/>
<line x1="503.9" y1="1577.3" x2="512.3" y2="1577.3" stroke="#000" stroke-width="1.9"/>
<line x1="503.9" y1="1589.2" x2="512.3" y2="1589.2" stroke="#000" stroke-width="1.9"/>
<circle cx="504.4" cy="1580.1" r="2.2" fill="#000"/>
<circle cx="508.3" cy="1592.8" r="2.2" fill="#000"/>
<circle cx="505.4" cy="1591.8" r="2.2" fill="#000"/>
<circle cx="506.4" cy="1589.1" r="2.2" fill="#000"/>
<circle cx="505.4" cy="1591.1" r="2.2" fill="#000"/>
<circle cx="508.6" cy="1592.8" r="2.2" fill="#000"/>
<circle cx="507.2" cy="1594.6" r="2.2" fill="#000"/>
<circle cx="505.9" cy="1592.2" r="2.2" fill="#000"/>
<circle cx="505.9" cy="1592.5" r="2.2" fill="#000"/>
<circle cx="508.6" cy="1590.8" r="2.2" fill="#000"/>
<circle cx="511.3" cy="1583.9" r="2.2" fill="#000"/>
<circle cx="507.5" cy="1587.9" r="2.2" fill="#000"/>
<circle cx="506.7" cy="1524.1" r="2.2" fill="#000"/>
<circle cx="507.3" cy="1561.6" r="2.2" fill="#000"/>
<rect x="523.5" y="1476.2" width="11.8" height="122.8" fill="#E9ECFB" stroke="#000" stroke-width="2.1"/>
<line x1="529.4" y1="1457.8" x2="529.4" y2="1494.6" stroke="#000" stroke-width="1.9"/>
<line x1="525.2" y1="1457.8" x2="533.6" y2="1457.8" stroke="#000" stroke-width="1.9"/>
<line x1="525.2" y1="1494.6" x2="533.6" y2="1494.6" stroke="#000" stroke-width="1.9"/>
<circle cx="526.4" cy="1507.3" r="2.2" fill="#000"/>
<circle cx="531.0" cy="1448.8" r="2.2" fill="#000"/>
<circle cx="526.3" cy="1499.0" r="2.2" fill="#000"/>
<circle cx="528.4" cy="1545.7" r="2.2" fill="#000"/>
<circle cx="525.8" cy="1497.3" r="2.2" fill="#000"/>
<circle cx="529.7" cy="1475.3" r="2.2" fill="#000"/>
<circle cx="531.6" cy="1534.5" r="2.2" fill="#000"/>
<circle cx="527.3" cy="1479.6" r="2.2" fill="#000"/>
<circle cx="529.9" cy="1570.0" r="2.2" fill="#000"/>
<circle cx="532.7" cy="1439.9" r="2.2" fill="#000"/>
<circle cx="527.8" cy="1548.5" r="2.2" fill="#000"/>
<circle cx="529.2" cy="1525.4" r="2.2" fill="#000"/>
<circle cx="531.1" cy="1520.4" r="2.2" fill="#000"/>
<circle cx="532.2" cy="1548.7" r="2.2" fill="#000"/>
<circle cx="526.8" cy="1497.6" r="2.2" fill="#000"/>
<circle cx="530.7" cy="1537.5" r="2.2" fill="#000"/>
<circle cx="526.4" cy="1547.4" r="2.2" fill="#000"/>
<circle cx="526.4" cy="1564.3" r="2.2" fill="#000"/>
<circle cx="533.2" cy="1480.2" r="2.2" fill="#000"/>
<circle cx="525.9" cy="1454.7" r="2.2" fill="#000"/>
<circle cx="532.7" cy="1519.3" r="2.2" fill="#000"/>
<circle cx="531.3" cy="1501.4" r="2.2" fill="#000"/>
<circle cx="530.8" cy="1439.9" r="2.2" fill="#000"/>
<circle cx="531.2" cy="1493.9" r="2.2" fill="#000"/>
<circle cx="530.0" cy="1380.8" r="2.2" fill="#000"/>
<circle cx="528.5" cy="1391.0" r="2.2" fill="#000"/>
<circle cx="529.2" cy="1418.7" r="2.2" fill="#000"/>
<circle cx="528.1" cy="1419.3" r="2.2" fill="#000"/>
<circle cx="530.9" cy="1438.1" r="2.2" fill="#000"/>
<circle cx="530.6" cy="1461.1" r="2.2" fill="#000"/>
<rect x="544.8" y="1560.6" width="11.8" height="38.4" fill="#F8301A" stroke="#000" stroke-width="2.1"/>
<line x1="550.7" y1="1552.7" x2="550.7" y2="1568.5" stroke="#000" stroke-width="1.9"/>
<line x1="546.5" y1="1552.7" x2="554.9" y2="1552.7" stroke="#000" stroke-width="1.9"/>
<line x1="546.5" y1="1568.5" x2="554.9" y2="1568.5" stroke="#000" stroke-width="1.9"/>
<circle cx="547.8" cy="1577.0" r="2.2" fill="#000"/>
<circle cx="550.1" cy="1585.3" r="2.2" fill="#000"/>
<circle cx="548.2" cy="1585.1" r="2.2" fill="#000"/>
<circle cx="554.4" cy="1583.2" r="2.2" fill="#000"/>
<circle cx="549.8" cy="1573.6" r="2.2" fill="#000"/>
<circle cx="551.4" cy="1590.9" r="2.2" fill="#000"/>
<circle cx="551.2" cy="1549.9" r="2.2" fill="#000"/>
<circle cx="551.7" cy="1579.5" r="2.2" fill="#000"/>
<circle cx="550.5" cy="1585.5" r="2.2" fill="#000"/>
<circle cx="548.9" cy="1590.9" r="2.2" fill="#000"/>
<circle cx="547.9" cy="1561.0" r="2.2" fill="#000"/>
<circle cx="553.7" cy="1568.3" r="2.2" fill="#000"/>
<circle cx="548.3" cy="1564.8" r="2.2" fill="#000"/>
<circle cx="550.3" cy="1576.6" r="2.2" fill="#000"/>
<circle cx="553.1" cy="1542.8" r="2.2" fill="#000"/>
<circle cx="551.3" cy="1548.0" r="2.2" fill="#000"/>
<circle cx="554.2" cy="1531.8" r="2.2" fill="#000"/>
<circle cx="553.1" cy="1573.9" r="2.2" fill="#000"/>
<circle cx="550.8" cy="1563.2" r="2.2" fill="#000"/>
<circle cx="547.7" cy="1582.5" r="2.2" fill="#000"/>
<circle cx="551.4" cy="1577.0" r="2.2" fill="#000"/>
<circle cx="550.5" cy="1581.9" r="2.2" fill="#000"/>
<circle cx="553.5" cy="1577.9" r="2.2" fill="#000"/>
<circle cx="550.9" cy="1577.7" r="2.2" fill="#000"/>
<circle cx="552.2" cy="1578.2" r="2.2" fill="#000"/>
<circle cx="553.1" cy="1578.6" r="2.2" fill="#000"/>
<circle cx="550.5" cy="1576.5" r="2.2" fill="#000"/>
<circle cx="553.4" cy="1582.8" r="2.2" fill="#000"/>
<circle cx="553.8" cy="1585.3" r="2.2" fill="#000"/>
<circle cx="548.0" cy="1583.3" r="2.2" fill="#000"/>
<circle cx="552.5" cy="1411.4" r="2.2" fill="#000"/>
<circle cx="552.3" cy="1474.9" r="2.2" fill="#000"/>
<circle cx="552.2" cy="1482.8" r="2.2" fill="#000"/>
<circle cx="550.0" cy="1524.1" r="2.2" fill="#000"/>
<line x1="366.6" y1="1380.2" x2="366.6" y2="1421.3" stroke="#111" stroke-width="1.4"/>
<line x1="361.1" y1="1421.3" x2="371.6" y2="1421.3" stroke="#111" stroke-width="1.4"/>
<line x1="366.6" y1="1435.0" x2="366.6" y2="1599.7" stroke="#111" stroke-width="1.4"/>
<line x1="361.1" y1="1435.0" x2="371.6" y2="1435.0" stroke="#111" stroke-width="1.4"/>
<line x1="361.0" y1="1599.0" x2="565.8" y2="1599.0" stroke="#111" stroke-width="1.4"/>
<line x1="361.1" y1="1599.0" x2="366.6" y2="1599.0" stroke="#111" stroke-width="1.4"/>
<text x="358.6" y="1605.4" font-size="17.8" text-anchor="end">0</text>
<line x1="361.1" y1="1566.2" x2="366.6" y2="1566.2" stroke="#111" stroke-width="1.4"/>
<text x="358.6" y="1572.6" font-size="17.8" text-anchor="end">500</text>
<line x1="361.1" y1="1533.3" x2="366.6" y2="1533.3" stroke="#111" stroke-width="1.4"/>
<text x="358.6" y="1539.7" font-size="17.8" text-anchor="end">1000</text>
<line x1="361.1" y1="1500.5" x2="366.6" y2="1500.5" stroke="#111" stroke-width="1.4"/>
<text x="358.6" y="1506.9" font-size="17.8" text-anchor="end">1500</text>
<line x1="361.1" y1="1467.7" x2="366.6" y2="1467.7" stroke="#111" stroke-width="1.4"/>
<text x="358.6" y="1474.1" font-size="17.8" text-anchor="end">2000</text>
<line x1="361.1" y1="1434.8" x2="366.6" y2="1434.8" stroke="#111" stroke-width="1.4"/>
<text x="358.6" y="1441.2" font-size="17.8" text-anchor="end">2500</text>
<line x1="361.1" y1="1405.7" x2="366.6" y2="1405.7" stroke="#111" stroke-width="1.4"/>
<text x="358.6" y="1412.1" font-size="17.8" text-anchor="end">4000</text>
<line x1="361.1" y1="1383.1" x2="366.6" y2="1383.1" stroke="#111" stroke-width="1.4"/>
<text x="358.6" y="1389.5" font-size="17.8" text-anchor="end">6000</text>
<line x1="380.3" y1="1599.0" x2="380.3" y2="1603.5" stroke="#111" stroke-width="1.4"/>
<text x="385.6" y="1619.7" font-size="18.6" text-anchor="end" transform="rotate(-45 385.6 1619.7)">Serum</text>
<line x1="401.6" y1="1599.0" x2="401.6" y2="1603.5" stroke="#111" stroke-width="1.4"/>
<text x="406.9" y="1619.7" font-size="18.6" text-anchor="end" transform="rotate(-45 406.9 1619.7)">Liver</text>
<line x1="422.9" y1="1599.0" x2="422.9" y2="1603.5" stroke="#111" stroke-width="1.4"/>
<text x="428.2" y="1619.7" font-size="18.6" text-anchor="end" transform="rotate(-45 428.2 1619.7)">Pancreas</text>
<line x1="444.2" y1="1599.0" x2="444.2" y2="1603.5" stroke="#111" stroke-width="1.4"/>
<text x="449.5" y="1619.7" font-size="18.6" text-anchor="end" transform="rotate(-45 449.5 1619.7)">Small Int</text>
<line x1="465.5" y1="1599.0" x2="465.5" y2="1603.5" stroke="#111" stroke-width="1.4"/>
<text x="470.8" y="1619.7" font-size="18.6" text-anchor="end" transform="rotate(-45 470.8 1619.7)">Spleen</text>
<line x1="486.8" y1="1599.0" x2="486.8" y2="1603.5" stroke="#111" stroke-width="1.4"/>
<text x="492.1" y="1619.7" font-size="18.6" text-anchor="end" transform="rotate(-45 492.1 1619.7)">Muscle</text>
<line x1="508.1" y1="1599.0" x2="508.1" y2="1603.5" stroke="#111" stroke-width="1.4"/>
<text x="513.4" y="1619.7" font-size="18.6" text-anchor="end" transform="rotate(-45 513.4 1619.7)">Kidney</text>
<line x1="529.4" y1="1599.0" x2="529.4" y2="1603.5" stroke="#111" stroke-width="1.4"/>
<text x="534.7" y="1619.7" font-size="18.6" text-anchor="end" transform="rotate(-45 534.7 1619.7)">Brain</text>
<line x1="550.7" y1="1599.0" x2="550.7" y2="1603.5" stroke="#111" stroke-width="1.4"/>
<text x="556.0" y="1619.7" font-size="18.6" text-anchor="end" transform="rotate(-45 556.0 1619.7)">Tumor</text>
<text x="466.4" y="1346.8" font-size="25.4" text-anchor="middle">Glutamine</text>
<text x="466.4" y="1705.0" font-size="25" text-anchor="middle">Organ</text>
<rect x="643.7" y="1564.9" width="11.8" height="34.1" fill="#F4B4AE" stroke="#000" stroke-width="2.1"/>
<line x1="649.6" y1="1554.6" x2="649.6" y2="1575.2" stroke="#000" stroke-width="1.9"/>
<line x1="645.4" y1="1554.6" x2="653.8" y2="1554.6" stroke="#000" stroke-width="1.9"/>
<line x1="645.4" y1="1575.2" x2="653.8" y2="1575.2" stroke="#000" stroke-width="1.9"/>
<circle cx="647.1" cy="1581.9" r="2.2" fill="#000"/>
<circle cx="650.2" cy="1572.5" r="2.2" fill="#000"/>
<circle cx="650.7" cy="1581.6" r="2.2" fill="#000"/>
<circle cx="648.6" cy="1582.5" r="2.2" fill="#000"/>
<circle cx="650.0" cy="1587.4" r="2.2" fill="#000"/>
<circle cx="646.2" cy="1581.5" r="2.2" fill="#000"/>
<circle cx="646.2" cy="1561.7" r="2.2" fill="#000"/>
<circle cx="647.3" cy="1573.8" r="2.2" fill="#000"/>
<circle cx="651.0" cy="1563.3" r="2.2" fill="#000"/>
<circle cx="649.0" cy="1576.2" r="2.2" fill="#000"/>
<circle cx="648.2" cy="1574.2" r="2.2" fill="#000"/>
<circle cx="650.3" cy="1577.0" r="2.2" fill="#000"/>
<circle cx="649.2" cy="1591.4" r="2.2" fill="#000"/>
<circle cx="648.0" cy="1566.8" r="2.2" fill="#000"/>
<circle cx="651.9" cy="1572.6" r="2.2" fill="#000"/>
<circle cx="651.1" cy="1572.7" r="2.2" fill="#000"/>
<circle cx="647.6" cy="1591.5" r="2.2" fill="#000"/>
<circle cx="650.2" cy="1591.7" r="2.2" fill="#000"/>
<circle cx="649.8" cy="1587.1" r="2.2" fill="#000"/>
<circle cx="652.5" cy="1583.9" r="2.2" fill="#000"/>
<circle cx="651.4" cy="1575.5" r="2.2" fill="#000"/>
<circle cx="647.9" cy="1579.7" r="2.2" fill="#000"/>
<circle cx="653.3" cy="1572.4" r="2.2" fill="#000"/>
<circle cx="646.6" cy="1585.3" r="2.2" fill="#000"/>
<circle cx="649.0" cy="1575.4" r="2.2" fill="#000"/>
<circle cx="651.6" cy="1574.2" r="2.2" fill="#000"/>
<circle cx="646.9" cy="1585.4" r="2.2" fill="#000"/>
<circle cx="649.5" cy="1546.3" r="2.2" fill="#000"/>
<circle cx="647.6" cy="1413.9" r="2.2" fill="#000"/>
<circle cx="650.3" cy="1473.6" r="2.2" fill="#000"/>
<circle cx="650.7" cy="1520.1" r="2.2" fill="#000"/>
<rect x="665.0" y="1596.9" width="11.8" height="2.1" fill="#2F1CEB" stroke="#000" stroke-width="2.1"/>
<line x1="670.9" y1="1596.1" x2="670.9" y2="1597.8" stroke="#000" stroke-width="1.9"/>
<line x1="666.7" y1="1596.1" x2="675.1" y2="1596.1" stroke="#000" stroke-width="1.9"/>
<line x1="666.7" y1="1597.8" x2="675.1" y2="1597.8" stroke="#000" stroke-width="1.9"/>
<circle cx="674.7" cy="1598.2" r="2.2" fill="#000"/>
<circle cx="673.4" cy="1597.6" r="2.2" fill="#000"/>
<circle cx="669.2" cy="1597.4" r="2.2" fill="#000"/>
<circle cx="670.0" cy="1595.4" r="2.2" fill="#000"/>
<circle cx="672.2" cy="1597.8" r="2.2" fill="#000"/>
<circle cx="667.2" cy="1597.5" r="2.2" fill="#000"/>
<circle cx="670.6" cy="1598.2" r="2.2" fill="#000"/>
<circle cx="668.3" cy="1595.9" r="2.2" fill="#000"/>
<circle cx="667.9" cy="1595.4" r="2.2" fill="#000"/>
<circle cx="667.5" cy="1597.1" r="2.2" fill="#000"/>
<circle cx="673.0" cy="1596.9" r="2.2" fill="#000"/>
<circle cx="668.0" cy="1597.1" r="2.2" fill="#000"/>
<circle cx="668.9" cy="1597.2" r="2.2" fill="#000"/>
<circle cx="670.1" cy="1597.9" r="2.2" fill="#000"/>
<rect x="686.3" y="1579.3" width="11.8" height="19.7" fill="#7B78F2" stroke="#000" stroke-width="2.1"/>
<line x1="692.2" y1="1574.3" x2="692.2" y2="1584.2" stroke="#000" stroke-width="1.9"/>
<line x1="688.0" y1="1574.3" x2="696.4" y2="1574.3" stroke="#000" stroke-width="1.9"/>
<line x1="688.0" y1="1584.2" x2="696.4" y2="1584.2" stroke="#000" stroke-width="1.9"/>
<circle cx="693.7" cy="1582.8" r="2.2" fill="#000"/>
<circle cx="692.3" cy="1587.4" r="2.2" fill="#000"/>
<circle cx="693.1" cy="1592.1" r="2.2" fill="#000"/>
<circle cx="693.6" cy="1581.8" r="2.2" fill="#000"/>
<circle cx="688.7" cy="1568.9" r="2.2" fill="#000"/>
<circle cx="695.3" cy="1592.2" r="2.2" fill="#000"/>
<circle cx="694.4" cy="1580.4" r="2.2" fill="#000"/>
<circle cx="695.1" cy="1589.3" r="2.2" fill="#000"/>
<circle cx="694.5" cy="1590.3" r="2.2" fill="#000"/>
<circle cx="691.4" cy="1580.9" r="2.2" fill="#000"/>
<circle cx="691.4" cy="1564.5" r="2.2" fill="#000"/>
<circle cx="689.1" cy="1593.7" r="2.2" fill="#000"/>
<circle cx="693.2" cy="1582.1" r="2.2" fill="#000"/>
<circle cx="688.8" cy="1580.6" r="2.2" fill="#000"/>
<circle cx="688.8" cy="1584.6" r="2.2" fill="#000"/>
<circle cx="689.9" cy="1578.2" r="2.2" fill="#000"/>
<circle cx="689.6" cy="1592.6" r="2.2" fill="#000"/>
<circle cx="691.0" cy="1584.2" r="2.2" fill="#000"/>
<circle cx="688.7" cy="1585.3" r="2.2" fill="#000"/>
<circle cx="688.3" cy="1584.5" r="2.2" fill="#000"/>
<circle cx="689.5" cy="1590.5" r="2.2" fill="#000"/>
<circle cx="689.1" cy="1581.0" r="2.2" fill="#000"/>
<circle cx="691.1" cy="1595.2" r="2.2" fill="#000"/>
<circle cx="688.5" cy="1591.2" r="2.2" fill="#000"/>
<circle cx="693.8" cy="1487.2" r="2.2" fill="#000"/>
<circle cx="692.7" cy="1545.2" r="2.2" fill="#000"/>
<rect x="707.6" y="1571.5" width="11.8" height="27.5" fill="#A2A2FA" stroke="#000" stroke-width="2.1"/>
<line x1="713.5" y1="1562.4" x2="713.5" y2="1580.5" stroke="#000" stroke-width="1.9"/>
<line x1="709.3" y1="1562.4" x2="717.7" y2="1562.4" stroke="#000" stroke-width="1.9"/>
<line x1="709.3" y1="1580.5" x2="717.7" y2="1580.5" stroke="#000" stroke-width="1.9"/>
<circle cx="710.4" cy="1580.6" r="2.2" fill="#000"/>
<circle cx="712.3" cy="1578.9" r="2.2" fill="#000"/>
<circle cx="711.7" cy="1588.6" r="2.2" fill="#000"/>
<circle cx="716.1" cy="1576.9" r="2.2" fill="#000"/>
<circle cx="710.9" cy="1567.6" r="2.2" fill="#000"/>
<circle cx="709.8" cy="1568.3" r="2.2" fill="#000"/>
<circle cx="717.0" cy="1572.2" r="2.2" fill="#000"/>
<circle cx="713.7" cy="1585.2" r="2.2" fill="#000"/>
<circle cx="710.7" cy="1587.9" r="2.2" fill="#000"/>
<circle cx="713.8" cy="1584.5" r="2.2" fill="#000"/>
<circle cx="711.5" cy="1526.7" r="2.2" fill="#000"/>
<circle cx="713.6" cy="1540.2" r="2.2" fill="#000"/>
<rect x="728.9" y="1560.4" width="11.8" height="38.6" fill="#B2B6FA" stroke="#000" stroke-width="2.1"/>
<line x1="734.8" y1="1549.3" x2="734.8" y2="1571.5" stroke="#000" stroke-width="1.9"/>
<line x1="730.6" y1="1549.3" x2="739.0" y2="1549.3" stroke="#000" stroke-width="1.9"/>
<line x1="730.6" y1="1571.5" x2="739.0" y2="1571.5" stroke="#000" stroke-width="1.9"/>
<circle cx="732.6" cy="1531.4" r="2.2" fill="#000"/>
<circle cx="737.2" cy="1573.7" r="2.2" fill="#000"/>
<circle cx="738.6" cy="1573.6" r="2.2" fill="#000"/>
<circle cx="737.5" cy="1578.8" r="2.2" fill="#000"/>
<circle cx="737.2" cy="1575.3" r="2.2" fill="#000"/>
<circle cx="737.3" cy="1563.3" r="2.2" fill="#000"/>
<circle cx="736.7" cy="1567.8" r="2.2" fill="#000"/>
<circle cx="732.7" cy="1583.0" r="2.2" fill="#000"/>
<circle cx="734.9" cy="1567.9" r="2.2" fill="#000"/>
<circle cx="733.7" cy="1580.2" r="2.2" fill="#000"/>
<circle cx="732.8" cy="1496.2" r="2.2" fill="#000"/>
<circle cx="732.8" cy="1540.2" r="2.2" fill="#000"/>
<rect x="750.2" y="1526.7" width="11.8" height="72.3" fill="#C8CCFB" stroke="#000" stroke-width="2.1"/>
<line x1="756.1" y1="1499.1" x2="756.1" y2="1554.2" stroke="#000" stroke-width="1.9"/>
<line x1="751.9" y1="1499.1" x2="760.3" y2="1499.1" stroke="#000" stroke-width="1.9"/>
<line x1="751.9" y1="1554.2" x2="760.3" y2="1554.2" stroke="#000" stroke-width="1.9"/>
<circle cx="753.8" cy="1567.4" r="2.2" fill="#000"/>
<circle cx="757.1" cy="1546.1" r="2.2" fill="#000"/>
<circle cx="759.2" cy="1578.3" r="2.2" fill="#000"/>
<circle cx="758.8" cy="1590.0" r="2.2" fill="#000"/>
<circle cx="755.9" cy="1589.4" r="2.2" fill="#000"/>
<circle cx="757.3" cy="1546.0" r="2.2" fill="#000"/>
<circle cx="758.4" cy="1472.4" r="2.2" fill="#000"/>
<circle cx="752.9" cy="1568.2" r="2.2" fill="#000"/>
<circle cx="757.4" cy="1572.7" r="2.2" fill="#000"/>
<circle cx="759.3" cy="1552.7" r="2.2" fill="#000"/>
<circle cx="758.3" cy="1562.8" r="2.2" fill="#000"/>
<circle cx="758.0" cy="1549.3" r="2.2" fill="#000"/>
<circle cx="756.0" cy="1406.1" r="2.2" fill="#000"/>
<circle cx="754.7" cy="1420.6" r="2.2" fill="#000"/>
<rect x="771.5" y="1576.4" width="11.8" height="22.6" fill="#EDEFFD" stroke="#000" stroke-width="2.1"/>
<line x1="777.4" y1="1567.4" x2="777.4" y2="1585.4" stroke="#000" stroke-width="1.9"/>
<line x1="773.2" y1="1567.4" x2="781.6" y2="1567.4" stroke="#000" stroke-width="1.9"/>
<line x1="773.2" y1="1585.4" x2="781.6" y2="1585.4" stroke="#000" stroke-width="1.9"/>
<circle cx="779.9" cy="1586.3" r="2.2" fill="#000"/>
<circle cx="781.1" cy="1592.2" r="2.2" fill="#000"/>
<circle cx="778.6" cy="1580.9" r="2.2" fill="#000"/>
<circle cx="776.2" cy="1596.4" r="2.2" fill="#000"/>
<circle cx="777.8" cy="1591.9" r="2.2" fill="#000"/>
<circle cx="774.5" cy="1583.0" r="2.2" fill="#000"/>
<circle cx="773.6" cy="1572.3" r="2.2" fill="#000"/>
<circle cx="781.1" cy="1590.7" r="2.2" fill="#000"/>
<circle cx="778.6" cy="1586.0" r="2.2" fill="#000"/>
<circle cx="777.6" cy="1584.4" r="2.2" fill="#000"/>
<circle cx="780.8" cy="1575.9" r="2.2" fill="#000"/>
<circle cx="776.9" cy="1568.3" r="2.2" fill="#000"/>
<circle cx="780.3" cy="1586.4" r="2.2" fill="#000"/>
<circle cx="779.9" cy="1590.7" r="2.2" fill="#000"/>
<circle cx="776.2" cy="1501.6" r="2.2" fill="#000"/>
<circle cx="776.3" cy="1535.3" r="2.2" fill="#000"/>
<rect x="792.8" y="1576.4" width="11.8" height="22.6" fill="#E9ECFB" stroke="#000" stroke-width="2.1"/>
<line x1="798.7" y1="1571.1" x2="798.7" y2="1581.7" stroke="#000" stroke-width="1.9"/>
<line x1="794.5" y1="1571.1" x2="802.9" y2="1571.1" stroke="#000" stroke-width="1.9"/>
<line x1="794.5" y1="1581.7" x2="802.9" y2="1581.7" stroke="#000" stroke-width="1.9"/>
<circle cx="798.8" cy="1583.2" r="2.2" fill="#000"/>
<circle cx="799.1" cy="1572.3" r="2.2" fill="#000"/>
<circle cx="800.9" cy="1586.8" r="2.2" fill="#000"/>
<circle cx="795.6" cy="1584.9" r="2.2" fill="#000"/>
<circle cx="799.2" cy="1585.4" r="2.2" fill="#000"/>
<circle cx="796.7" cy="1578.4" r="2.2" fill="#000"/>
<circle cx="797.0" cy="1571.2" r="2.2" fill="#000"/>
<circle cx="800.8" cy="1585.7" r="2.2" fill="#000"/>
<circle cx="798.8" cy="1590.4" r="2.2" fill="#000"/>
<circle cx="799.2" cy="1577.4" r="2.2" fill="#000"/>
<circle cx="800.7" cy="1570.0" r="2.2" fill="#000"/>
<circle cx="801.9" cy="1586.3" r="2.2" fill="#000"/>
<circle cx="798.3" cy="1567.2" r="2.2" fill="#000"/>
<circle cx="799.6" cy="1586.3" r="2.2" fill="#000"/>
<circle cx="798.7" cy="1590.0" r="2.2" fill="#000"/>
<circle cx="798.8" cy="1583.5" r="2.2" fill="#000"/>
<circle cx="800.2" cy="1566.4" r="2.2" fill="#000"/>
<circle cx="798.3" cy="1579.9" r="2.2" fill="#000"/>
<circle cx="799.0" cy="1580.9" r="2.2" fill="#000"/>
<circle cx="798.5" cy="1580.4" r="2.2" fill="#000"/>
<circle cx="802.1" cy="1579.3" r="2.2" fill="#000"/>
<circle cx="800.3" cy="1586.3" r="2.2" fill="#000"/>
<circle cx="801.6" cy="1591.8" r="2.2" fill="#000"/>
<circle cx="802.1" cy="1578.3" r="2.2" fill="#000"/>
<circle cx="796.8" cy="1588.0" r="2.2" fill="#000"/>
<circle cx="799.2" cy="1584.1" r="2.2" fill="#000"/>
<circle cx="800.6" cy="1481.9" r="2.2" fill="#000"/>
<circle cx="800.1" cy="1542.7" r="2.2" fill="#000"/>
<rect x="814.1" y="1516.0" width="11.8" height="83.0" fill="#F8301A" stroke="#000" stroke-width="2.1"/>
<line x1="820.0" y1="1501.6" x2="820.0" y2="1530.4" stroke="#000" stroke-width="1.9"/>
<line x1="815.8" y1="1501.6" x2="824.2" y2="1501.6" stroke="#000" stroke-width="1.9"/>
<line x1="815.8" y1="1530.4" x2="824.2" y2="1530.4" stroke="#000" stroke-width="1.9"/>
<circle cx="819.5" cy="1528.6" r="2.2" fill="#000"/>
<circle cx="816.2" cy="1526.7" r="2.2" fill="#000"/>
<circle cx="818.7" cy="1549.1" r="2.2" fill="#000"/>
<circle cx="821.0" cy="1535.1" r="2.2" fill="#000"/>
<circle cx="820.1" cy="1538.6" r="2.2" fill="#000"/>
<circle cx="816.6" cy="1526.6" r="2.2" fill="#000"/>
<circle cx="823.8" cy="1559.8" r="2.2" fill="#000"/>
<circle cx="822.2" cy="1571.0" r="2.2" fill="#000"/>
<circle cx="823.7" cy="1523.9" r="2.2" fill="#000"/>
<circle cx="816.9" cy="1548.8" r="2.2" fill="#000"/>
<circle cx="818.2" cy="1547.8" r="2.2" fill="#000"/>
<circle cx="816.4" cy="1569.7" r="2.2" fill="#000"/>
<circle cx="822.2" cy="1485.9" r="2.2" fill="#000"/>
<circle cx="818.2" cy="1465.9" r="2.2" fill="#000"/>
<circle cx="817.1" cy="1515.0" r="2.2" fill="#000"/>
<circle cx="819.4" cy="1543.4" r="2.2" fill="#000"/>
<circle cx="823.2" cy="1502.8" r="2.2" fill="#000"/>
<circle cx="822.5" cy="1547.4" r="2.2" fill="#000"/>
<circle cx="818.1" cy="1585.6" r="2.2" fill="#000"/>
<circle cx="817.3" cy="1531.7" r="2.2" fill="#000"/>
<circle cx="823.3" cy="1529.9" r="2.2" fill="#000"/>
<circle cx="820.5" cy="1552.7" r="2.2" fill="#000"/>
<circle cx="821.6" cy="1564.3" r="2.2" fill="#000"/>
<circle cx="816.8" cy="1522.4" r="2.2" fill="#000"/>
<circle cx="816.6" cy="1548.8" r="2.2" fill="#000"/>
<circle cx="821.5" cy="1520.2" r="2.2" fill="#000"/>
<circle cx="819.4" cy="1556.1" r="2.2" fill="#000"/>
<circle cx="816.7" cy="1476.3" r="2.2" fill="#000"/>
<circle cx="823.4" cy="1487.5" r="2.2" fill="#000"/>
<circle cx="821.0" cy="1534.5" r="2.2" fill="#000"/>
<circle cx="821.3" cy="1398.2" r="2.2" fill="#000"/>
<circle cx="818.2" cy="1421.4" r="2.2" fill="#000"/>
<circle cx="821.5" cy="1439.5" r="2.2" fill="#000"/>
<circle cx="818.2" cy="1500.4" r="2.2" fill="#000"/>
<circle cx="821.5" cy="1504.5" r="2.2" fill="#000"/>
<line x1="635.5" y1="1379.1" x2="635.5" y2="1421.8" stroke="#111" stroke-width="1.4"/>
<line x1="630.0" y1="1421.8" x2="640.5" y2="1421.8" stroke="#111" stroke-width="1.4"/>
<line x1="635.5" y1="1434.5" x2="635.5" y2="1599.7" stroke="#111" stroke-width="1.4"/>
<line x1="630.0" y1="1434.5" x2="640.5" y2="1434.5" stroke="#111" stroke-width="1.4"/>
<line x1="630.1" y1="1599.0" x2="834.8" y2="1599.0" stroke="#111" stroke-width="1.4"/>
<line x1="630.0" y1="1599.0" x2="635.5" y2="1599.0" stroke="#111" stroke-width="1.4"/>
<text x="627.5" y="1605.4" font-size="17.8" text-anchor="end">0</text>
<line x1="630.0" y1="1557.9" x2="635.5" y2="1557.9" stroke="#111" stroke-width="1.4"/>
<text x="627.5" y="1564.3" font-size="17.8" text-anchor="end">100</text>
<line x1="630.0" y1="1516.8" x2="635.5" y2="1516.8" stroke="#111" stroke-width="1.4"/>
<text x="627.5" y="1523.2" font-size="17.8" text-anchor="end">200</text>
<line x1="630.0" y1="1475.7" x2="635.5" y2="1475.7" stroke="#111" stroke-width="1.4"/>
<text x="627.5" y="1482.1" font-size="17.8" text-anchor="end">300</text>
<line x1="630.0" y1="1434.6" x2="635.5" y2="1434.6" stroke="#111" stroke-width="1.4"/>
<text x="627.5" y="1441.0" font-size="17.8" text-anchor="end">400</text>
<line x1="630.0" y1="1398.2" x2="635.5" y2="1398.2" stroke="#111" stroke-width="1.4"/>
<text x="627.5" y="1404.6" font-size="17.8" text-anchor="end">1000</text>
<line x1="649.6" y1="1599.0" x2="649.6" y2="1603.5" stroke="#111" stroke-width="1.4"/>
<text x="654.9" y="1619.7" font-size="18.6" text-anchor="end" transform="rotate(-45 654.9 1619.7)">Serum</text>
<line x1="670.9" y1="1599.0" x2="670.9" y2="1603.5" stroke="#111" stroke-width="1.4"/>
<text x="676.2" y="1619.7" font-size="18.6" text-anchor="end" transform="rotate(-45 676.2 1619.7)">Liver</text>
<line x1="692.2" y1="1599.0" x2="692.2" y2="1603.5" stroke="#111" stroke-width="1.4"/>
<text x="697.5" y="1619.7" font-size="18.6" text-anchor="end" transform="rotate(-45 697.5 1619.7)">Pancreas</text>
<line x1="713.5" y1="1599.0" x2="713.5" y2="1603.5" stroke="#111" stroke-width="1.4"/>
<text x="718.8" y="1619.7" font-size="18.6" text-anchor="end" transform="rotate(-45 718.8 1619.7)">Small Int</text>
<line x1="734.8" y1="1599.0" x2="734.8" y2="1603.5" stroke="#111" stroke-width="1.4"/>
<text x="740.1" y="1619.7" font-size="18.6" text-anchor="end" transform="rotate(-45 740.1 1619.7)">Spleen</text>
<line x1="756.1" y1="1599.0" x2="756.1" y2="1603.5" stroke="#111" stroke-width="1.4"/>
<text x="761.4" y="1619.7" font-size="18.6" text-anchor="end" transform="rotate(-45 761.4 1619.7)">Muscle</text>
<line x1="777.4" y1="1599.0" x2="777.4" y2="1603.5" stroke="#111" stroke-width="1.4"/>
<text x="782.7" y="1619.7" font-size="18.6" text-anchor="end" transform="rotate(-45 782.7 1619.7)">Kidney</text>
<line x1="798.7" y1="1599.0" x2="798.7" y2="1603.5" stroke="#111" stroke-width="1.4"/>
<text x="804.0" y="1619.7" font-size="18.6" text-anchor="end" transform="rotate(-45 804.0 1619.7)">Brain</text>
<line x1="820.0" y1="1599.0" x2="820.0" y2="1603.5" stroke="#111" stroke-width="1.4"/>
<text x="825.3" y="1619.7" font-size="18.6" text-anchor="end" transform="rotate(-45 825.3 1619.7)">Tumor</text>
<text x="735.3" y="1346.8" font-size="25.4" text-anchor="middle">Arginine</text>
<text x="735.3" y="1705.0" font-size="25" text-anchor="middle">Organ</text>
<rect x="924.2" y="1537.3" width="11.8" height="61.7" fill="#F4B4AE" stroke="#000" stroke-width="2.1"/>
<line x1="930.1" y1="1525.8" x2="930.1" y2="1548.9" stroke="#000" stroke-width="1.9"/>
<line x1="925.9" y1="1525.8" x2="934.3" y2="1525.8" stroke="#000" stroke-width="1.9"/>
<line x1="925.9" y1="1548.9" x2="934.3" y2="1548.9" stroke="#000" stroke-width="1.9"/>
<circle cx="926.7" cy="1564.8" r="2.2" fill="#000"/>
<circle cx="931.0" cy="1491.1" r="2.2" fill="#000"/>
<circle cx="929.1" cy="1548.5" r="2.2" fill="#000"/>
<circle cx="931.4" cy="1548.0" r="2.2" fill="#000"/>
<circle cx="928.8" cy="1559.3" r="2.2" fill="#000"/>
<circle cx="931.6" cy="1564.6" r="2.2" fill="#000"/>
<circle cx="930.1" cy="1558.5" r="2.2" fill="#000"/>
<circle cx="931.3" cy="1571.1" r="2.2" fill="#000"/>
<circle cx="933.2" cy="1579.8" r="2.2" fill="#000"/>
<circle cx="930.7" cy="1581.4" r="2.2" fill="#000"/>
<circle cx="927.3" cy="1583.7" r="2.2" fill="#000"/>
<circle cx="926.7" cy="1565.4" r="2.2" fill="#000"/>
<circle cx="933.6" cy="1558.9" r="2.2" fill="#000"/>
<circle cx="930.0" cy="1526.7" r="2.2" fill="#000"/>
<circle cx="927.7" cy="1560.0" r="2.2" fill="#000"/>
<circle cx="933.6" cy="1564.5" r="2.2" fill="#000"/>
<circle cx="930.7" cy="1556.4" r="2.2" fill="#000"/>
<circle cx="931.9" cy="1569.5" r="2.2" fill="#000"/>
<circle cx="933.1" cy="1588.4" r="2.2" fill="#000"/>
<circle cx="928.4" cy="1546.1" r="2.2" fill="#000"/>
<circle cx="929.0" cy="1575.9" r="2.2" fill="#000"/>
<circle cx="933.0" cy="1565.4" r="2.2" fill="#000"/>
<circle cx="927.3" cy="1573.4" r="2.2" fill="#000"/>
<circle cx="932.2" cy="1491.1" r="2.2" fill="#000"/>
<circle cx="928.4" cy="1409.2" r="2.2" fill="#000"/>
<circle cx="930.9" cy="1471.6" r="2.2" fill="#000"/>
<circle cx="931.0" cy="1482.3" r="2.2" fill="#000"/>
<circle cx="932.0" cy="1485.6" r="2.2" fill="#000"/>
<circle cx="931.6" cy="1500.4" r="2.2" fill="#000"/>
<circle cx="930.1" cy="1502.0" r="2.2" fill="#000"/>
<rect x="945.5" y="1539.0" width="11.8" height="60.0" fill="#2F1CEB" stroke="#000" stroke-width="2.1"/>
<line x1="951.4" y1="1528.3" x2="951.4" y2="1549.7" stroke="#000" stroke-width="1.9"/>
<line x1="947.2" y1="1528.3" x2="955.6" y2="1528.3" stroke="#000" stroke-width="1.9"/>
<line x1="947.2" y1="1549.7" x2="955.6" y2="1549.7" stroke="#000" stroke-width="1.9"/>
<circle cx="947.6" cy="1554.2" r="2.2" fill="#000"/>
<circle cx="950.2" cy="1548.9" r="2.2" fill="#000"/>
<circle cx="949.6" cy="1569.8" r="2.2" fill="#000"/>
<circle cx="950.8" cy="1559.5" r="2.2" fill="#000"/>
<circle cx="950.4" cy="1521.2" r="2.2" fill="#000"/>
<circle cx="954.0" cy="1542.3" r="2.2" fill="#000"/>
<circle cx="954.4" cy="1573.0" r="2.2" fill="#000"/>
<circle cx="948.9" cy="1557.7" r="2.2" fill="#000"/>
<circle cx="950.6" cy="1554.8" r="2.2" fill="#000"/>
<circle cx="948.8" cy="1545.8" r="2.2" fill="#000"/>
<circle cx="952.1" cy="1488.9" r="2.2" fill="#000"/>
<circle cx="953.4" cy="1500.4" r="2.2" fill="#000"/>
<circle cx="950.1" cy="1507.8" r="2.2" fill="#000"/>
<circle cx="952.5" cy="1521.7" r="2.2" fill="#000"/>
<rect x="966.8" y="1567.8" width="11.8" height="31.2" fill="#7B78F2" stroke="#000" stroke-width="2.1"/>
<line x1="972.7" y1="1560.4" x2="972.7" y2="1575.2" stroke="#000" stroke-width="1.9"/>
<line x1="968.5" y1="1560.4" x2="976.9" y2="1560.4" stroke="#000" stroke-width="1.9"/>
<line x1="968.5" y1="1575.2" x2="976.9" y2="1575.2" stroke="#000" stroke-width="1.9"/>
<circle cx="968.9" cy="1578.5" r="2.2" fill="#000"/>
<circle cx="969.9" cy="1575.9" r="2.2" fill="#000"/>
<circle cx="971.8" cy="1576.9" r="2.2" fill="#000"/>
<circle cx="973.3" cy="1586.4" r="2.2" fill="#000"/>
<circle cx="974.6" cy="1570.7" r="2.2" fill="#000"/>
<circle cx="971.5" cy="1562.9" r="2.2" fill="#000"/>
<circle cx="976.3" cy="1576.4" r="2.2" fill="#000"/>
<circle cx="968.8" cy="1561.2" r="2.2" fill="#000"/>
<circle cx="975.3" cy="1586.9" r="2.2" fill="#000"/>
<circle cx="970.4" cy="1573.3" r="2.2" fill="#000"/>
<circle cx="975.6" cy="1584.8" r="2.2" fill="#000"/>
<circle cx="969.1" cy="1582.5" r="2.2" fill="#000"/>
<circle cx="976.3" cy="1573.2" r="2.2" fill="#000"/>
<circle cx="974.7" cy="1574.8" r="2.2" fill="#000"/>
<circle cx="976.5" cy="1562.7" r="2.2" fill="#000"/>
<circle cx="973.3" cy="1566.6" r="2.2" fill="#000"/>
<circle cx="970.2" cy="1588.1" r="2.2" fill="#000"/>
<circle cx="976.4" cy="1552.1" r="2.2" fill="#000"/>
<circle cx="972.2" cy="1590.4" r="2.2" fill="#000"/>
<circle cx="969.5" cy="1578.5" r="2.2" fill="#000"/>
<circle cx="973.5" cy="1573.1" r="2.2" fill="#000"/>
<circle cx="972.7" cy="1578.4" r="2.2" fill="#000"/>
<circle cx="972.6" cy="1474.9" r="2.2" fill="#000"/>
<circle cx="971.2" cy="1528.3" r="2.2" fill="#000"/>
<circle cx="971.1" cy="1536.5" r="2.2" fill="#000"/>
<rect x="988.1" y="1541.5" width="11.8" height="57.5" fill="#A2A2FA" stroke="#000" stroke-width="2.1"/>
<line x1="994.0" y1="1526.7" x2="994.0" y2="1556.3" stroke="#000" stroke-width="1.9"/>
<line x1="989.8" y1="1526.7" x2="998.2" y2="1526.7" stroke="#000" stroke-width="1.9"/>
<line x1="989.8" y1="1556.3" x2="998.2" y2="1556.3" stroke="#000" stroke-width="1.9"/>
<circle cx="992.9" cy="1565.5" r="2.2" fill="#000"/>
<circle cx="991.9" cy="1559.4" r="2.2" fill="#000"/>
<circle cx="991.6" cy="1533.4" r="2.2" fill="#000"/>
<circle cx="993.6" cy="1533.0" r="2.2" fill="#000"/>
<circle cx="990.9" cy="1554.6" r="2.2" fill="#000"/>
<circle cx="995.8" cy="1572.6" r="2.2" fill="#000"/>
<circle cx="995.6" cy="1565.8" r="2.2" fill="#000"/>
<circle cx="994.9" cy="1546.6" r="2.2" fill="#000"/>
<circle cx="992.0" cy="1442.0" r="2.2" fill="#000"/>
<rect x="1009.4" y="1496.2" width="11.8" height="102.8" fill="#B2B6FA" stroke="#000" stroke-width="2.1"/>
<line x1="1015.3" y1="1443.6" x2="1015.3" y2="1548.9" stroke="#000" stroke-width="1.9"/>
<line x1="1011.1" y1="1443.6" x2="1019.5" y2="1443.6" stroke="#000" stroke-width="1.9"/>
<line x1="1011.1" y1="1548.9" x2="1019.5" y2="1548.9" stroke="#000" stroke-width="1.9"/>
<circle cx="1016.9" cy="1581.7" r="2.2" fill="#000"/>
<circle cx="1013.0" cy="1558.2" r="2.2" fill="#000"/>
<circle cx="1013.2" cy="1509.3" r="2.2" fill="#000"/>
<circle cx="1015.5" cy="1539.9" r="2.2" fill="#000"/>
<circle cx="1017.2" cy="1572.5" r="2.2" fill="#000"/>
<circle cx="1016.4" cy="1585.8" r="2.2" fill="#000"/>
<circle cx="1013.2" cy="1383.6" r="2.2" fill="#000"/>
<circle cx="1015.8" cy="1483.1" r="2.2" fill="#000"/>
<rect x="1030.7" y="1585.0" width="11.8" height="14.0" fill="#C8CCFB" stroke="#000" stroke-width="2.1"/>
<line x1="1036.6" y1="1580.9" x2="1036.6" y2="1589.1" stroke="#000" stroke-width="1.9"/>
<line x1="1032.4" y1="1580.9" x2="1040.8" y2="1580.9" stroke="#000" stroke-width="1.9"/>
<line x1="1032.4" y1="1589.1" x2="1040.8" y2="1589.1" stroke="#000" stroke-width="1.9"/>
<circle cx="1037.6" cy="1581.2" r="2.2" fill="#000"/>
<circle cx="1040.2" cy="1593.6" r="2.2" fill="#000"/>
<circle cx="1038.8" cy="1574.5" r="2.2" fill="#000"/>
<circle cx="1035.0" cy="1594.5" r="2.2" fill="#000"/>
<circle cx="1039.3" cy="1589.8" r="2.2" fill="#000"/>
<circle cx="1034.2" cy="1585.8" r="2.2" fill="#000"/>
<circle cx="1035.6" cy="1596.8" r="2.2" fill="#000"/>
<circle cx="1040.2" cy="1593.4" r="2.2" fill="#000"/>
<circle cx="1039.3" cy="1595.3" r="2.2" fill="#000"/>
<circle cx="1035.1" cy="1577.5" r="2.2" fill="#000"/>
<circle cx="1035.0" cy="1586.5" r="2.2" fill="#000"/>
<circle cx="1037.5" cy="1593.9" r="2.2" fill="#000"/>
<circle cx="1038.1" cy="1561.2" r="2.2" fill="#000"/>
<circle cx="1037.4" cy="1574.3" r="2.2" fill="#000"/>
<rect x="1052.0" y="1570.2" width="11.8" height="28.8" fill="#EDEFFD" stroke="#000" stroke-width="2.1"/>
<line x1="1057.9" y1="1559.5" x2="1057.9" y2="1580.9" stroke="#000" stroke-width="1.9"/>
<line x1="1053.7" y1="1559.5" x2="1062.1" y2="1559.5" stroke="#000" stroke-width="1.9"/>
<line x1="1053.7" y1="1580.9" x2="1062.1" y2="1580.9" stroke="#000" stroke-width="1.9"/>
<circle cx="1060.5" cy="1568.0" r="2.2" fill="#000"/>
<circle cx="1056.1" cy="1589.7" r="2.2" fill="#000"/>
<circle cx="1054.5" cy="1580.4" r="2.2" fill="#000"/>
<circle cx="1059.7" cy="1592.4" r="2.2" fill="#000"/>
<circle cx="1056.1" cy="1590.0" r="2.2" fill="#000"/>
<circle cx="1057.3" cy="1578.0" r="2.2" fill="#000"/>
<circle cx="1054.9" cy="1592.4" r="2.2" fill="#000"/>
<circle cx="1060.5" cy="1585.1" r="2.2" fill="#000"/>
<circle cx="1056.9" cy="1489.7" r="2.2" fill="#000"/>
<circle cx="1057.0" cy="1536.5" r="2.2" fill="#000"/>
<rect x="1073.3" y="1567.8" width="11.8" height="31.2" fill="#E9ECFB" stroke="#000" stroke-width="2.1"/>
<line x1="1079.2" y1="1562.8" x2="1079.2" y2="1572.7" stroke="#000" stroke-width="1.9"/>
<line x1="1075.0" y1="1562.8" x2="1083.4" y2="1562.8" stroke="#000" stroke-width="1.9"/>
<line x1="1075.0" y1="1572.7" x2="1083.4" y2="1572.7" stroke="#000" stroke-width="1.9"/>
<circle cx="1076.4" cy="1568.6" r="2.2" fill="#000"/>
<circle cx="1080.1" cy="1581.3" r="2.2" fill="#000"/>
<circle cx="1080.6" cy="1575.8" r="2.2" fill="#000"/>
<circle cx="1076.0" cy="1544.3" r="2.2" fill="#000"/>
<circle cx="1078.9" cy="1579.2" r="2.2" fill="#000"/>
<circle cx="1082.1" cy="1567.4" r="2.2" fill="#000"/>
<circle cx="1082.4" cy="1549.8" r="2.2" fill="#000"/>
<circle cx="1082.5" cy="1576.0" r="2.2" fill="#000"/>
<circle cx="1076.0" cy="1572.7" r="2.2" fill="#000"/>
<circle cx="1080.0" cy="1578.9" r="2.2" fill="#000"/>
<circle cx="1082.0" cy="1567.1" r="2.2" fill="#000"/>
<circle cx="1080.4" cy="1582.1" r="2.2" fill="#000"/>
<circle cx="1077.8" cy="1567.8" r="2.2" fill="#000"/>
<circle cx="1075.6" cy="1579.5" r="2.2" fill="#000"/>
<circle cx="1082.5" cy="1569.1" r="2.2" fill="#000"/>
<circle cx="1082.0" cy="1584.9" r="2.2" fill="#000"/>
<circle cx="1080.4" cy="1581.3" r="2.2" fill="#000"/>
<circle cx="1078.2" cy="1561.9" r="2.2" fill="#000"/>
<circle cx="1081.8" cy="1566.3" r="2.2" fill="#000"/>
<circle cx="1081.7" cy="1590.3" r="2.2" fill="#000"/>
<circle cx="1081.0" cy="1553.0" r="2.2" fill="#000"/>
<circle cx="1080.0" cy="1579.5" r="2.2" fill="#000"/>
<circle cx="1078.4" cy="1541.5" r="2.2" fill="#000"/>
<circle cx="1078.3" cy="1544.7" r="2.2" fill="#000"/>
<circle cx="1078.6" cy="1548.0" r="2.2" fill="#000"/>
<circle cx="1078.5" cy="1551.3" r="2.2" fill="#000"/>
<rect x="1094.6" y="1482.3" width="11.8" height="116.7" fill="#F8301A" stroke="#000" stroke-width="2.1"/>
<line x1="1100.5" y1="1465.0" x2="1100.5" y2="1499.5" stroke="#000" stroke-width="1.9"/>
<line x1="1096.3" y1="1465.0" x2="1104.7" y2="1465.0" stroke="#000" stroke-width="1.9"/>
<line x1="1096.3" y1="1499.5" x2="1104.7" y2="1499.5" stroke="#000" stroke-width="1.9"/>
<circle cx="1097.6" cy="1530.4" r="2.2" fill="#000"/>
<circle cx="1099.2" cy="1516.8" r="2.2" fill="#000"/>
<circle cx="1099.8" cy="1520.3" r="2.2" fill="#000"/>
<circle cx="1097.9" cy="1541.6" r="2.2" fill="#000"/>
<circle cx="1102.5" cy="1498.5" r="2.2" fill="#000"/>
<circle cx="1097.1" cy="1488.0" r="2.2" fill="#000"/>
<circle cx="1103.5" cy="1539.3" r="2.2" fill="#000"/>
<circle cx="1101.2" cy="1486.4" r="2.2" fill="#000"/>
<circle cx="1101.4" cy="1511.3" r="2.2" fill="#000"/>
<circle cx="1099.8" cy="1529.2" r="2.2" fill="#000"/>
<circle cx="1103.9" cy="1509.4" r="2.2" fill="#000"/>
<circle cx="1101.1" cy="1479.6" r="2.2" fill="#000"/>
<circle cx="1103.6" cy="1483.6" r="2.2" fill="#000"/>
<circle cx="1103.8" cy="1440.4" r="2.2" fill="#000"/>
<circle cx="1102.0" cy="1505.2" r="2.2" fill="#000"/>
<circle cx="1104.3" cy="1507.0" r="2.2" fill="#000"/>
<circle cx="1100.4" cy="1554.9" r="2.2" fill="#000"/>
<circle cx="1099.5" cy="1532.5" r="2.2" fill="#000"/>
<circle cx="1103.2" cy="1491.0" r="2.2" fill="#000"/>
<circle cx="1100.7" cy="1546.9" r="2.2" fill="#000"/>
<circle cx="1099.0" cy="1542.8" r="2.2" fill="#000"/>
<circle cx="1101.9" cy="1439.4" r="2.2" fill="#000"/>
<circle cx="1100.3" cy="1518.1" r="2.2" fill="#000"/>
<circle cx="1097.6" cy="1546.9" r="2.2" fill="#000"/>
<circle cx="1103.1" cy="1565.3" r="2.2" fill="#000"/>
<circle cx="1100.5" cy="1541.4" r="2.2" fill="#000"/>
<circle cx="1104.2" cy="1439.4" r="2.2" fill="#000"/>
<circle cx="1100.8" cy="1516.0" r="2.2" fill="#000"/>
<circle cx="1102.4" cy="1394.7" r="2.2" fill="#000"/>
<circle cx="1099.6" cy="1401.4" r="2.2" fill="#000"/>
<circle cx="1099.3" cy="1420.4" r="2.2" fill="#000"/>
<circle cx="1100.6" cy="1420.9" r="2.2" fill="#000"/>
<circle cx="1101.6" cy="1446.1" r="2.2" fill="#000"/>
<circle cx="1101.9" cy="1449.4" r="2.2" fill="#000"/>
<circle cx="1101.1" cy="1457.6" r="2.2" fill="#000"/>
<circle cx="1098.9" cy="1460.9" r="2.2" fill="#000"/>
<line x1="916.1" y1="1379.1" x2="916.1" y2="1421.8" stroke="#111" stroke-width="1.4"/>
<line x1="910.6" y1="1421.8" x2="921.1" y2="1421.8" stroke="#111" stroke-width="1.4"/>
<line x1="916.1" y1="1434.5" x2="916.1" y2="1599.7" stroke="#111" stroke-width="1.4"/>
<line x1="910.6" y1="1434.5" x2="921.1" y2="1434.5" stroke="#111" stroke-width="1.4"/>
<line x1="910.7" y1="1599.0" x2="1115.3" y2="1599.0" stroke="#111" stroke-width="1.4"/>
<line x1="910.6" y1="1599.0" x2="916.1" y2="1599.0" stroke="#111" stroke-width="1.4"/>
<text x="908.1" y="1605.4" font-size="17.8" text-anchor="end">0</text>
<line x1="910.6" y1="1557.9" x2="916.1" y2="1557.9" stroke="#111" stroke-width="1.4"/>
<text x="908.1" y="1564.3" font-size="17.8" text-anchor="end">50</text>
<line x1="910.6" y1="1516.8" x2="916.1" y2="1516.8" stroke="#111" stroke-width="1.4"/>
<text x="908.1" y="1523.2" font-size="17.8" text-anchor="end">100</text>
<line x1="910.6" y1="1475.7" x2="916.1" y2="1475.7" stroke="#111" stroke-width="1.4"/>
<text x="908.1" y="1482.1" font-size="17.8" text-anchor="end">150</text>
<line x1="910.6" y1="1434.6" x2="916.1" y2="1434.6" stroke="#111" stroke-width="1.4"/>
<text x="908.1" y="1441.0" font-size="17.8" text-anchor="end">200</text>
<line x1="910.6" y1="1401.4" x2="916.1" y2="1401.4" stroke="#111" stroke-width="1.4"/>
<text x="908.1" y="1407.8" font-size="17.8" text-anchor="end">400</text>
<line x1="910.6" y1="1379.1" x2="916.1" y2="1379.1" stroke="#111" stroke-width="1.4"/>
<text x="908.1" y="1385.5" font-size="17.8" text-anchor="end">600</text>
<line x1="930.1" y1="1599.0" x2="930.1" y2="1603.5" stroke="#111" stroke-width="1.4"/>
<text x="935.4" y="1619.7" font-size="18.6" text-anchor="end" transform="rotate(-45 935.4 1619.7)">Serum</text>
<line x1="951.4" y1="1599.0" x2="951.4" y2="1603.5" stroke="#111" stroke-width="1.4"/>
<text x="956.7" y="1619.7" font-size="18.6" text-anchor="end" transform="rotate(-45 956.7 1619.7)">Liver</text>
<line x1="972.7" y1="1599.0" x2="972.7" y2="1603.5" stroke="#111" stroke-width="1.4"/>
<text x="978.0" y="1619.7" font-size="18.6" text-anchor="end" transform="rotate(-45 978.0 1619.7)">Pancreas</text>
<line x1="994.0" y1="1599.0" x2="994.0" y2="1603.5" stroke="#111" stroke-width="1.4"/>
<text x="999.3" y="1619.7" font-size="18.6" text-anchor="end" transform="rotate(-45 999.3 1619.7)">Small Int</text>
<line x1="1015.3" y1="1599.0" x2="1015.3" y2="1603.5" stroke="#111" stroke-width="1.4"/>
<text x="1020.6" y="1619.7" font-size="18.6" text-anchor="end" transform="rotate(-45 1020.6 1619.7)">Spleen</text>
<line x1="1036.6" y1="1599.0" x2="1036.6" y2="1603.5" stroke="#111" stroke-width="1.4"/>
<text x="1041.9" y="1619.7" font-size="18.6" text-anchor="end" transform="rotate(-45 1041.9 1619.7)">Muscle</text>
<line x1="1057.9" y1="1599.0" x2="1057.9" y2="1603.5" stroke="#111" stroke-width="1.4"/>
<text x="1063.2" y="1619.7" font-size="18.6" text-anchor="end" transform="rotate(-45 1063.2 1619.7)">Kidney</text>
<line x1="1079.2" y1="1599.0" x2="1079.2" y2="1603.5" stroke="#111" stroke-width="1.4"/>
<text x="1084.5" y="1619.7" font-size="18.6" text-anchor="end" transform="rotate(-45 1084.5 1619.7)">Brain</text>
<line x1="1100.5" y1="1599.0" x2="1100.5" y2="1603.5" stroke="#111" stroke-width="1.4"/>
<text x="1105.8" y="1619.7" font-size="18.6" text-anchor="end" transform="rotate(-45 1105.8 1619.7)">Tumor</text>
<text x="1015.8" y="1346.8" font-size="25.4" text-anchor="middle">Ornithine</text>
<text x="1015.8" y="1705.0" font-size="25" text-anchor="middle">Organ</text>
<rect x="1215.9" y="1597.7" width="11.8" height="1.3" fill="#F4B4AE" stroke="#000" stroke-width="2.1"/>
<line x1="1221.8" y1="1597.2" x2="1221.8" y2="1598.2" stroke="#000" stroke-width="1.9"/>
<line x1="1217.6" y1="1597.2" x2="1226.0" y2="1597.2" stroke="#000" stroke-width="1.9"/>
<line x1="1217.6" y1="1598.2" x2="1226.0" y2="1598.2" stroke="#000" stroke-width="1.9"/>
<circle cx="1222.2" cy="1598.8" r="2.2" fill="#000"/>
<circle cx="1222.7" cy="1598.6" r="2.2" fill="#000"/>
<circle cx="1218.2" cy="1598.2" r="2.2" fill="#000"/>
<circle cx="1220.9" cy="1598.1" r="2.2" fill="#000"/>
<circle cx="1223.4" cy="1598.3" r="2.2" fill="#000"/>
<circle cx="1221.4" cy="1598.6" r="2.2" fill="#000"/>
<circle cx="1223.6" cy="1598.6" r="2.2" fill="#000"/>
<circle cx="1219.1" cy="1598.7" r="2.2" fill="#000"/>
<circle cx="1220.7" cy="1584.2" r="2.2" fill="#000"/>
<rect x="1237.2" y="1586.5" width="11.8" height="12.5" fill="#2F1CEB" stroke="#000" stroke-width="2.1"/>
<line x1="1243.1" y1="1583.9" x2="1243.1" y2="1589.2" stroke="#000" stroke-width="1.9"/>
<line x1="1238.9" y1="1583.9" x2="1247.3" y2="1583.9" stroke="#000" stroke-width="1.9"/>
<line x1="1238.9" y1="1589.2" x2="1247.3" y2="1589.2" stroke="#000" stroke-width="1.9"/>
<circle cx="1243.0" cy="1584.6" r="2.2" fill="#000"/>
<circle cx="1239.4" cy="1585.5" r="2.2" fill="#000"/>
<circle cx="1242.5" cy="1582.6" r="2.2" fill="#000"/>
<circle cx="1246.3" cy="1591.9" r="2.2" fill="#000"/>
<circle cx="1240.1" cy="1588.9" r="2.2" fill="#000"/>
<circle cx="1243.9" cy="1593.0" r="2.2" fill="#000"/>
<circle cx="1240.2" cy="1589.6" r="2.2" fill="#000"/>
<circle cx="1243.7" cy="1591.4" r="2.2" fill="#000"/>
<circle cx="1246.2" cy="1591.1" r="2.2" fill="#000"/>
<circle cx="1240.8" cy="1580.4" r="2.2" fill="#000"/>
<circle cx="1239.3" cy="1590.2" r="2.2" fill="#000"/>
<circle cx="1239.9" cy="1593.2" r="2.2" fill="#000"/>
<circle cx="1243.4" cy="1586.1" r="2.2" fill="#000"/>
<circle cx="1239.3" cy="1587.6" r="2.2" fill="#000"/>
<circle cx="1239.9" cy="1588.6" r="2.2" fill="#000"/>
<circle cx="1243.1" cy="1585.4" r="2.2" fill="#000"/>
<circle cx="1246.4" cy="1588.4" r="2.2" fill="#000"/>
<circle cx="1242.5" cy="1591.9" r="2.2" fill="#000"/>
<circle cx="1242.3" cy="1579.5" r="2.2" fill="#000"/>
<circle cx="1244.2" cy="1594.0" r="2.2" fill="#000"/>
<circle cx="1239.9" cy="1584.5" r="2.2" fill="#000"/>
<circle cx="1243.7" cy="1588.0" r="2.2" fill="#000"/>
<circle cx="1241.7" cy="1566.2" r="2.2" fill="#000"/>
<circle cx="1243.6" cy="1574.0" r="2.2" fill="#000"/>
<rect x="1258.5" y="1580.3" width="11.8" height="18.7" fill="#7B78F2" stroke="#000" stroke-width="2.1"/>
<line x1="1264.4" y1="1576.0" x2="1264.4" y2="1584.6" stroke="#000" stroke-width="1.9"/>
<line x1="1260.2" y1="1576.0" x2="1268.6" y2="1576.0" stroke="#000" stroke-width="1.9"/>
<line x1="1260.2" y1="1584.6" x2="1268.6" y2="1584.6" stroke="#000" stroke-width="1.9"/>
<circle cx="1268.2" cy="1588.1" r="2.2" fill="#000"/>
<circle cx="1265.0" cy="1590.4" r="2.2" fill="#000"/>
<circle cx="1260.6" cy="1594.7" r="2.2" fill="#000"/>
<circle cx="1266.7" cy="1592.1" r="2.2" fill="#000"/>
<circle cx="1263.1" cy="1587.2" r="2.2" fill="#000"/>
<circle cx="1263.9" cy="1586.0" r="2.2" fill="#000"/>
<circle cx="1262.2" cy="1566.3" r="2.2" fill="#000"/>
<circle cx="1264.0" cy="1590.5" r="2.2" fill="#000"/>
<circle cx="1263.0" cy="1581.8" r="2.2" fill="#000"/>
<circle cx="1261.2" cy="1582.3" r="2.2" fill="#000"/>
<circle cx="1265.4" cy="1585.5" r="2.2" fill="#000"/>
<circle cx="1261.3" cy="1591.0" r="2.2" fill="#000"/>
<circle cx="1266.6" cy="1591.1" r="2.2" fill="#000"/>
<circle cx="1260.7" cy="1590.9" r="2.2" fill="#000"/>
<circle cx="1266.6" cy="1593.9" r="2.2" fill="#000"/>
<circle cx="1266.8" cy="1581.9" r="2.2" fill="#000"/>
<circle cx="1264.4" cy="1595.1" r="2.2" fill="#000"/>
<circle cx="1266.0" cy="1593.7" r="2.2" fill="#000"/>
<circle cx="1262.4" cy="1584.8" r="2.2" fill="#000"/>
<circle cx="1266.3" cy="1587.1" r="2.2" fill="#000"/>
<circle cx="1263.8" cy="1584.1" r="2.2" fill="#000"/>
<circle cx="1262.3" cy="1593.9" r="2.2" fill="#000"/>
<circle cx="1268.0" cy="1593.8" r="2.2" fill="#000"/>
<circle cx="1263.6" cy="1588.2" r="2.2" fill="#000"/>
<circle cx="1263.9" cy="1523.5" r="2.2" fill="#000"/>
<circle cx="1265.9" cy="1543.2" r="2.2" fill="#000"/>
<circle cx="1263.8" cy="1544.8" r="2.2" fill="#000"/>
<circle cx="1265.1" cy="1557.0" r="2.2" fill="#000"/>
<rect x="1279.8" y="1574.7" width="11.8" height="24.3" fill="#A2A2FA" stroke="#000" stroke-width="2.1"/>
<line x1="1285.7" y1="1568.8" x2="1285.7" y2="1580.6" stroke="#000" stroke-width="1.9"/>
<line x1="1281.5" y1="1568.8" x2="1289.9" y2="1568.8" stroke="#000" stroke-width="1.9"/>
<line x1="1281.5" y1="1580.6" x2="1289.9" y2="1580.6" stroke="#000" stroke-width="1.9"/>
<circle cx="1282.3" cy="1577.8" r="2.2" fill="#000"/>
<circle cx="1283.4" cy="1570.1" r="2.2" fill="#000"/>
<circle cx="1284.8" cy="1584.4" r="2.2" fill="#000"/>
<circle cx="1286.6" cy="1582.3" r="2.2" fill="#000"/>
<circle cx="1289.3" cy="1580.3" r="2.2" fill="#000"/>
<circle cx="1284.6" cy="1584.9" r="2.2" fill="#000"/>
<circle cx="1282.9" cy="1556.5" r="2.2" fill="#000"/>
<circle cx="1286.2" cy="1589.0" r="2.2" fill="#000"/>
<circle cx="1282.9" cy="1585.0" r="2.2" fill="#000"/>
<circle cx="1282.5" cy="1584.9" r="2.2" fill="#000"/>
<circle cx="1285.9" cy="1547.5" r="2.2" fill="#000"/>
<circle cx="1286.5" cy="1555.7" r="2.2" fill="#000"/>
<rect x="1301.1" y="1552.1" width="11.8" height="46.9" fill="#B2B6FA" stroke="#000" stroke-width="2.1"/>
<line x1="1307.0" y1="1541.2" x2="1307.0" y2="1562.9" stroke="#000" stroke-width="1.9"/>
<line x1="1302.8" y1="1541.2" x2="1311.2" y2="1541.2" stroke="#000" stroke-width="1.9"/>
<line x1="1302.8" y1="1562.9" x2="1311.2" y2="1562.9" stroke="#000" stroke-width="1.9"/>
<circle cx="1309.1" cy="1556.8" r="2.2" fill="#000"/>
<circle cx="1310.0" cy="1565.1" r="2.2" fill="#000"/>
<circle cx="1307.0" cy="1575.4" r="2.2" fill="#000"/>
<circle cx="1303.9" cy="1583.8" r="2.2" fill="#000"/>
<circle cx="1303.5" cy="1583.4" r="2.2" fill="#000"/>
<circle cx="1307.2" cy="1549.8" r="2.2" fill="#000"/>
<circle cx="1304.5" cy="1560.4" r="2.2" fill="#000"/>
<circle cx="1308.0" cy="1550.1" r="2.2" fill="#000"/>
<circle cx="1305.2" cy="1514.3" r="2.2" fill="#000"/>
<circle cx="1308.2" cy="1515.9" r="2.2" fill="#000"/>
<circle cx="1305.8" cy="1517.6" r="2.2" fill="#000"/>
<rect x="1322.4" y="1587.8" width="11.8" height="11.2" fill="#C8CCFB" stroke="#000" stroke-width="2.1"/>
<line x1="1328.3" y1="1584.6" x2="1328.3" y2="1591.1" stroke="#000" stroke-width="1.9"/>
<line x1="1324.1" y1="1584.6" x2="1332.5" y2="1584.6" stroke="#000" stroke-width="1.9"/>
<line x1="1324.1" y1="1591.1" x2="1332.5" y2="1591.1" stroke="#000" stroke-width="1.9"/>
<circle cx="1331.3" cy="1590.1" r="2.2" fill="#000"/>
<circle cx="1328.6" cy="1592.6" r="2.2" fill="#000"/>
<circle cx="1328.5" cy="1595.9" r="2.2" fill="#000"/>
<circle cx="1328.6" cy="1591.4" r="2.2" fill="#000"/>
<circle cx="1331.5" cy="1594.2" r="2.2" fill="#000"/>
<circle cx="1324.9" cy="1591.2" r="2.2" fill="#000"/>
<circle cx="1329.4" cy="1597.4" r="2.2" fill="#000"/>
<circle cx="1328.6" cy="1591.7" r="2.2" fill="#000"/>
<circle cx="1326.7" cy="1597.3" r="2.2" fill="#000"/>
<circle cx="1330.1" cy="1594.3" r="2.2" fill="#000"/>
<circle cx="1330.0" cy="1579.5" r="2.2" fill="#000"/>
<circle cx="1325.2" cy="1590.4" r="2.2" fill="#000"/>
<circle cx="1329.1" cy="1566.2" r="2.2" fill="#000"/>
<circle cx="1328.1" cy="1574.0" r="2.2" fill="#000"/>
<rect x="1343.7" y="1574.4" width="11.8" height="24.6" fill="#EDEFFD" stroke="#000" stroke-width="2.1"/>
<line x1="1349.6" y1="1566.2" x2="1349.6" y2="1582.6" stroke="#000" stroke-width="1.9"/>
<line x1="1345.4" y1="1566.2" x2="1353.8" y2="1566.2" stroke="#000" stroke-width="1.9"/>
<line x1="1345.4" y1="1582.6" x2="1353.8" y2="1582.6" stroke="#000" stroke-width="1.9"/>
<circle cx="1351.0" cy="1592.7" r="2.2" fill="#000"/>
<circle cx="1348.9" cy="1584.1" r="2.2" fill="#000"/>
<circle cx="1346.2" cy="1569.4" r="2.2" fill="#000"/>
<circle cx="1347.2" cy="1580.7" r="2.2" fill="#000"/>
<circle cx="1350.4" cy="1592.7" r="2.2" fill="#000"/>
<circle cx="1347.1" cy="1566.2" r="2.2" fill="#000"/>
<circle cx="1346.2" cy="1582.9" r="2.2" fill="#000"/>
<circle cx="1348.5" cy="1558.2" r="2.2" fill="#000"/>
<circle cx="1349.4" cy="1586.2" r="2.2" fill="#000"/>
<circle cx="1349.9" cy="1592.6" r="2.2" fill="#000"/>
<circle cx="1345.9" cy="1583.1" r="2.2" fill="#000"/>
<circle cx="1351.7" cy="1586.3" r="2.2" fill="#000"/>
<circle cx="1348.3" cy="1591.5" r="2.2" fill="#000"/>
<circle cx="1351.8" cy="1589.9" r="2.2" fill="#000"/>
<circle cx="1347.5" cy="1485.7" r="2.2" fill="#000"/>
<circle cx="1351.5" cy="1547.8" r="2.2" fill="#000"/>
<rect x="1365.0" y="1503.8" width="11.8" height="95.2" fill="#E9ECFB" stroke="#000" stroke-width="2.1"/>
<line x1="1370.9" y1="1483.4" x2="1370.9" y2="1524.1" stroke="#000" stroke-width="1.9"/>
<line x1="1366.7" y1="1483.4" x2="1375.1" y2="1483.4" stroke="#000" stroke-width="1.9"/>
<line x1="1366.7" y1="1524.1" x2="1375.1" y2="1524.1" stroke="#000" stroke-width="1.9"/>
<circle cx="1370.4" cy="1585.7" r="2.2" fill="#000"/>
<circle cx="1374.4" cy="1577.6" r="2.2" fill="#000"/>
<circle cx="1367.2" cy="1454.1" r="2.2" fill="#000"/>
<circle cx="1367.8" cy="1553.9" r="2.2" fill="#000"/>
<circle cx="1373.2" cy="1524.1" r="2.2" fill="#000"/>
<circle cx="1367.5" cy="1530.4" r="2.2" fill="#000"/>
<circle cx="1369.0" cy="1543.4" r="2.2" fill="#000"/>
<circle cx="1373.6" cy="1466.4" r="2.2" fill="#000"/>
<circle cx="1371.7" cy="1541.9" r="2.2" fill="#000"/>
<circle cx="1368.7" cy="1526.9" r="2.2" fill="#000"/>
<circle cx="1367.5" cy="1537.3" r="2.2" fill="#000"/>
<circle cx="1369.1" cy="1539.5" r="2.2" fill="#000"/>
<circle cx="1369.3" cy="1439.5" r="2.2" fill="#000"/>
<circle cx="1373.2" cy="1571.6" r="2.2" fill="#000"/>
<circle cx="1374.6" cy="1573.2" r="2.2" fill="#000"/>
<circle cx="1373.1" cy="1502.0" r="2.2" fill="#000"/>
<circle cx="1374.0" cy="1573.9" r="2.2" fill="#000"/>
<circle cx="1374.3" cy="1542.1" r="2.2" fill="#000"/>
<circle cx="1373.8" cy="1570.5" r="2.2" fill="#000"/>
<circle cx="1374.2" cy="1509.6" r="2.2" fill="#000"/>
<circle cx="1374.5" cy="1547.6" r="2.2" fill="#000"/>
<circle cx="1367.7" cy="1522.4" r="2.2" fill="#000"/>
<circle cx="1369.5" cy="1565.0" r="2.2" fill="#000"/>
<circle cx="1368.9" cy="1551.6" r="2.2" fill="#000"/>
<circle cx="1371.3" cy="1400.6" r="2.2" fill="#000"/>
<circle cx="1370.9" cy="1406.4" r="2.2" fill="#000"/>
<circle cx="1370.2" cy="1417.9" r="2.2" fill="#000"/>
<circle cx="1372.3" cy="1477.5" r="2.2" fill="#000"/>
<rect x="1386.3" y="1502.8" width="11.8" height="96.2" fill="#F8301A" stroke="#000" stroke-width="2.1"/>
<line x1="1392.2" y1="1486.4" x2="1392.2" y2="1519.2" stroke="#000" stroke-width="1.9"/>
<line x1="1388.0" y1="1486.4" x2="1396.4" y2="1486.4" stroke="#000" stroke-width="1.9"/>
<line x1="1388.0" y1="1519.2" x2="1396.4" y2="1519.2" stroke="#000" stroke-width="1.9"/>
<circle cx="1390.8" cy="1549.5" r="2.2" fill="#000"/>
<circle cx="1394.8" cy="1516.0" r="2.2" fill="#000"/>
<circle cx="1392.3" cy="1538.6" r="2.2" fill="#000"/>
<circle cx="1389.1" cy="1478.3" r="2.2" fill="#000"/>
<circle cx="1393.9" cy="1560.1" r="2.2" fill="#000"/>
<circle cx="1390.5" cy="1556.4" r="2.2" fill="#000"/>
<circle cx="1392.5" cy="1550.7" r="2.2" fill="#000"/>
<circle cx="1388.9" cy="1523.2" r="2.2" fill="#000"/>
<circle cx="1388.4" cy="1553.9" r="2.2" fill="#000"/>
<circle cx="1395.5" cy="1511.1" r="2.2" fill="#000"/>
<circle cx="1388.6" cy="1506.8" r="2.2" fill="#000"/>
<circle cx="1389.5" cy="1478.2" r="2.2" fill="#000"/>
<circle cx="1389.6" cy="1507.1" r="2.2" fill="#000"/>
<circle cx="1389.1" cy="1452.2" r="2.2" fill="#000"/>
<circle cx="1394.7" cy="1542.1" r="2.2" fill="#000"/>
<circle cx="1396.1" cy="1546.9" r="2.2" fill="#000"/>
<circle cx="1393.4" cy="1551.8" r="2.2" fill="#000"/>
<circle cx="1391.4" cy="1551.9" r="2.2" fill="#000"/>
<circle cx="1395.2" cy="1565.8" r="2.2" fill="#000"/>
<circle cx="1392.2" cy="1514.1" r="2.2" fill="#000"/>
<circle cx="1389.4" cy="1526.6" r="2.2" fill="#000"/>
<circle cx="1393.7" cy="1577.2" r="2.2" fill="#000"/>
<circle cx="1391.1" cy="1534.8" r="2.2" fill="#000"/>
<circle cx="1390.4" cy="1552.9" r="2.2" fill="#000"/>
<circle cx="1390.8" cy="1557.4" r="2.2" fill="#000"/>
<circle cx="1391.3" cy="1540.3" r="2.2" fill="#000"/>
<circle cx="1389.7" cy="1467.3" r="2.2" fill="#000"/>
<circle cx="1393.1" cy="1526.6" r="2.2" fill="#000"/>
<circle cx="1395.1" cy="1576.0" r="2.2" fill="#000"/>
<circle cx="1392.8" cy="1517.6" r="2.2" fill="#000"/>
<circle cx="1390.1" cy="1404.9" r="2.2" fill="#000"/>
<circle cx="1393.0" cy="1407.2" r="2.2" fill="#000"/>
<circle cx="1390.2" cy="1408.4" r="2.2" fill="#000"/>
<circle cx="1392.1" cy="1453.6" r="2.2" fill="#000"/>
<circle cx="1393.8" cy="1462.8" r="2.2" fill="#000"/>
<circle cx="1393.0" cy="1474.2" r="2.2" fill="#000"/>
<line x1="1207.8" y1="1378.1" x2="1207.8" y2="1421.4" stroke="#111" stroke-width="1.4"/>
<line x1="1202.3" y1="1421.4" x2="1212.8" y2="1421.4" stroke="#111" stroke-width="1.4"/>
<line x1="1207.8" y1="1434.6" x2="1207.8" y2="1599.7" stroke="#111" stroke-width="1.4"/>
<line x1="1202.3" y1="1434.6" x2="1212.8" y2="1434.6" stroke="#111" stroke-width="1.4"/>
<line x1="1202.7" y1="1599.0" x2="1407.6" y2="1599.0" stroke="#111" stroke-width="1.4"/>
<line x1="1202.3" y1="1599.0" x2="1207.8" y2="1599.0" stroke="#111" stroke-width="1.4"/>
<text x="1199.8" y="1605.4" font-size="17.8" text-anchor="end">0</text>
<line x1="1202.3" y1="1566.2" x2="1207.8" y2="1566.2" stroke="#111" stroke-width="1.4"/>
<text x="1199.8" y="1572.6" font-size="17.8" text-anchor="end">1000</text>
<line x1="1202.3" y1="1533.3" x2="1207.8" y2="1533.3" stroke="#111" stroke-width="1.4"/>
<text x="1199.8" y="1539.7" font-size="17.8" text-anchor="end">2000</text>
<line x1="1202.3" y1="1500.5" x2="1207.8" y2="1500.5" stroke="#111" stroke-width="1.4"/>
<text x="1199.8" y="1506.9" font-size="17.8" text-anchor="end">3000</text>
<line x1="1202.3" y1="1467.7" x2="1207.8" y2="1467.7" stroke="#111" stroke-width="1.4"/>
<text x="1199.8" y="1474.1" font-size="17.8" text-anchor="end">4000</text>
<line x1="1202.3" y1="1434.8" x2="1207.8" y2="1434.8" stroke="#111" stroke-width="1.4"/>
<text x="1199.8" y="1441.2" font-size="17.8" text-anchor="end">5000</text>
<line x1="1202.3" y1="1407.8" x2="1207.8" y2="1407.8" stroke="#111" stroke-width="1.4"/>
<text x="1199.8" y="1414.2" font-size="17.8" text-anchor="end">10000</text>
<line x1="1202.3" y1="1379.0" x2="1207.8" y2="1379.0" stroke="#111" stroke-width="1.4"/>
<text x="1199.8" y="1385.4" font-size="17.8" text-anchor="end">20000</text>
<line x1="1221.8" y1="1599.0" x2="1221.8" y2="1603.5" stroke="#111" stroke-width="1.4"/>
<text x="1227.1" y="1619.7" font-size="18.6" text-anchor="end" transform="rotate(-45 1227.1 1619.7)">Serum</text>
<line x1="1243.1" y1="1599.0" x2="1243.1" y2="1603.5" stroke="#111" stroke-width="1.4"/>
<text x="1248.4" y="1619.7" font-size="18.6" text-anchor="end" transform="rotate(-45 1248.4 1619.7)">Liver</text>
<line x1="1264.4" y1="1599.0" x2="1264.4" y2="1603.5" stroke="#111" stroke-width="1.4"/>
<text x="1269.7" y="1619.7" font-size="18.6" text-anchor="end" transform="rotate(-45 1269.7 1619.7)">Pancreas</text>
<line x1="1285.7" y1="1599.0" x2="1285.7" y2="1603.5" stroke="#111" stroke-width="1.4"/>
<text x="1291.0" y="1619.7" font-size="18.6" text-anchor="end" transform="rotate(-45 1291.0 1619.7)">Small Int</text>
<line x1="1307.0" y1="1599.0" x2="1307.0" y2="1603.5" stroke="#111" stroke-width="1.4"/>
<text x="1312.3" y="1619.7" font-size="18.6" text-anchor="end" transform="rotate(-45 1312.3 1619.7)">Spleen</text>
<line x1="1328.3" y1="1599.0" x2="1328.3" y2="1603.5" stroke="#111" stroke-width="1.4"/>
<text x="1333.6" y="1619.7" font-size="18.6" text-anchor="end" transform="rotate(-45 1333.6 1619.7)">Muscle</text>
<line x1="1349.6" y1="1599.0" x2="1349.6" y2="1603.5" stroke="#111" stroke-width="1.4"/>
<text x="1354.9" y="1619.7" font-size="18.6" text-anchor="end" transform="rotate(-45 1354.9 1619.7)">Kidney</text>
<line x1="1370.9" y1="1599.0" x2="1370.9" y2="1603.5" stroke="#111" stroke-width="1.4"/>
<text x="1376.2" y="1619.7" font-size="18.6" text-anchor="end" transform="rotate(-45 1376.2 1619.7)">Brain</text>
<line x1="1392.2" y1="1599.0" x2="1392.2" y2="1603.5" stroke="#111" stroke-width="1.4"/>
<text x="1397.5" y="1619.7" font-size="18.6" text-anchor="end" transform="rotate(-45 1397.5 1619.7)">Tumor</text>
<text x="1307.9" y="1346.8" font-size="25.4" text-anchor="middle">Glutamate</text>
<text x="1307.9" y="1705.0" font-size="25" text-anchor="middle">Organ</text>
<text x="1478.2" y="1247.9" font-size="28" font-weight="bold">f</text>
<rect x="1783.8" y="1315.4" width="24.2" height="13.1" fill="#BEBEBE" stroke="#333" stroke-width="1"/>
<text x="1822.0" y="1328.5" font-size="21.8" textLength="118.8" lengthAdjust="spacingAndGlyphs">Early Tumor</text>
<rect x="1783.8" y="1349.3" width="24.2" height="13.6" fill="#4D4D4D" stroke="#222" stroke-width="1"/>
<text x="1822.0" y="1362.9" font-size="21.8" textLength="112.0" lengthAdjust="spacingAndGlyphs">Late Tumor</text>
<rect x="1591.4" y="1571.4" width="18.4" height="27.3" fill="#BEBEBE" stroke="#000" stroke-width="2.3"/>
<line x1="1600.6" y1="1568.8" x2="1600.6" y2="1574.0" stroke="#000" stroke-width="2.2"/>
<line x1="1595.1" y1="1568.8" x2="1606.1" y2="1568.8" stroke="#000" stroke-width="2.2"/>
<line x1="1595.1" y1="1574.0" x2="1606.1" y2="1574.0" stroke="#000" stroke-width="2.2"/>
<circle cx="1596.7" cy="1555.8" r="3.25" fill="#000"/>
<circle cx="1601.3" cy="1559.7" r="3.25" fill="#000"/>
<circle cx="1598.6" cy="1561.0" r="3.25" fill="#000"/>
<circle cx="1602.2" cy="1564.9" r="3.25" fill="#000"/>
<circle cx="1602.5" cy="1570.1" r="3.25" fill="#000"/>
<circle cx="1594.1" cy="1572.7" r="3.25" fill="#000"/>
<circle cx="1593.3" cy="1575.3" r="3.25" fill="#000"/>
<circle cx="1605.7" cy="1577.9" r="3.25" fill="#000"/>
<circle cx="1597.0" cy="1588.3" r="3.25" fill="#000"/>
<circle cx="1596.6" cy="1588.3" r="3.25" fill="#000"/>
<rect x="1621.8" y="1511.7" width="18.4" height="87.0" fill="#4D4D4D" stroke="#000" stroke-width="2.3"/>
<line x1="1631.0" y1="1500.0" x2="1631.0" y2="1523.4" stroke="#000" stroke-width="2.2"/>
<line x1="1625.5" y1="1500.0" x2="1636.5" y2="1500.0" stroke="#000" stroke-width="2.2"/>
<line x1="1625.5" y1="1523.4" x2="1636.5" y2="1523.4" stroke="#000" stroke-width="2.2"/>
<circle cx="1638.4" cy="1396.1" r="3.25" fill="#000"/>
<circle cx="1630.6" cy="1433.7" r="3.25" fill="#000"/>
<circle cx="1636.0" cy="1510.4" r="3.25" fill="#000"/>
<circle cx="1630.6" cy="1513.0" r="3.25" fill="#000"/>
<circle cx="1633.1" cy="1515.6" r="3.25" fill="#000"/>
<circle cx="1625.8" cy="1520.8" r="3.25" fill="#000"/>
<circle cx="1633.0" cy="1526.0" r="3.25" fill="#000"/>
<circle cx="1636.5" cy="1528.6" r="3.25" fill="#000"/>
<circle cx="1631.3" cy="1533.8" r="3.25" fill="#000"/>
<circle cx="1634.6" cy="1538.9" r="3.25" fill="#000"/>
<circle cx="1633.6" cy="1546.7" r="3.25" fill="#000"/>
<circle cx="1624.5" cy="1559.7" r="3.25" fill="#000"/>
<line x1="1615.4" y1="1598.7" x2="1615.4" y2="1605.7" stroke="#333" stroke-width="1.3"/>
<text x="1621.9" y="1619.2" font-size="23.3" text-anchor="end" transform="rotate(-45 1621.9 1619.2)">Proline</text>
<rect x="1672.0" y="1572.7" width="18.4" height="26.0" fill="#BEBEBE" stroke="#000" stroke-width="2.3"/>
<line x1="1681.2" y1="1570.9" x2="1681.2" y2="1574.5" stroke="#000" stroke-width="2.2"/>
<line x1="1675.7" y1="1570.9" x2="1686.7" y2="1570.9" stroke="#000" stroke-width="2.2"/>
<line x1="1675.7" y1="1574.5" x2="1686.7" y2="1574.5" stroke="#000" stroke-width="2.2"/>
<circle cx="1685.1" cy="1559.7" r="3.25" fill="#000"/>
<circle cx="1682.6" cy="1567.5" r="3.25" fill="#000"/>
<circle cx="1678.2" cy="1570.1" r="3.25" fill="#000"/>
<circle cx="1674.2" cy="1571.4" r="3.25" fill="#000"/>
<circle cx="1686.7" cy="1572.7" r="3.25" fill="#000"/>
<circle cx="1680.8" cy="1574.0" r="3.25" fill="#000"/>
<circle cx="1684.5" cy="1575.3" r="3.25" fill="#000"/>
<circle cx="1686.9" cy="1576.6" r="3.25" fill="#000"/>
<circle cx="1684.4" cy="1577.9" r="3.25" fill="#000"/>
<circle cx="1687.5" cy="1584.4" r="3.25" fill="#000"/>
<rect x="1702.4" y="1581.0" width="18.4" height="17.7" fill="#4D4D4D" stroke="#000" stroke-width="2.3"/>
<line x1="1711.6" y1="1579.7" x2="1711.6" y2="1582.3" stroke="#000" stroke-width="2.2"/>
<line x1="1706.1" y1="1579.7" x2="1717.1" y2="1579.7" stroke="#000" stroke-width="2.2"/>
<line x1="1706.1" y1="1582.3" x2="1717.1" y2="1582.3" stroke="#000" stroke-width="2.2"/>
<circle cx="1710.0" cy="1575.3" r="3.25" fill="#000"/>
<circle cx="1716.1" cy="1577.9" r="3.25" fill="#000"/>
<circle cx="1710.8" cy="1579.2" r="3.25" fill="#000"/>
<circle cx="1718.1" cy="1580.5" r="3.25" fill="#000"/>
<circle cx="1717.3" cy="1580.5" r="3.25" fill="#000"/>
<circle cx="1705.6" cy="1581.8" r="3.25" fill="#000"/>
<circle cx="1706.1" cy="1581.8" r="3.25" fill="#000"/>
<circle cx="1707.4" cy="1583.1" r="3.25" fill="#000"/>
<circle cx="1718.6" cy="1583.1" r="3.25" fill="#000"/>
<circle cx="1710.6" cy="1584.4" r="3.25" fill="#000"/>
<circle cx="1713.5" cy="1585.7" r="3.25" fill="#000"/>
<circle cx="1708.6" cy="1587.0" r="3.25" fill="#000"/>
<line x1="1696.0" y1="1598.7" x2="1696.0" y2="1605.7" stroke="#333" stroke-width="1.3"/>
<text x="1702.5" y="1619.2" font-size="23.3" text-anchor="end" transform="rotate(-45 1702.5 1619.2)">Glutamine</text>
<rect x="1753.0" y="1572.7" width="18.4" height="26.0" fill="#BEBEBE" stroke="#000" stroke-width="2.3"/>
<line x1="1762.2" y1="1570.4" x2="1762.2" y2="1575.1" stroke="#000" stroke-width="2.2"/>
<line x1="1756.7" y1="1570.4" x2="1767.7" y2="1570.4" stroke="#000" stroke-width="2.2"/>
<line x1="1756.7" y1="1575.1" x2="1767.7" y2="1575.1" stroke="#000" stroke-width="2.2"/>
<circle cx="1762.3" cy="1553.2" r="3.25" fill="#000"/>
<circle cx="1760.5" cy="1564.9" r="3.25" fill="#000"/>
<circle cx="1760.0" cy="1567.5" r="3.25" fill="#000"/>
<circle cx="1763.5" cy="1570.1" r="3.25" fill="#000"/>
<circle cx="1763.5" cy="1572.7" r="3.25" fill="#000"/>
<circle cx="1768.3" cy="1574.0" r="3.25" fill="#000"/>
<circle cx="1764.9" cy="1575.3" r="3.25" fill="#000"/>
<circle cx="1768.6" cy="1577.9" r="3.25" fill="#000"/>
<circle cx="1767.5" cy="1580.5" r="3.25" fill="#000"/>
<circle cx="1769.6" cy="1585.7" r="3.25" fill="#000"/>
<rect x="1783.4" y="1577.9" width="18.4" height="20.8" fill="#4D4D4D" stroke="#000" stroke-width="2.3"/>
<line x1="1792.6" y1="1576.4" x2="1792.6" y2="1579.5" stroke="#000" stroke-width="2.2"/>
<line x1="1787.1" y1="1576.4" x2="1798.1" y2="1576.4" stroke="#000" stroke-width="2.2"/>
<line x1="1787.1" y1="1579.5" x2="1798.1" y2="1579.5" stroke="#000" stroke-width="2.2"/>
<circle cx="1795.2" cy="1567.5" r="3.25" fill="#000"/>
<circle cx="1787.5" cy="1570.1" r="3.25" fill="#000"/>
<circle cx="1798.0" cy="1572.7" r="3.25" fill="#000"/>
<circle cx="1799.6" cy="1575.3" r="3.25" fill="#000"/>
<circle cx="1798.7" cy="1576.6" r="3.25" fill="#000"/>
<circle cx="1793.6" cy="1577.9" r="3.25" fill="#000"/>
<circle cx="1795.8" cy="1579.2" r="3.25" fill="#000"/>
<circle cx="1788.3" cy="1580.5" r="3.25" fill="#000"/>
<circle cx="1797.6" cy="1580.5" r="3.25" fill="#000"/>
<circle cx="1793.7" cy="1581.8" r="3.25" fill="#000"/>
<circle cx="1789.4" cy="1583.1" r="3.25" fill="#000"/>
<circle cx="1786.1" cy="1585.7" r="3.25" fill="#000"/>
<line x1="1777.0" y1="1598.7" x2="1777.0" y2="1605.7" stroke="#333" stroke-width="1.3"/>
<text x="1783.5" y="1619.2" font-size="23.3" text-anchor="end" transform="rotate(-45 1783.5 1619.2)">Arginine</text>
<rect x="1834.0" y="1572.7" width="18.4" height="26.0" fill="#BEBEBE" stroke="#000" stroke-width="2.3"/>
<line x1="1843.2" y1="1570.6" x2="1843.2" y2="1574.8" stroke="#000" stroke-width="2.2"/>
<line x1="1837.7" y1="1570.6" x2="1848.7" y2="1570.6" stroke="#000" stroke-width="2.2"/>
<line x1="1837.7" y1="1574.8" x2="1848.7" y2="1574.8" stroke="#000" stroke-width="2.2"/>
<circle cx="1848.5" cy="1559.7" r="3.25" fill="#000"/>
<circle cx="1850.5" cy="1567.5" r="3.25" fill="#000"/>
<circle cx="1837.0" cy="1568.8" r="3.25" fill="#000"/>
<circle cx="1847.7" cy="1570.1" r="3.25" fill="#000"/>
<circle cx="1841.9" cy="1572.7" r="3.25" fill="#000"/>
<circle cx="1838.0" cy="1574.0" r="3.25" fill="#000"/>
<circle cx="1840.1" cy="1575.3" r="3.25" fill="#000"/>
<circle cx="1847.2" cy="1577.9" r="3.25" fill="#000"/>
<circle cx="1848.8" cy="1583.1" r="3.25" fill="#000"/>
<circle cx="1836.4" cy="1592.2" r="3.25" fill="#000"/>
<rect x="1864.4" y="1564.9" width="18.4" height="33.8" fill="#4D4D4D" stroke="#000" stroke-width="2.3"/>
<line x1="1873.6" y1="1562.8" x2="1873.6" y2="1567.0" stroke="#000" stroke-width="2.2"/>
<line x1="1868.1" y1="1562.8" x2="1879.1" y2="1562.8" stroke="#000" stroke-width="2.2"/>
<line x1="1868.1" y1="1567.0" x2="1879.1" y2="1567.0" stroke="#000" stroke-width="2.2"/>
<circle cx="1875.3" cy="1551.9" r="3.25" fill="#000"/>
<circle cx="1866.8" cy="1557.1" r="3.25" fill="#000"/>
<circle cx="1876.9" cy="1559.7" r="3.25" fill="#000"/>
<circle cx="1871.1" cy="1561.0" r="3.25" fill="#000"/>
<circle cx="1879.3" cy="1562.3" r="3.25" fill="#000"/>
<circle cx="1880.8" cy="1564.9" r="3.25" fill="#000"/>
<circle cx="1873.7" cy="1566.2" r="3.25" fill="#000"/>
<circle cx="1881.1" cy="1567.5" r="3.25" fill="#000"/>
<circle cx="1870.7" cy="1570.1" r="3.25" fill="#000"/>
<circle cx="1867.3" cy="1572.7" r="3.25" fill="#000"/>
<circle cx="1875.1" cy="1574.0" r="3.25" fill="#000"/>
<circle cx="1866.6" cy="1575.3" r="3.25" fill="#000"/>
<line x1="1858.0" y1="1598.7" x2="1858.0" y2="1605.7" stroke="#333" stroke-width="1.3"/>
<text x="1864.5" y="1619.2" font-size="23.3" text-anchor="end" transform="rotate(-45 1864.5 1619.2)">Glutamate</text>
<line x1="1580.2" y1="1390.9" x2="1580.2" y2="1599.3" stroke="#333" stroke-width="1.3"/>
<line x1="1571.7" y1="1598.7" x2="1892.8" y2="1598.7" stroke="#333" stroke-width="1.3"/>
<line x1="1572.7" y1="1598.7" x2="1580.2" y2="1598.7" stroke="#333" stroke-width="1.3"/>
<text x="1568.7" y="1605.2" font-size="18.2" text-anchor="end">0</text>
<line x1="1572.7" y1="1546.7" x2="1580.2" y2="1546.7" stroke="#333" stroke-width="1.3"/>
<text x="1568.7" y="1553.2" font-size="18.2" text-anchor="end">2</text>
<line x1="1572.7" y1="1494.8" x2="1580.2" y2="1494.8" stroke="#333" stroke-width="1.3"/>
<text x="1568.7" y="1501.3" font-size="18.2" text-anchor="end">4</text>
<line x1="1572.7" y1="1442.8" x2="1580.2" y2="1442.8" stroke="#333" stroke-width="1.3"/>
<text x="1568.7" y="1449.3" font-size="18.2" text-anchor="end">6</text>
<line x1="1572.7" y1="1390.9" x2="1580.2" y2="1390.9" stroke="#333" stroke-width="1.3"/>
<text x="1568.7" y="1397.4" font-size="18.2" text-anchor="end">8</text>
<text x="1528.0" y="1494.8" font-size="25.3" text-anchor="middle" transform="rotate(-90 1528.0 1494.8)" textLength="207.8" lengthAdjust="spacingAndGlyphs">Relative Ion Count</text>
<text x="1617.1" y="1380.8" font-size="34.5" text-anchor="middle">***</text>
<text x="1690.5" y="1417.2" font-size="34.5" text-anchor="middle">**</text>
</svg>
</body></html>
